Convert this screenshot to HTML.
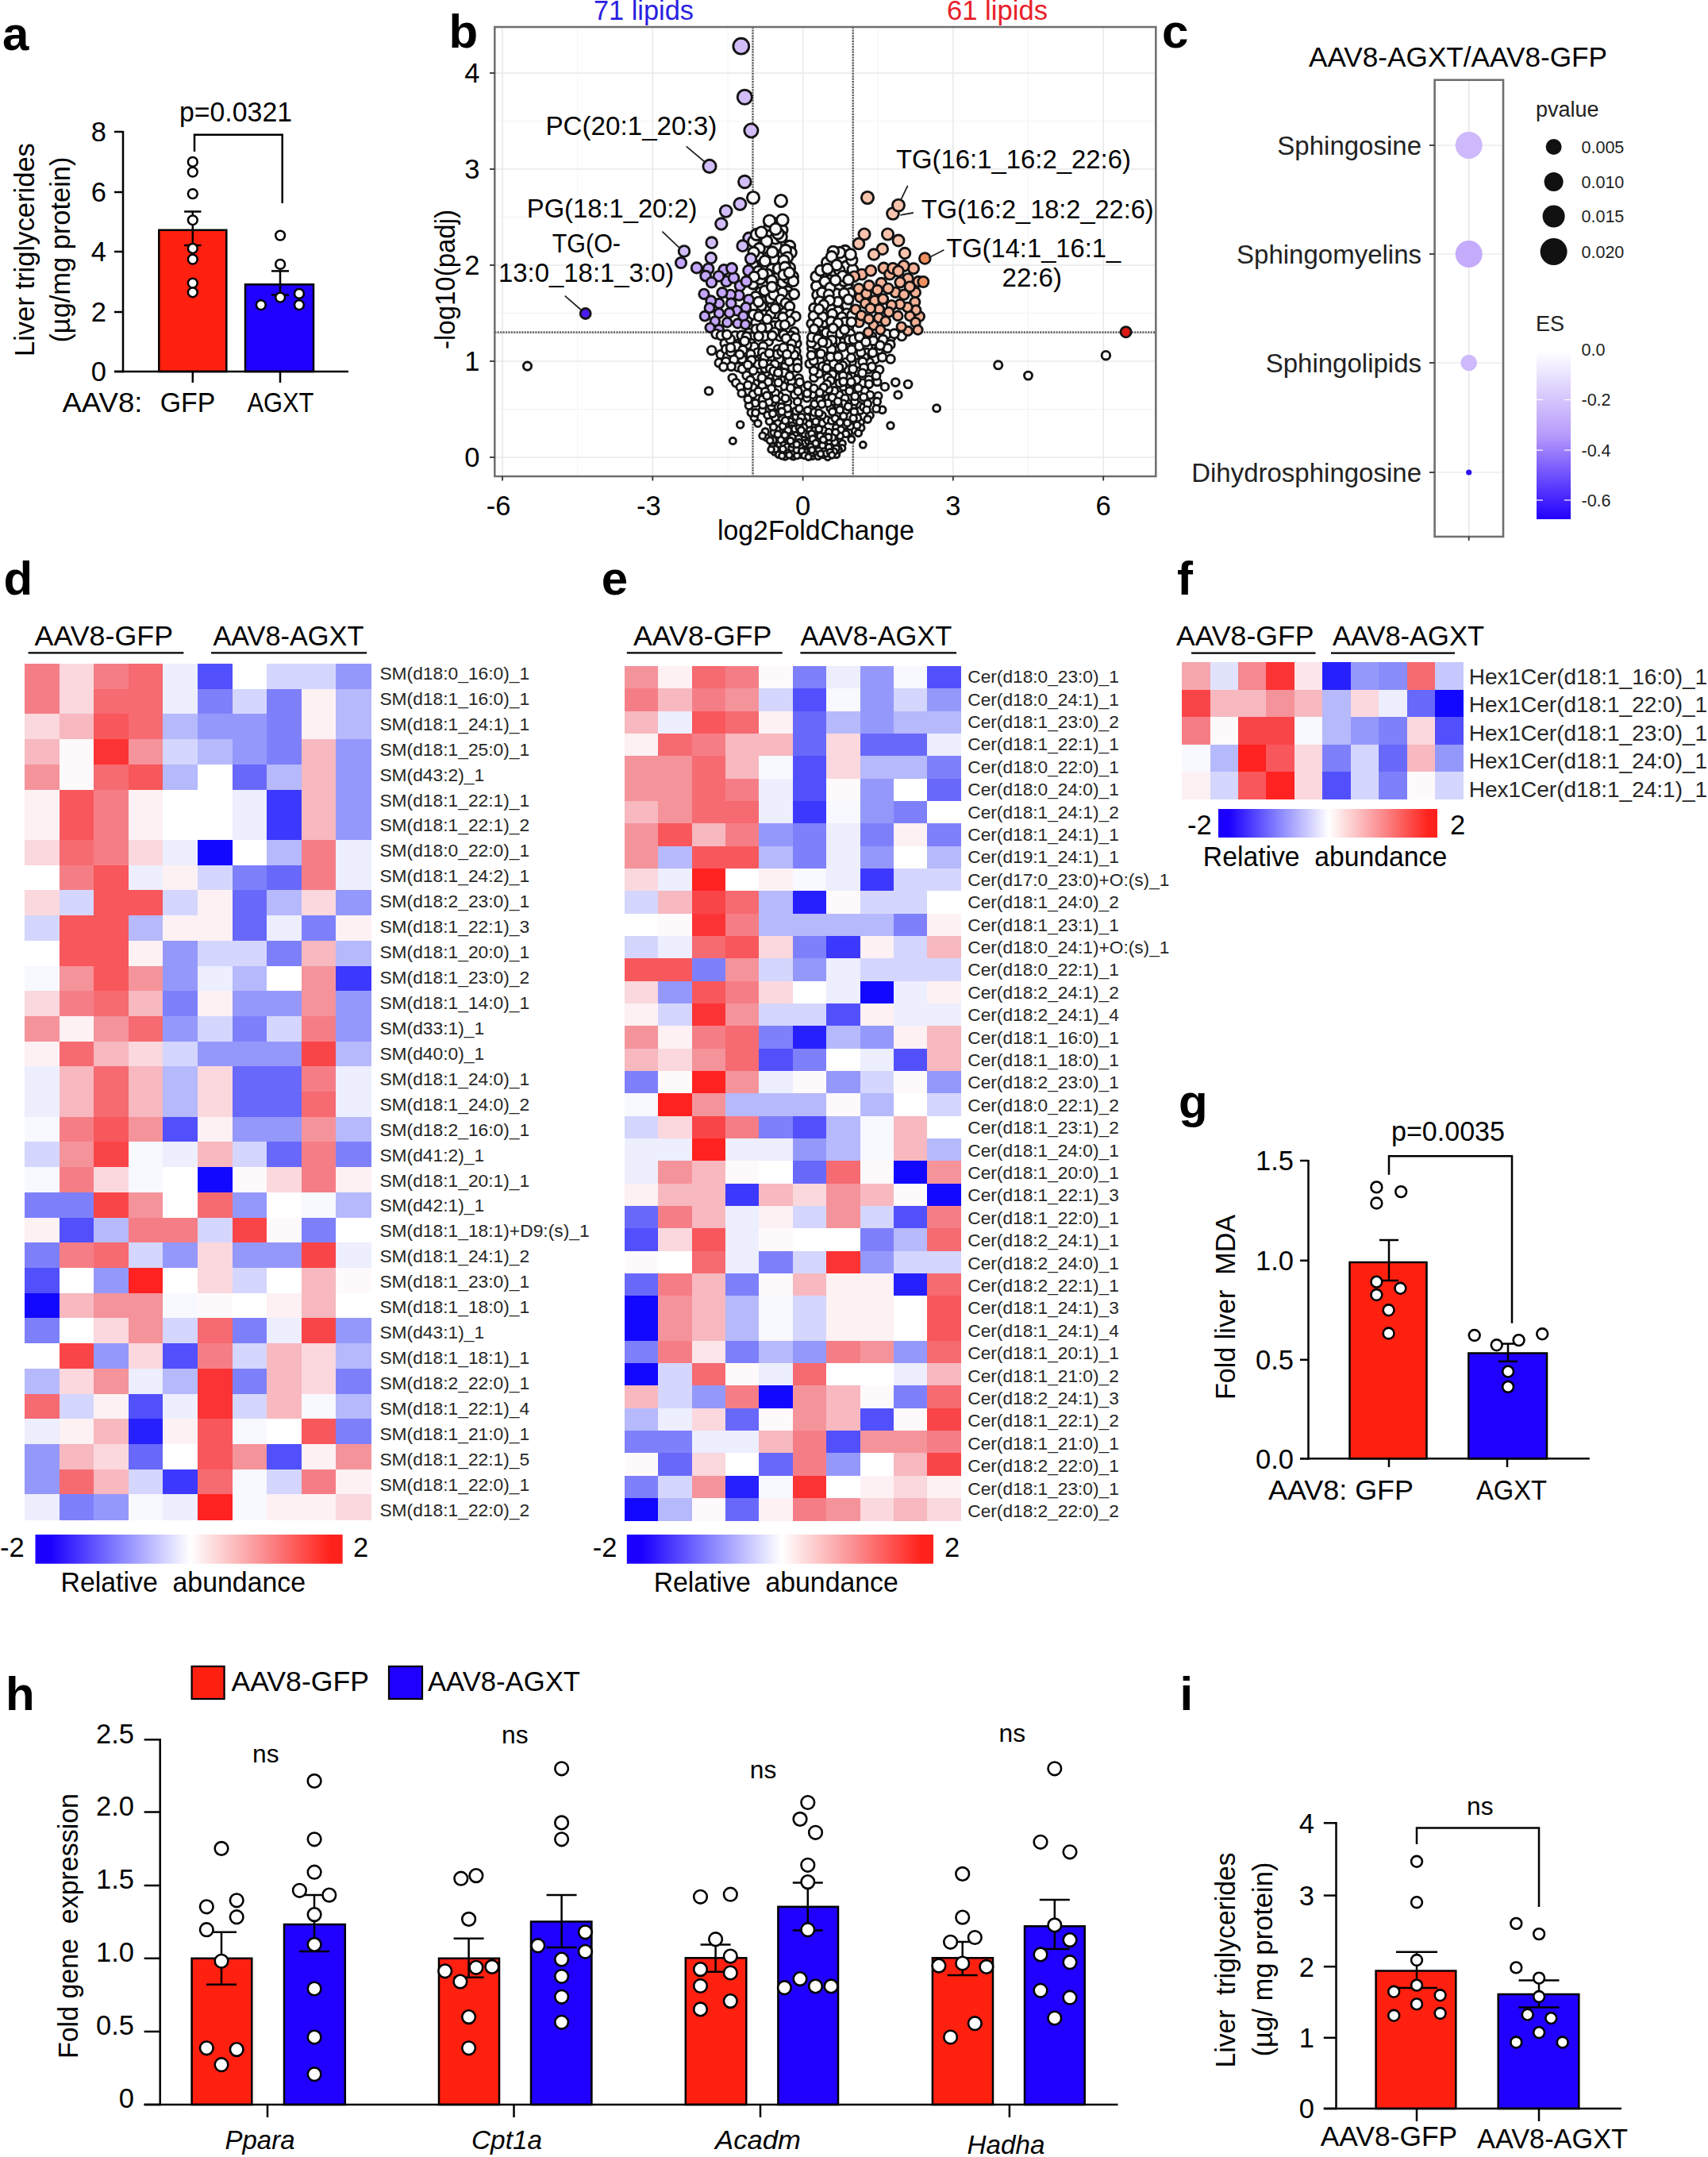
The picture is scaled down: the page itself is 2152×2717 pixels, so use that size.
<!DOCTYPE html>
<html lang="en"><head><meta charset="utf-8"><title>Figure</title>
<style>
html,body{margin:0;padding:0;background:#fff;}
body{width:2152px;height:2717px;overflow:hidden;}
svg{display:block;font-family:'Liberation Sans', Arial, sans-serif;}
</style></head><body>
<svg width="2152" height="2717" viewBox="0 0 2152 2717">
<rect width="2152" height="2717" fill="#fff"/>
<text x="3.0" y="63.0" font-size="60" font-weight="bold" fill="#000">a</text>
<rect x="200.3" y="289.8" width="85.0" height="178.2" fill="#ff2010" stroke="#000" stroke-width="2.5"/>
<rect x="309.0" y="358.3" width="86.0" height="109.7" fill="#2000ff" stroke="#000" stroke-width="2.5"/>
<line x1="155.0" y1="165.0" x2="155.0" y2="469.2" stroke="#000" stroke-width="2.5"/>
<line x1="144.0" y1="468.0" x2="439.0" y2="468.0" stroke="#000" stroke-width="2.5"/>
<line x1="144.0" y1="166.0" x2="155.0" y2="166.0" stroke="#000" stroke-width="2.5"/>
<text x="134.0" y="178.3" font-size="34.5" text-anchor="end">8</text>
<line x1="144.0" y1="242.0" x2="155.0" y2="242.0" stroke="#000" stroke-width="2.5"/>
<text x="134.0" y="254.3" font-size="34.5" text-anchor="end">6</text>
<line x1="144.0" y1="317.0" x2="155.0" y2="317.0" stroke="#000" stroke-width="2.5"/>
<text x="134.0" y="329.3" font-size="34.5" text-anchor="end">4</text>
<line x1="144.0" y1="393.0" x2="155.0" y2="393.0" stroke="#000" stroke-width="2.5"/>
<text x="134.0" y="405.3" font-size="34.5" text-anchor="end">2</text>
<line x1="144.0" y1="468.0" x2="155.0" y2="468.0" stroke="#000" stroke-width="2.5"/>
<text x="134.0" y="480.3" font-size="34.5" text-anchor="end">0</text>
<line x1="242.8" y1="468.0" x2="242.8" y2="482.0" stroke="#000" stroke-width="2.5"/>
<line x1="353.0" y1="468.0" x2="353.0" y2="482.0" stroke="#000" stroke-width="2.5"/>
<line x1="242.8" y1="266.5" x2="242.8" y2="309.0" stroke="#000" stroke-width="2.5"/>
<line x1="232.1" y1="266.5" x2="253.5" y2="266.5" stroke="#000" stroke-width="2.5"/>
<line x1="232.1" y1="309.0" x2="253.5" y2="309.0" stroke="#000" stroke-width="2.5"/>
<line x1="353.0" y1="341.4" x2="353.0" y2="371.5" stroke="#000" stroke-width="2.5"/>
<line x1="342.0" y1="341.4" x2="364.0" y2="341.4" stroke="#000" stroke-width="2.5"/>
<line x1="342.0" y1="371.5" x2="364.0" y2="371.5" stroke="#000" stroke-width="2.5"/>
<circle cx="242.8" cy="203.9" r="5.9" fill="#fff" stroke="#000" stroke-width="2.5"/>
<circle cx="242.8" cy="216.6" r="5.9" fill="#fff" stroke="#000" stroke-width="2.5"/>
<circle cx="242.8" cy="244.1" r="5.9" fill="#fff" stroke="#000" stroke-width="2.5"/>
<circle cx="242.8" cy="277.3" r="5.9" fill="#fff" stroke="#000" stroke-width="2.5"/>
<circle cx="242.8" cy="313.0" r="5.9" fill="#fff" stroke="#000" stroke-width="2.5"/>
<circle cx="242.8" cy="326.6" r="5.9" fill="#fff" stroke="#000" stroke-width="2.5"/>
<circle cx="242.8" cy="356.6" r="5.9" fill="#fff" stroke="#000" stroke-width="2.5"/>
<circle cx="242.8" cy="368.3" r="5.9" fill="#fff" stroke="#000" stroke-width="2.5"/>
<circle cx="353.1" cy="296.6" r="5.9" fill="#fff" stroke="#000" stroke-width="2.5"/>
<circle cx="353.1" cy="332.9" r="5.9" fill="#fff" stroke="#000" stroke-width="2.5"/>
<circle cx="328.8" cy="384.1" r="5.9" fill="#fff" stroke="#000" stroke-width="2.5"/>
<circle cx="353.1" cy="374.6" r="5.9" fill="#fff" stroke="#000" stroke-width="2.5"/>
<circle cx="376.9" cy="369.9" r="5.9" fill="#fff" stroke="#000" stroke-width="2.5"/>
<circle cx="376.9" cy="384.1" r="5.9" fill="#fff" stroke="#000" stroke-width="2.5"/>
<text x="226.0" y="153.0" font-size="34.5" textLength="142.0" lengthAdjust="spacingAndGlyphs">p=0.0321</text>
<polyline fill="none" stroke="#000" stroke-width="2.5" points="245.0,191.0 245.0,169.7 355.7,169.7 355.7,256.0"/>
<text x="78.4" y="518.5" font-size="34.5" textLength="101.0" lengthAdjust="spacingAndGlyphs">AAV8:</text>
<text x="201.7" y="518.5" font-size="34.5" textLength="69.5" lengthAdjust="spacingAndGlyphs">GFP</text>
<text x="311.4" y="518.5" font-size="34.5" textLength="84.0" lengthAdjust="spacingAndGlyphs">AGXT</text>
<text x="42.7" y="314.6" font-size="34.5" text-anchor="middle" textLength="269.0" lengthAdjust="spacingAndGlyphs" transform="rotate(-90 42.7 314.6)">Liver  triglycerides</text>
<text x="88.5" y="314.6" font-size="34.5" text-anchor="middle" textLength="234.0" lengthAdjust="spacingAndGlyphs" transform="rotate(-90 88.5 314.6)">(µg/mg protein)</text>
<rect x="623.3" y="34.0" width="833.0" height="566.0" fill="#fff"/>
<line x1="727.7" y1="34.0" x2="727.7" y2="600.0" stroke="#f3f3f3" stroke-width="1"/>
<line x1="917.0" y1="34.0" x2="917.0" y2="600.0" stroke="#f3f3f3" stroke-width="1"/>
<line x1="1106.2" y1="34.0" x2="1106.2" y2="600.0" stroke="#f3f3f3" stroke-width="1"/>
<line x1="1295.5" y1="34.0" x2="1295.5" y2="600.0" stroke="#f3f3f3" stroke-width="1"/>
<line x1="623.3" y1="515.5" x2="1456.3" y2="515.5" stroke="#f3f3f3" stroke-width="1"/>
<line x1="623.3" y1="394.5" x2="1456.3" y2="394.5" stroke="#f3f3f3" stroke-width="1"/>
<line x1="623.3" y1="273.5" x2="1456.3" y2="273.5" stroke="#f3f3f3" stroke-width="1"/>
<line x1="623.3" y1="152.5" x2="1456.3" y2="152.5" stroke="#f3f3f3" stroke-width="1"/>
<line x1="633.0" y1="34.0" x2="633.0" y2="600.0" stroke="#e9e9e9" stroke-width="1.6"/>
<line x1="822.3" y1="34.0" x2="822.3" y2="600.0" stroke="#e9e9e9" stroke-width="1.6"/>
<line x1="1011.6" y1="34.0" x2="1011.6" y2="600.0" stroke="#e9e9e9" stroke-width="1.6"/>
<line x1="1200.9" y1="34.0" x2="1200.9" y2="600.0" stroke="#e9e9e9" stroke-width="1.6"/>
<line x1="1390.2" y1="34.0" x2="1390.2" y2="600.0" stroke="#e9e9e9" stroke-width="1.6"/>
<line x1="623.3" y1="576.0" x2="1456.3" y2="576.0" stroke="#e9e9e9" stroke-width="1.6"/>
<line x1="623.3" y1="455.0" x2="1456.3" y2="455.0" stroke="#e9e9e9" stroke-width="1.6"/>
<line x1="623.3" y1="334.0" x2="1456.3" y2="334.0" stroke="#e9e9e9" stroke-width="1.6"/>
<line x1="623.3" y1="213.0" x2="1456.3" y2="213.0" stroke="#e9e9e9" stroke-width="1.6"/>
<line x1="623.3" y1="92.0" x2="1456.3" y2="92.0" stroke="#e9e9e9" stroke-width="1.6"/>
<line x1="948.5" y1="34.0" x2="948.5" y2="600.0" stroke="#5a5a5a" stroke-width="2.4" stroke-dasharray="2.2 1.2"/>
<line x1="1074.7" y1="34.0" x2="1074.7" y2="600.0" stroke="#5a5a5a" stroke-width="2.4" stroke-dasharray="2.2 1.2"/>
<line x1="623.3" y1="418.7" x2="1456.3" y2="418.7" stroke="#6a6a6a" stroke-width="2.8" stroke-dasharray="2.2 1.2"/>
<circle cx="933.8" cy="58.2" r="9.9" fill="#d2bdf8" stroke="#141414" stroke-width="2.9"/>
<circle cx="938.3" cy="122.3" r="9.1" fill="#d2bdf8" stroke="#141414" stroke-width="2.9"/>
<circle cx="946.4" cy="164.5" r="8.6" fill="#d2bdf8" stroke="#141414" stroke-width="2.9"/>
<circle cx="894.0" cy="209.4" r="8.1" fill="#d2bdf8" stroke="#141414" stroke-width="2.9"/>
<circle cx="1093.0" cy="249.0" r="7.6" fill="#f8c3ad" stroke="#141414" stroke-width="2.9"/>
<circle cx="938.3" cy="229.0" r="7.8" fill="#d2bdf8" stroke="#141414" stroke-width="2.9"/>
<circle cx="1125.0" cy="269.0" r="7.4" fill="#f8c3ad" stroke="#141414" stroke-width="2.9"/>
<circle cx="949.0" cy="249.0" r="7.6" fill="#fafafa" stroke="#141414" stroke-width="2.9"/>
<circle cx="984.0" cy="253.0" r="7.6" fill="#fafafa" stroke="#141414" stroke-width="2.9"/>
<circle cx="985.0" cy="289.7" r="7.1" fill="#fafafa" stroke="#141414" stroke-width="2.9"/>
<circle cx="914.7" cy="266.0" r="7.4" fill="#d2bdf8" stroke="#141414" stroke-width="2.9"/>
<circle cx="969.3" cy="287.9" r="7.1" fill="#fafafa" stroke="#141414" stroke-width="2.9"/>
<circle cx="932.4" cy="257.0" r="7.5" fill="#d2bdf8" stroke="#141414" stroke-width="2.9"/>
<circle cx="975.3" cy="281.7" r="7.2" fill="#fafafa" stroke="#141414" stroke-width="2.9"/>
<circle cx="943.7" cy="300.0" r="7.0" fill="#d2bdf8" stroke="#141414" stroke-width="2.9"/>
<circle cx="1132.0" cy="258.6" r="7.5" fill="#f8c3ad" stroke="#141414" stroke-width="2.9"/>
<circle cx="985.9" cy="277.2" r="7.3" fill="#fafafa" stroke="#141414" stroke-width="2.9"/>
<circle cx="949.5" cy="304.2" r="6.9" fill="#fafafa" stroke="#141414" stroke-width="2.9"/>
<circle cx="987.0" cy="308.0" r="6.9" fill="#fafafa" stroke="#141414" stroke-width="2.9"/>
<circle cx="977.9" cy="309.7" r="6.9" fill="#fafafa" stroke="#141414" stroke-width="2.9"/>
<circle cx="935.7" cy="309.7" r="6.9" fill="#d2bdf8" stroke="#141414" stroke-width="2.9"/>
<circle cx="1082.0" cy="307.0" r="6.9" fill="#f8c3ad" stroke="#141414" stroke-width="2.9"/>
<circle cx="862.0" cy="316.4" r="6.8" fill="#d2bdf8" stroke="#141414" stroke-width="2.9"/>
<circle cx="970.1" cy="297.0" r="7.0" fill="#fafafa" stroke="#141414" stroke-width="2.9"/>
<circle cx="1089.0" cy="295.0" r="7.1" fill="#f8c3ad" stroke="#141414" stroke-width="2.9"/>
<circle cx="977.2" cy="300.3" r="7.0" fill="#fafafa" stroke="#141414" stroke-width="2.9"/>
<circle cx="984.4" cy="298.3" r="7.0" fill="#fafafa" stroke="#141414" stroke-width="2.9"/>
<circle cx="969.5" cy="278.2" r="7.3" fill="#fafafa" stroke="#141414" stroke-width="2.9"/>
<circle cx="908.8" cy="282.0" r="7.2" fill="#d2bdf8" stroke="#141414" stroke-width="2.9"/>
<circle cx="963.1" cy="315.2" r="6.8" fill="#fafafa" stroke="#141414" stroke-width="2.9"/>
<circle cx="980.2" cy="294.0" r="7.1" fill="#fafafa" stroke="#141414" stroke-width="2.9"/>
<circle cx="965.8" cy="304.0" r="7.0" fill="#fafafa" stroke="#141414" stroke-width="2.9"/>
<circle cx="977.2" cy="288.5" r="7.1" fill="#fafafa" stroke="#141414" stroke-width="2.9"/>
<circle cx="858.0" cy="331.0" r="6.6" fill="#c3a5fa" stroke="#141414" stroke-width="2.9"/>
<circle cx="896.7" cy="305.7" r="6.9" fill="#d2bdf8" stroke="#141414" stroke-width="2.9"/>
<circle cx="981.8" cy="332.1" r="6.6" fill="#fafafa" stroke="#141414" stroke-width="2.9"/>
<circle cx="877.8" cy="337.4" r="6.6" fill="#c3a5fa" stroke="#141414" stroke-width="2.9"/>
<circle cx="953.2" cy="295.4" r="7.1" fill="#fafafa" stroke="#141414" stroke-width="2.9"/>
<circle cx="1132.0" cy="303.0" r="7.0" fill="#f8c3ad" stroke="#141414" stroke-width="2.9"/>
<circle cx="1064.8" cy="316.1" r="6.8" fill="#fafafa" stroke="#141414" stroke-width="2.9"/>
<circle cx="912.1" cy="340.0" r="6.5" fill="#c3a5fa" stroke="#141414" stroke-width="2.9"/>
<circle cx="959.3" cy="292.7" r="7.1" fill="#fafafa" stroke="#141414" stroke-width="2.9"/>
<circle cx="994.9" cy="310.1" r="6.9" fill="#fafafa" stroke="#141414" stroke-width="2.9"/>
<circle cx="1118.5" cy="295.0" r="7.1" fill="#f8c3ad" stroke="#141414" stroke-width="2.9"/>
<circle cx="996.6" cy="318.1" r="6.8" fill="#fafafa" stroke="#141414" stroke-width="2.9"/>
<circle cx="1066.5" cy="335.3" r="6.6" fill="#fafafa" stroke="#141414" stroke-width="2.9"/>
<circle cx="1058.1" cy="318.1" r="6.8" fill="#fafafa" stroke="#141414" stroke-width="2.9"/>
<circle cx="956.6" cy="313.0" r="6.8" fill="#fafafa" stroke="#141414" stroke-width="2.9"/>
<circle cx="1151.0" cy="338.2" r="6.6" fill="#f6b297" stroke="#141414" stroke-width="2.9"/>
<circle cx="999.2" cy="348.2" r="6.4" fill="#fafafa" stroke="#141414" stroke-width="2.9"/>
<circle cx="1074.4" cy="339.6" r="6.5" fill="#fafafa" stroke="#141414" stroke-width="2.9"/>
<circle cx="987.2" cy="320.7" r="6.8" fill="#fafafa" stroke="#141414" stroke-width="2.9"/>
<circle cx="957.1" cy="324.6" r="6.7" fill="#fafafa" stroke="#141414" stroke-width="2.9"/>
<circle cx="955.0" cy="335.1" r="6.6" fill="#fafafa" stroke="#141414" stroke-width="2.9"/>
<circle cx="1049.8" cy="316.9" r="6.8" fill="#fafafa" stroke="#141414" stroke-width="2.9"/>
<circle cx="1111.8" cy="313.7" r="6.8" fill="#f8c3ad" stroke="#141414" stroke-width="2.9"/>
<circle cx="962.5" cy="336.8" r="6.6" fill="#fafafa" stroke="#141414" stroke-width="2.9"/>
<circle cx="1138.7" cy="335.0" r="6.6" fill="#f6b297" stroke="#141414" stroke-width="2.9"/>
<circle cx="1113.5" cy="337.6" r="6.6" fill="#f6b297" stroke="#141414" stroke-width="2.9"/>
<circle cx="1047.8" cy="345.3" r="6.5" fill="#fafafa" stroke="#141414" stroke-width="2.9"/>
<circle cx="915.2" cy="354.5" r="6.4" fill="#c3a5fa" stroke="#141414" stroke-width="2.9"/>
<circle cx="989.8" cy="315.1" r="6.8" fill="#fafafa" stroke="#141414" stroke-width="2.9"/>
<circle cx="948.7" cy="333.8" r="6.6" fill="#fafafa" stroke="#141414" stroke-width="2.9"/>
<circle cx="972.4" cy="339.4" r="6.5" fill="#fafafa" stroke="#141414" stroke-width="2.9"/>
<circle cx="1085.8" cy="345.6" r="6.5" fill="#f6b297" stroke="#141414" stroke-width="2.9"/>
<circle cx="969.1" cy="323.3" r="6.7" fill="#fafafa" stroke="#141414" stroke-width="2.9"/>
<circle cx="965.7" cy="352.0" r="6.4" fill="#fafafa" stroke="#141414" stroke-width="2.9"/>
<circle cx="932.3" cy="360.2" r="6.3" fill="#c3a5fa" stroke="#141414" stroke-width="2.9"/>
<circle cx="1073.3" cy="327.7" r="6.7" fill="#fafafa" stroke="#141414" stroke-width="2.9"/>
<circle cx="1028.7" cy="360.5" r="6.3" fill="#fafafa" stroke="#141414" stroke-width="2.9"/>
<circle cx="1057.7" cy="340.4" r="6.5" fill="#fafafa" stroke="#141414" stroke-width="2.9"/>
<circle cx="961.0" cy="359.3" r="6.3" fill="#fafafa" stroke="#141414" stroke-width="2.9"/>
<circle cx="1067.6" cy="358.3" r="6.3" fill="#fafafa" stroke="#141414" stroke-width="2.9"/>
<circle cx="1101.0" cy="320.5" r="6.8" fill="#f8c3ad" stroke="#141414" stroke-width="2.9"/>
<circle cx="1028.2" cy="348.4" r="6.4" fill="#fafafa" stroke="#141414" stroke-width="2.9"/>
<circle cx="975.0" cy="326.1" r="6.7" fill="#fafafa" stroke="#141414" stroke-width="2.9"/>
<circle cx="943.1" cy="340.9" r="6.5" fill="#c3a5fa" stroke="#141414" stroke-width="2.9"/>
<circle cx="967.2" cy="345.7" r="6.5" fill="#fafafa" stroke="#141414" stroke-width="2.9"/>
<circle cx="948.6" cy="357.7" r="6.3" fill="#fafafa" stroke="#141414" stroke-width="2.9"/>
<circle cx="905.5" cy="348.0" r="6.4" fill="#c3a5fa" stroke="#141414" stroke-width="2.9"/>
<circle cx="1042.0" cy="330.5" r="6.6" fill="#fafafa" stroke="#141414" stroke-width="2.9"/>
<circle cx="963.8" cy="328.8" r="6.7" fill="#fafafa" stroke="#141414" stroke-width="2.9"/>
<circle cx="973.1" cy="317.5" r="6.8" fill="#fafafa" stroke="#141414" stroke-width="2.9"/>
<circle cx="980.6" cy="338.6" r="6.5" fill="#fafafa" stroke="#141414" stroke-width="2.9"/>
<circle cx="1140.0" cy="319.0" r="6.8" fill="#f8c3ad" stroke="#141414" stroke-width="2.9"/>
<circle cx="981.5" cy="359.9" r="6.3" fill="#fafafa" stroke="#141414" stroke-width="2.9"/>
<circle cx="1144.0" cy="351.0" r="6.4" fill="#f6b297" stroke="#141414" stroke-width="2.9"/>
<circle cx="1121.0" cy="345.6" r="6.5" fill="#f6b297" stroke="#141414" stroke-width="2.9"/>
<circle cx="992.1" cy="324.3" r="6.7" fill="#fafafa" stroke="#141414" stroke-width="2.9"/>
<circle cx="924.5" cy="350.0" r="6.4" fill="#c3a5fa" stroke="#141414" stroke-width="2.9"/>
<circle cx="1157.2" cy="354.7" r="6.4" fill="#f6b297" stroke="#141414" stroke-width="2.9"/>
<circle cx="1125.0" cy="338.0" r="6.6" fill="#f6b297" stroke="#141414" stroke-width="2.9"/>
<circle cx="895.8" cy="325.0" r="6.7" fill="#d2bdf8" stroke="#141414" stroke-width="2.9"/>
<circle cx="949.6" cy="318.0" r="6.8" fill="#fafafa" stroke="#141414" stroke-width="2.9"/>
<circle cx="957.8" cy="368.3" r="6.2" fill="#fafafa" stroke="#141414" stroke-width="2.9"/>
<circle cx="986.2" cy="355.8" r="6.3" fill="#fafafa" stroke="#141414" stroke-width="2.9"/>
<circle cx="1047.8" cy="323.2" r="6.7" fill="#fafafa" stroke="#141414" stroke-width="2.9"/>
<circle cx="1110.3" cy="356.5" r="6.3" fill="#f6b297" stroke="#141414" stroke-width="2.9"/>
<circle cx="1071.6" cy="320.4" r="6.8" fill="#fafafa" stroke="#141414" stroke-width="2.9"/>
<circle cx="955.6" cy="341.7" r="6.5" fill="#fafafa" stroke="#141414" stroke-width="2.9"/>
<circle cx="931.1" cy="372.1" r="6.2" fill="#c3a5fa" stroke="#141414" stroke-width="2.9"/>
<circle cx="892.5" cy="338.6" r="6.5" fill="#c3a5fa" stroke="#141414" stroke-width="2.9"/>
<circle cx="1083.6" cy="374.5" r="6.1" fill="#f6b297" stroke="#141414" stroke-width="2.9"/>
<circle cx="987.5" cy="328.3" r="6.7" fill="#fafafa" stroke="#141414" stroke-width="2.9"/>
<circle cx="992.2" cy="350.2" r="6.4" fill="#fafafa" stroke="#141414" stroke-width="2.9"/>
<circle cx="995.1" cy="337.5" r="6.6" fill="#fafafa" stroke="#141414" stroke-width="2.9"/>
<circle cx="1054.2" cy="333.9" r="6.6" fill="#fafafa" stroke="#141414" stroke-width="2.9"/>
<circle cx="1102.0" cy="378.7" r="6.1" fill="#f6b297" stroke="#141414" stroke-width="2.9"/>
<circle cx="1046.2" cy="353.0" r="6.4" fill="#fafafa" stroke="#141414" stroke-width="2.9"/>
<circle cx="957.8" cy="351.8" r="6.4" fill="#fafafa" stroke="#141414" stroke-width="2.9"/>
<circle cx="946.0" cy="326.0" r="6.7" fill="#d2bdf8" stroke="#141414" stroke-width="2.9"/>
<circle cx="1038.9" cy="374.4" r="6.1" fill="#fafafa" stroke="#141414" stroke-width="2.9"/>
<circle cx="984.2" cy="385.6" r="6.0" fill="#fafafa" stroke="#141414" stroke-width="2.9"/>
<circle cx="952.1" cy="373.6" r="6.1" fill="#fafafa" stroke="#141414" stroke-width="2.9"/>
<circle cx="1134.1" cy="355.7" r="6.3" fill="#f6b297" stroke="#141414" stroke-width="2.9"/>
<circle cx="1057.5" cy="363.4" r="6.3" fill="#fafafa" stroke="#141414" stroke-width="2.9"/>
<circle cx="889.1" cy="347.6" r="6.4" fill="#c3a5fa" stroke="#141414" stroke-width="2.9"/>
<circle cx="1053.8" cy="370.0" r="6.2" fill="#fafafa" stroke="#141414" stroke-width="2.9"/>
<circle cx="1039.3" cy="354.8" r="6.4" fill="#fafafa" stroke="#141414" stroke-width="2.9"/>
<circle cx="962.3" cy="379.9" r="6.1" fill="#fafafa" stroke="#141414" stroke-width="2.9"/>
<circle cx="1033.9" cy="340.8" r="6.5" fill="#fafafa" stroke="#141414" stroke-width="2.9"/>
<circle cx="992.7" cy="367.0" r="6.2" fill="#fafafa" stroke="#141414" stroke-width="2.9"/>
<circle cx="922.0" cy="338.1" r="6.6" fill="#c3a5fa" stroke="#141414" stroke-width="2.9"/>
<circle cx="1128.2" cy="368.3" r="6.2" fill="#f6b297" stroke="#141414" stroke-width="2.9"/>
<circle cx="989.1" cy="336.6" r="6.6" fill="#fafafa" stroke="#141414" stroke-width="2.9"/>
<circle cx="1082.0" cy="363.8" r="6.3" fill="#f6b297" stroke="#141414" stroke-width="2.9"/>
<circle cx="1029.8" cy="371.6" r="6.2" fill="#fafafa" stroke="#141414" stroke-width="2.9"/>
<circle cx="920.5" cy="371.3" r="6.2" fill="#c3a5fa" stroke="#141414" stroke-width="2.9"/>
<circle cx="1091.6" cy="370.0" r="6.2" fill="#f6b297" stroke="#141414" stroke-width="2.9"/>
<circle cx="960.9" cy="345.0" r="6.5" fill="#fafafa" stroke="#141414" stroke-width="2.9"/>
<circle cx="1046.0" cy="362.4" r="6.3" fill="#fafafa" stroke="#141414" stroke-width="2.9"/>
<circle cx="1042.7" cy="338.8" r="6.5" fill="#fafafa" stroke="#141414" stroke-width="2.9"/>
<circle cx="949.7" cy="385.6" r="6.0" fill="#fafafa" stroke="#141414" stroke-width="2.9"/>
<circle cx="1131.9" cy="341.6" r="6.5" fill="#f6b297" stroke="#141414" stroke-width="2.9"/>
<circle cx="1063.2" cy="354.1" r="6.4" fill="#fafafa" stroke="#141414" stroke-width="2.9"/>
<circle cx="987.2" cy="346.2" r="6.5" fill="#fafafa" stroke="#141414" stroke-width="2.9"/>
<circle cx="1071.2" cy="369.3" r="6.2" fill="#fafafa" stroke="#141414" stroke-width="2.9"/>
<circle cx="994.2" cy="372.9" r="6.1" fill="#fafafa" stroke="#141414" stroke-width="2.9"/>
<circle cx="1047.0" cy="389.3" r="6.0" fill="#fafafa" stroke="#141414" stroke-width="2.9"/>
<circle cx="1055.6" cy="380.2" r="6.1" fill="#fafafa" stroke="#141414" stroke-width="2.9"/>
<circle cx="1055.9" cy="392.1" r="5.9" fill="#fafafa" stroke="#141414" stroke-width="2.9"/>
<circle cx="921.2" cy="382.0" r="6.0" fill="#c3a5fa" stroke="#141414" stroke-width="2.9"/>
<circle cx="1097.2" cy="340.9" r="6.5" fill="#f6b297" stroke="#141414" stroke-width="2.9"/>
<circle cx="1095.0" cy="359.8" r="6.3" fill="#f6b297" stroke="#141414" stroke-width="2.9"/>
<circle cx="988.7" cy="393.9" r="5.9" fill="#fafafa" stroke="#141414" stroke-width="2.9"/>
<circle cx="999.4" cy="354.2" r="6.4" fill="#fafafa" stroke="#141414" stroke-width="2.9"/>
<circle cx="943.4" cy="377.5" r="6.1" fill="#c3a5fa" stroke="#141414" stroke-width="2.9"/>
<circle cx="887.0" cy="370.3" r="6.2" fill="#c3a5fa" stroke="#141414" stroke-width="2.9"/>
<circle cx="994.6" cy="343.5" r="6.5" fill="#fafafa" stroke="#141414" stroke-width="2.9"/>
<circle cx="906.1" cy="382.3" r="6.0" fill="#c3a5fa" stroke="#141414" stroke-width="2.9"/>
<circle cx="1153.4" cy="368.4" r="6.2" fill="#f6b297" stroke="#141414" stroke-width="2.9"/>
<circle cx="1076.3" cy="348.3" r="6.4" fill="#f6b297" stroke="#141414" stroke-width="2.9"/>
<circle cx="1152.8" cy="380.6" r="6.1" fill="#f6b297" stroke="#141414" stroke-width="2.9"/>
<circle cx="1105.5" cy="365.4" r="6.2" fill="#f6b297" stroke="#141414" stroke-width="2.9"/>
<circle cx="972.5" cy="353.4" r="6.4" fill="#fafafa" stroke="#141414" stroke-width="2.9"/>
<circle cx="1066.9" cy="384.6" r="6.0" fill="#fafafa" stroke="#141414" stroke-width="2.9"/>
<circle cx="1146.3" cy="361.2" r="6.3" fill="#f6b297" stroke="#141414" stroke-width="2.9"/>
<circle cx="977.2" cy="379.3" r="6.1" fill="#fafafa" stroke="#141414" stroke-width="2.9"/>
<circle cx="1158.8" cy="398.6" r="5.8" fill="#f6b297" stroke="#141414" stroke-width="2.9"/>
<circle cx="1154.1" cy="390.6" r="5.9" fill="#f6b297" stroke="#141414" stroke-width="2.9"/>
<circle cx="963.5" cy="366.2" r="6.2" fill="#fafafa" stroke="#141414" stroke-width="2.9"/>
<circle cx="888.0" cy="398.2" r="5.9" fill="#c3a5fa" stroke="#141414" stroke-width="2.9"/>
<circle cx="950.2" cy="348.7" r="6.4" fill="#fafafa" stroke="#141414" stroke-width="2.9"/>
<circle cx="1061.6" cy="347.8" r="6.4" fill="#fafafa" stroke="#141414" stroke-width="2.9"/>
<circle cx="940.3" cy="354.6" r="6.4" fill="#c3a5fa" stroke="#141414" stroke-width="2.9"/>
<circle cx="1063.5" cy="369.4" r="6.2" fill="#fafafa" stroke="#141414" stroke-width="2.9"/>
<circle cx="909.9" cy="368.7" r="6.2" fill="#c3a5fa" stroke="#141414" stroke-width="2.9"/>
<circle cx="896.5" cy="355.7" r="6.3" fill="#c3a5fa" stroke="#141414" stroke-width="2.9"/>
<circle cx="970.5" cy="376.1" r="6.1" fill="#fafafa" stroke="#141414" stroke-width="2.9"/>
<circle cx="1119.1" cy="363.4" r="6.3" fill="#f6b297" stroke="#141414" stroke-width="2.9"/>
<circle cx="952.4" cy="406.5" r="5.8" fill="#fafafa" stroke="#141414" stroke-width="2.9"/>
<circle cx="1069.1" cy="352.4" r="6.4" fill="#fafafa" stroke="#141414" stroke-width="2.9"/>
<circle cx="1066.6" cy="394.8" r="5.9" fill="#fafafa" stroke="#141414" stroke-width="2.9"/>
<circle cx="1073.2" cy="397.3" r="5.9" fill="#fafafa" stroke="#141414" stroke-width="2.9"/>
<circle cx="1052.6" cy="353.1" r="6.4" fill="#fafafa" stroke="#141414" stroke-width="2.9"/>
<circle cx="1078.0" cy="389.8" r="5.9" fill="#f6b297" stroke="#141414" stroke-width="2.9"/>
<circle cx="1035.7" cy="368.5" r="6.2" fill="#fafafa" stroke="#141414" stroke-width="2.9"/>
<circle cx="974.8" cy="410.5" r="5.7" fill="#fafafa" stroke="#141414" stroke-width="2.9"/>
<circle cx="1082.5" cy="406.1" r="5.8" fill="#f6b297" stroke="#141414" stroke-width="2.9"/>
<circle cx="1112.6" cy="376.7" r="6.1" fill="#f6b297" stroke="#141414" stroke-width="2.9"/>
<circle cx="939.8" cy="387.2" r="6.0" fill="#c3a5fa" stroke="#141414" stroke-width="2.9"/>
<circle cx="1032.6" cy="379.7" r="6.1" fill="#fafafa" stroke="#141414" stroke-width="2.9"/>
<circle cx="1037.9" cy="413.6" r="5.7" fill="#fafafa" stroke="#141414" stroke-width="2.9"/>
<circle cx="985.8" cy="368.6" r="6.2" fill="#fafafa" stroke="#141414" stroke-width="2.9"/>
<circle cx="928.4" cy="391.3" r="5.9" fill="#c3a5fa" stroke="#141414" stroke-width="2.9"/>
<circle cx="964.0" cy="390.3" r="5.9" fill="#fafafa" stroke="#141414" stroke-width="2.9"/>
<circle cx="974.9" cy="371.2" r="6.2" fill="#fafafa" stroke="#141414" stroke-width="2.9"/>
<circle cx="895.8" cy="378.9" r="6.1" fill="#c3a5fa" stroke="#141414" stroke-width="2.9"/>
<circle cx="967.2" cy="412.0" r="5.7" fill="#fafafa" stroke="#141414" stroke-width="2.9"/>
<circle cx="977.9" cy="395.0" r="5.9" fill="#fafafa" stroke="#141414" stroke-width="2.9"/>
<circle cx="1048.7" cy="395.4" r="5.9" fill="#fafafa" stroke="#141414" stroke-width="2.9"/>
<circle cx="929.4" cy="407.5" r="5.7" fill="#c3a5fa" stroke="#141414" stroke-width="2.9"/>
<circle cx="1060.9" cy="399.4" r="5.8" fill="#fafafa" stroke="#141414" stroke-width="2.9"/>
<circle cx="1022.5" cy="407.8" r="5.7" fill="#fafafa" stroke="#141414" stroke-width="2.9"/>
<circle cx="1025.6" cy="388.2" r="6.0" fill="#fafafa" stroke="#141414" stroke-width="2.9"/>
<circle cx="972.6" cy="361.4" r="6.3" fill="#fafafa" stroke="#141414" stroke-width="2.9"/>
<circle cx="1085.3" cy="397.4" r="5.9" fill="#f6b297" stroke="#141414" stroke-width="2.9"/>
<circle cx="905.9" cy="414.9" r="5.7" fill="#c3a5fa" stroke="#141414" stroke-width="2.9"/>
<circle cx="1044.2" cy="371.1" r="6.2" fill="#fafafa" stroke="#141414" stroke-width="2.9"/>
<circle cx="962.8" cy="396.7" r="5.9" fill="#fafafa" stroke="#141414" stroke-width="2.9"/>
<circle cx="906.0" cy="394.6" r="5.9" fill="#c3a5fa" stroke="#141414" stroke-width="2.9"/>
<circle cx="1045.4" cy="378.5" r="6.1" fill="#fafafa" stroke="#141414" stroke-width="2.9"/>
<circle cx="1107.7" cy="389.6" r="6.0" fill="#f6b297" stroke="#141414" stroke-width="2.9"/>
<circle cx="1000.6" cy="370.5" r="6.2" fill="#fafafa" stroke="#141414" stroke-width="2.9"/>
<circle cx="1069.1" cy="411.4" r="5.7" fill="#fafafa" stroke="#141414" stroke-width="2.9"/>
<circle cx="959.4" cy="385.1" r="6.0" fill="#fafafa" stroke="#141414" stroke-width="2.9"/>
<circle cx="983.6" cy="377.5" r="6.1" fill="#fafafa" stroke="#141414" stroke-width="2.9"/>
<circle cx="1146.4" cy="398.1" r="5.9" fill="#f6b297" stroke="#141414" stroke-width="2.9"/>
<circle cx="1038.2" cy="406.5" r="5.8" fill="#fafafa" stroke="#141414" stroke-width="2.9"/>
<circle cx="959.2" cy="419.5" r="5.6" fill="#fafafa" stroke="#141414" stroke-width="2.9"/>
<circle cx="1090.3" cy="382.2" r="6.0" fill="#f6b297" stroke="#141414" stroke-width="2.9"/>
<circle cx="1139.0" cy="371.2" r="6.2" fill="#f6b297" stroke="#141414" stroke-width="2.9"/>
<circle cx="936.5" cy="398.2" r="5.9" fill="#c3a5fa" stroke="#141414" stroke-width="2.9"/>
<circle cx="1037.8" cy="384.0" r="6.0" fill="#fafafa" stroke="#141414" stroke-width="2.9"/>
<circle cx="1107.1" cy="400.3" r="5.8" fill="#f6b297" stroke="#141414" stroke-width="2.9"/>
<circle cx="1096.7" cy="388.5" r="6.0" fill="#f6b297" stroke="#141414" stroke-width="2.9"/>
<circle cx="971.0" cy="395.9" r="5.9" fill="#fafafa" stroke="#141414" stroke-width="2.9"/>
<circle cx="989.8" cy="381.8" r="6.0" fill="#fafafa" stroke="#141414" stroke-width="2.9"/>
<circle cx="943.5" cy="419.6" r="5.6" fill="#fafafa" stroke="#141414" stroke-width="2.9"/>
<circle cx="1098.4" cy="424.5" r="5.5" fill="#fafafa" stroke="#141414" stroke-width="2.9"/>
<circle cx="949.2" cy="396.2" r="5.9" fill="#fafafa" stroke="#141414" stroke-width="2.9"/>
<circle cx="1032.9" cy="422.1" r="5.6" fill="#fafafa" stroke="#141414" stroke-width="2.9"/>
<circle cx="1131.2" cy="397.9" r="5.9" fill="#f6b297" stroke="#141414" stroke-width="2.9"/>
<circle cx="1047.1" cy="404.8" r="5.8" fill="#fafafa" stroke="#141414" stroke-width="2.9"/>
<circle cx="1068.9" cy="377.2" r="6.1" fill="#fafafa" stroke="#141414" stroke-width="2.9"/>
<circle cx="902.3" cy="420.7" r="5.6" fill="#fafafa" stroke="#141414" stroke-width="2.9"/>
<circle cx="1143.4" cy="387.1" r="6.0" fill="#f6b297" stroke="#141414" stroke-width="2.9"/>
<circle cx="994.9" cy="386.1" r="6.0" fill="#fafafa" stroke="#141414" stroke-width="2.9"/>
<circle cx="1025.0" cy="397.9" r="5.9" fill="#fafafa" stroke="#141414" stroke-width="2.9"/>
<circle cx="913.3" cy="432.6" r="5.5" fill="#fafafa" stroke="#141414" stroke-width="2.9"/>
<circle cx="925.8" cy="431.5" r="5.5" fill="#fafafa" stroke="#141414" stroke-width="2.9"/>
<circle cx="1027.2" cy="420.0" r="5.6" fill="#fafafa" stroke="#141414" stroke-width="2.9"/>
<circle cx="900.9" cy="404.7" r="5.8" fill="#c3a5fa" stroke="#141414" stroke-width="2.9"/>
<circle cx="1136.2" cy="423.3" r="5.6" fill="#fafafa" stroke="#141414" stroke-width="2.9"/>
<circle cx="1071.4" cy="420.4" r="5.6" fill="#fafafa" stroke="#141414" stroke-width="2.9"/>
<circle cx="1133.9" cy="383.2" r="6.0" fill="#f6b297" stroke="#141414" stroke-width="2.9"/>
<circle cx="982.4" cy="423.8" r="5.6" fill="#fafafa" stroke="#141414" stroke-width="2.9"/>
<circle cx="1123.3" cy="384.4" r="6.0" fill="#f6b297" stroke="#141414" stroke-width="2.9"/>
<circle cx="952.6" cy="414.6" r="5.7" fill="#fafafa" stroke="#141414" stroke-width="2.9"/>
<circle cx="1116.8" cy="433.3" r="5.4" fill="#fafafa" stroke="#141414" stroke-width="2.9"/>
<circle cx="926.4" cy="423.0" r="5.6" fill="#fafafa" stroke="#141414" stroke-width="2.9"/>
<circle cx="1062.2" cy="431.5" r="5.5" fill="#fafafa" stroke="#141414" stroke-width="2.9"/>
<circle cx="939.1" cy="408.8" r="5.7" fill="#c3a5fa" stroke="#141414" stroke-width="2.9"/>
<circle cx="920.1" cy="427.4" r="5.5" fill="#fafafa" stroke="#141414" stroke-width="2.9"/>
<circle cx="968.2" cy="429.9" r="5.5" fill="#fafafa" stroke="#141414" stroke-width="2.9"/>
<circle cx="894.0" cy="387.9" r="6.0" fill="#c3a5fa" stroke="#141414" stroke-width="2.9"/>
<circle cx="1093.4" cy="437.2" r="5.4" fill="#fafafa" stroke="#141414" stroke-width="2.9"/>
<circle cx="995.7" cy="396.1" r="5.9" fill="#fafafa" stroke="#141414" stroke-width="2.9"/>
<circle cx="1122.7" cy="424.5" r="5.5" fill="#fafafa" stroke="#141414" stroke-width="2.9"/>
<circle cx="955.7" cy="380.2" r="6.1" fill="#fafafa" stroke="#141414" stroke-width="2.9"/>
<circle cx="927.8" cy="436.2" r="5.4" fill="#fafafa" stroke="#141414" stroke-width="2.9"/>
<circle cx="1121.8" cy="433.9" r="5.4" fill="#fafafa" stroke="#141414" stroke-width="2.9"/>
<circle cx="1002.5" cy="398.7" r="5.8" fill="#fafafa" stroke="#141414" stroke-width="2.9"/>
<circle cx="1064.3" cy="405.8" r="5.8" fill="#fafafa" stroke="#141414" stroke-width="2.9"/>
<circle cx="1143.9" cy="416.9" r="5.6" fill="#f6b297" stroke="#141414" stroke-width="2.9"/>
<circle cx="1100.7" cy="409.7" r="5.7" fill="#f6b297" stroke="#141414" stroke-width="2.9"/>
<circle cx="1036.7" cy="399.2" r="5.8" fill="#fafafa" stroke="#141414" stroke-width="2.9"/>
<circle cx="946.5" cy="424.3" r="5.6" fill="#fafafa" stroke="#141414" stroke-width="2.9"/>
<circle cx="976.5" cy="388.7" r="6.0" fill="#fafafa" stroke="#141414" stroke-width="2.9"/>
<circle cx="1069.6" cy="428.0" r="5.5" fill="#fafafa" stroke="#141414" stroke-width="2.9"/>
<circle cx="946.3" cy="432.8" r="5.5" fill="#fafafa" stroke="#141414" stroke-width="2.9"/>
<circle cx="1031.9" cy="389.4" r="6.0" fill="#fafafa" stroke="#141414" stroke-width="2.9"/>
<circle cx="1093.2" cy="425.7" r="5.5" fill="#fafafa" stroke="#141414" stroke-width="2.9"/>
<circle cx="995.5" cy="404.7" r="5.8" fill="#fafafa" stroke="#141414" stroke-width="2.9"/>
<circle cx="919.0" cy="394.1" r="5.9" fill="#c3a5fa" stroke="#141414" stroke-width="2.9"/>
<circle cx="1038.0" cy="440.1" r="5.4" fill="#fafafa" stroke="#141414" stroke-width="2.9"/>
<circle cx="950.1" cy="436.8" r="5.4" fill="#fafafa" stroke="#141414" stroke-width="2.9"/>
<circle cx="1119.9" cy="393.2" r="5.9" fill="#f6b297" stroke="#141414" stroke-width="2.9"/>
<circle cx="1053.3" cy="443.0" r="5.3" fill="#fafafa" stroke="#141414" stroke-width="2.9"/>
<circle cx="1077.0" cy="448.1" r="5.3" fill="#fafafa" stroke="#141414" stroke-width="2.9"/>
<circle cx="1115.8" cy="404.6" r="5.8" fill="#f6b297" stroke="#141414" stroke-width="2.9"/>
<circle cx="1055.8" cy="406.9" r="5.8" fill="#fafafa" stroke="#141414" stroke-width="2.9"/>
<circle cx="986.3" cy="399.6" r="5.8" fill="#fafafa" stroke="#141414" stroke-width="2.9"/>
<circle cx="1055.2" cy="437.4" r="5.4" fill="#fafafa" stroke="#141414" stroke-width="2.9"/>
<circle cx="1073.0" cy="440.5" r="5.4" fill="#fafafa" stroke="#141414" stroke-width="2.9"/>
<circle cx="1041.4" cy="451.4" r="5.2" fill="#fafafa" stroke="#141414" stroke-width="2.9"/>
<circle cx="1135.7" cy="411.6" r="5.7" fill="#f6b297" stroke="#141414" stroke-width="2.9"/>
<circle cx="1030.7" cy="406.4" r="5.8" fill="#fafafa" stroke="#141414" stroke-width="2.9"/>
<circle cx="1084.8" cy="430.2" r="5.5" fill="#fafafa" stroke="#141414" stroke-width="2.9"/>
<circle cx="959.3" cy="413.1" r="5.7" fill="#fafafa" stroke="#141414" stroke-width="2.9"/>
<circle cx="956.1" cy="398.7" r="5.8" fill="#fafafa" stroke="#141414" stroke-width="2.9"/>
<circle cx="966.4" cy="402.1" r="5.8" fill="#fafafa" stroke="#141414" stroke-width="2.9"/>
<circle cx="1072.8" cy="405.7" r="5.8" fill="#fafafa" stroke="#141414" stroke-width="2.9"/>
<circle cx="982.2" cy="409.6" r="5.7" fill="#fafafa" stroke="#141414" stroke-width="2.9"/>
<circle cx="1118.3" cy="438.6" r="5.4" fill="#fafafa" stroke="#141414" stroke-width="2.9"/>
<circle cx="1000.6" cy="418.1" r="5.6" fill="#fafafa" stroke="#141414" stroke-width="2.9"/>
<circle cx="941.1" cy="434.4" r="5.4" fill="#fafafa" stroke="#141414" stroke-width="2.9"/>
<circle cx="1106.6" cy="448.8" r="5.3" fill="#fafafa" stroke="#141414" stroke-width="2.9"/>
<circle cx="1102.4" cy="452.5" r="5.2" fill="#fafafa" stroke="#141414" stroke-width="2.9"/>
<circle cx="1025.7" cy="414.5" r="5.7" fill="#fafafa" stroke="#141414" stroke-width="2.9"/>
<circle cx="1053.2" cy="429.4" r="5.5" fill="#fafafa" stroke="#141414" stroke-width="2.9"/>
<circle cx="1111.6" cy="449.9" r="5.3" fill="#fafafa" stroke="#141414" stroke-width="2.9"/>
<circle cx="1117.3" cy="420.8" r="5.6" fill="#fafafa" stroke="#141414" stroke-width="2.9"/>
<circle cx="916.2" cy="406.2" r="5.8" fill="#c3a5fa" stroke="#141414" stroke-width="2.9"/>
<circle cx="1004.6" cy="450.9" r="5.2" fill="#fafafa" stroke="#141414" stroke-width="2.9"/>
<circle cx="934.3" cy="422.6" r="5.6" fill="#fafafa" stroke="#141414" stroke-width="2.9"/>
<circle cx="954.4" cy="444.2" r="5.3" fill="#fafafa" stroke="#141414" stroke-width="2.9"/>
<circle cx="908.2" cy="446.6" r="5.3" fill="#fafafa" stroke="#141414" stroke-width="2.9"/>
<circle cx="1094.8" cy="401.9" r="5.8" fill="#f6b297" stroke="#141414" stroke-width="2.9"/>
<circle cx="1029.1" cy="447.6" r="5.3" fill="#fafafa" stroke="#141414" stroke-width="2.9"/>
<circle cx="987.4" cy="421.7" r="5.6" fill="#fafafa" stroke="#141414" stroke-width="2.9"/>
<circle cx="996.7" cy="423.1" r="5.6" fill="#fafafa" stroke="#141414" stroke-width="2.9"/>
<circle cx="1092.2" cy="444.4" r="5.3" fill="#fafafa" stroke="#141414" stroke-width="2.9"/>
<circle cx="1095.2" cy="456.3" r="5.2" fill="#fafafa" stroke="#141414" stroke-width="2.9"/>
<circle cx="1107.1" cy="440.3" r="5.4" fill="#fafafa" stroke="#141414" stroke-width="2.9"/>
<circle cx="1061.2" cy="436.8" r="5.4" fill="#fafafa" stroke="#141414" stroke-width="2.9"/>
<circle cx="988.9" cy="409.3" r="5.7" fill="#fafafa" stroke="#141414" stroke-width="2.9"/>
<circle cx="1040.9" cy="419.0" r="5.6" fill="#fafafa" stroke="#141414" stroke-width="2.9"/>
<circle cx="1022.9" cy="438.8" r="5.4" fill="#fafafa" stroke="#141414" stroke-width="2.9"/>
<circle cx="1032.9" cy="453.2" r="5.2" fill="#fafafa" stroke="#141414" stroke-width="2.9"/>
<circle cx="963.3" cy="423.5" r="5.6" fill="#fafafa" stroke="#141414" stroke-width="2.9"/>
<circle cx="1153.5" cy="406.2" r="5.8" fill="#f6b297" stroke="#141414" stroke-width="2.9"/>
<circle cx="1058.2" cy="419.8" r="5.6" fill="#fafafa" stroke="#141414" stroke-width="2.9"/>
<circle cx="1028.2" cy="434.6" r="5.4" fill="#fafafa" stroke="#141414" stroke-width="2.9"/>
<circle cx="908.6" cy="422.5" r="5.6" fill="#fafafa" stroke="#141414" stroke-width="2.9"/>
<circle cx="1112.6" cy="427.7" r="5.5" fill="#fafafa" stroke="#141414" stroke-width="2.9"/>
<circle cx="1043.3" cy="458.8" r="5.2" fill="#fafafa" stroke="#141414" stroke-width="2.9"/>
<circle cx="1022.3" cy="432.0" r="5.5" fill="#fafafa" stroke="#141414" stroke-width="2.9"/>
<circle cx="915.9" cy="421.6" r="5.6" fill="#fafafa" stroke="#141414" stroke-width="2.9"/>
<circle cx="894.6" cy="412.8" r="5.7" fill="#c3a5fa" stroke="#141414" stroke-width="2.9"/>
<circle cx="664.5" cy="461.1" r="5.1" fill="#fafafa" stroke="#141414" stroke-width="2.9"/>
<circle cx="975.9" cy="418.5" r="5.6" fill="#fafafa" stroke="#141414" stroke-width="2.9"/>
<circle cx="1257.7" cy="459.8" r="5.1" fill="#fafafa" stroke="#141414" stroke-width="2.9"/>
<circle cx="1049.0" cy="434.0" r="5.4" fill="#fafafa" stroke="#141414" stroke-width="2.9"/>
<circle cx="961.5" cy="436.4" r="5.4" fill="#fafafa" stroke="#141414" stroke-width="2.9"/>
<circle cx="1109.3" cy="415.5" r="5.7" fill="#f6b297" stroke="#141414" stroke-width="2.9"/>
<circle cx="1156.5" cy="415.5" r="5.7" fill="#f6b297" stroke="#141414" stroke-width="2.9"/>
<circle cx="1048.2" cy="421.1" r="5.6" fill="#fafafa" stroke="#141414" stroke-width="2.9"/>
<circle cx="1075.5" cy="427.4" r="5.5" fill="#fafafa" stroke="#141414" stroke-width="2.9"/>
<circle cx="1082.9" cy="424.5" r="5.5" fill="#fafafa" stroke="#141414" stroke-width="2.9"/>
<circle cx="1073.3" cy="455.8" r="5.2" fill="#fafafa" stroke="#141414" stroke-width="2.9"/>
<circle cx="1003.7" cy="432.7" r="5.5" fill="#fafafa" stroke="#141414" stroke-width="2.9"/>
<circle cx="1022.8" cy="424.9" r="5.5" fill="#fafafa" stroke="#141414" stroke-width="2.9"/>
<circle cx="1034.2" cy="445.7" r="5.3" fill="#fafafa" stroke="#141414" stroke-width="2.9"/>
<circle cx="985.3" cy="457.7" r="5.2" fill="#fafafa" stroke="#141414" stroke-width="2.9"/>
<circle cx="1100.3" cy="429.3" r="5.5" fill="#fafafa" stroke="#141414" stroke-width="2.9"/>
<circle cx="1036.2" cy="461.6" r="5.1" fill="#fafafa" stroke="#141414" stroke-width="2.9"/>
<circle cx="945.8" cy="446.0" r="5.3" fill="#fafafa" stroke="#141414" stroke-width="2.9"/>
<circle cx="1099.6" cy="444.3" r="5.3" fill="#fafafa" stroke="#141414" stroke-width="2.9"/>
<circle cx="1064.1" cy="415.2" r="5.7" fill="#fafafa" stroke="#141414" stroke-width="2.9"/>
<circle cx="980.2" cy="440.0" r="5.4" fill="#fafafa" stroke="#141414" stroke-width="2.9"/>
<circle cx="990.5" cy="426.4" r="5.5" fill="#fafafa" stroke="#141414" stroke-width="2.9"/>
<circle cx="955.9" cy="423.6" r="5.6" fill="#fafafa" stroke="#141414" stroke-width="2.9"/>
<circle cx="989.6" cy="460.5" r="5.1" fill="#fafafa" stroke="#141414" stroke-width="2.9"/>
<circle cx="1094.4" cy="464.9" r="5.1" fill="#fafafa" stroke="#141414" stroke-width="2.9"/>
<circle cx="1002.1" cy="425.5" r="5.5" fill="#fafafa" stroke="#141414" stroke-width="2.9"/>
<circle cx="1049.7" cy="413.5" r="5.7" fill="#fafafa" stroke="#141414" stroke-width="2.9"/>
<circle cx="970.5" cy="450.4" r="5.3" fill="#fafafa" stroke="#141414" stroke-width="2.9"/>
<circle cx="1048.3" cy="428.5" r="5.5" fill="#fafafa" stroke="#141414" stroke-width="2.9"/>
<circle cx="1065.8" cy="456.6" r="5.2" fill="#fafafa" stroke="#141414" stroke-width="2.9"/>
<circle cx="906.1" cy="457.0" r="5.2" fill="#fafafa" stroke="#141414" stroke-width="2.9"/>
<circle cx="1020.1" cy="458.3" r="5.2" fill="#fafafa" stroke="#141414" stroke-width="2.9"/>
<circle cx="1055.5" cy="455.1" r="5.2" fill="#fafafa" stroke="#141414" stroke-width="2.9"/>
<circle cx="1003.0" cy="442.5" r="5.3" fill="#fafafa" stroke="#141414" stroke-width="2.9"/>
<circle cx="997.5" cy="433.3" r="5.4" fill="#fafafa" stroke="#141414" stroke-width="2.9"/>
<circle cx="1094.0" cy="418.6" r="5.6" fill="#f6b297" stroke="#141414" stroke-width="2.9"/>
<circle cx="988.7" cy="452.7" r="5.2" fill="#fafafa" stroke="#141414" stroke-width="2.9"/>
<circle cx="1089.0" cy="450.0" r="5.3" fill="#fafafa" stroke="#141414" stroke-width="2.9"/>
<circle cx="1108.9" cy="435.1" r="5.4" fill="#fafafa" stroke="#141414" stroke-width="2.9"/>
<circle cx="957.0" cy="452.3" r="5.2" fill="#fafafa" stroke="#141414" stroke-width="2.9"/>
<circle cx="1126.8" cy="420.3" r="5.6" fill="#fafafa" stroke="#141414" stroke-width="2.9"/>
<circle cx="914.7" cy="439.9" r="5.4" fill="#fafafa" stroke="#141414" stroke-width="2.9"/>
<circle cx="970.7" cy="458.8" r="5.2" fill="#fafafa" stroke="#141414" stroke-width="2.9"/>
<circle cx="926.7" cy="458.4" r="5.2" fill="#fafafa" stroke="#141414" stroke-width="2.9"/>
<circle cx="1047.7" cy="440.1" r="5.4" fill="#fafafa" stroke="#141414" stroke-width="2.9"/>
<circle cx="1059.4" cy="468.3" r="5.0" fill="#fafafa" stroke="#141414" stroke-width="2.9"/>
<circle cx="1000.5" cy="447.1" r="5.3" fill="#fafafa" stroke="#141414" stroke-width="2.9"/>
<circle cx="896.7" cy="441.3" r="5.4" fill="#fafafa" stroke="#141414" stroke-width="2.9"/>
<circle cx="951.9" cy="454.6" r="5.2" fill="#fafafa" stroke="#141414" stroke-width="2.9"/>
<circle cx="981.8" cy="452.4" r="5.2" fill="#fafafa" stroke="#141414" stroke-width="2.9"/>
<circle cx="984.1" cy="477.9" r="4.9" fill="#fafafa" stroke="#141414" stroke-width="2.9"/>
<circle cx="958.3" cy="464.5" r="5.1" fill="#fafafa" stroke="#141414" stroke-width="2.9"/>
<circle cx="936.0" cy="441.0" r="5.4" fill="#fafafa" stroke="#141414" stroke-width="2.9"/>
<circle cx="916.6" cy="449.6" r="5.3" fill="#fafafa" stroke="#141414" stroke-width="2.9"/>
<circle cx="941.9" cy="467.5" r="5.1" fill="#fafafa" stroke="#141414" stroke-width="2.9"/>
<circle cx="1050.3" cy="458.6" r="5.2" fill="#fafafa" stroke="#141414" stroke-width="2.9"/>
<circle cx="922.9" cy="476.1" r="5.0" fill="#fafafa" stroke="#141414" stroke-width="2.9"/>
<circle cx="1081.2" cy="468.0" r="5.0" fill="#fafafa" stroke="#141414" stroke-width="2.9"/>
<circle cx="972.9" cy="422.9" r="5.6" fill="#fafafa" stroke="#141414" stroke-width="2.9"/>
<circle cx="1105.2" cy="480.9" r="4.9" fill="#fafafa" stroke="#141414" stroke-width="2.9"/>
<circle cx="940.7" cy="424.1" r="5.6" fill="#fafafa" stroke="#141414" stroke-width="2.9"/>
<circle cx="938.2" cy="429.7" r="5.5" fill="#fafafa" stroke="#141414" stroke-width="2.9"/>
<circle cx="979.3" cy="446.3" r="5.3" fill="#fafafa" stroke="#141414" stroke-width="2.9"/>
<circle cx="955.1" cy="458.9" r="5.2" fill="#fafafa" stroke="#141414" stroke-width="2.9"/>
<circle cx="1107.9" cy="465.7" r="5.1" fill="#fafafa" stroke="#141414" stroke-width="2.9"/>
<circle cx="1098.5" cy="462.0" r="5.1" fill="#fafafa" stroke="#141414" stroke-width="2.9"/>
<circle cx="1030.5" cy="426.7" r="5.5" fill="#fafafa" stroke="#141414" stroke-width="2.9"/>
<circle cx="997.5" cy="480.7" r="4.9" fill="#fafafa" stroke="#141414" stroke-width="2.9"/>
<circle cx="946.9" cy="453.7" r="5.2" fill="#fafafa" stroke="#141414" stroke-width="2.9"/>
<circle cx="1084.7" cy="444.0" r="5.3" fill="#fafafa" stroke="#141414" stroke-width="2.9"/>
<circle cx="995.7" cy="439.6" r="5.4" fill="#fafafa" stroke="#141414" stroke-width="2.9"/>
<circle cx="1052.2" cy="480.3" r="4.9" fill="#fafafa" stroke="#141414" stroke-width="2.9"/>
<circle cx="1061.7" cy="460.3" r="5.1" fill="#fafafa" stroke="#141414" stroke-width="2.9"/>
<circle cx="960.6" cy="443.9" r="5.3" fill="#fafafa" stroke="#141414" stroke-width="2.9"/>
<circle cx="984.9" cy="443.0" r="5.3" fill="#fafafa" stroke="#141414" stroke-width="2.9"/>
<circle cx="920.7" cy="443.6" r="5.3" fill="#fafafa" stroke="#141414" stroke-width="2.9"/>
<circle cx="1072.4" cy="450.7" r="5.2" fill="#fafafa" stroke="#141414" stroke-width="2.9"/>
<circle cx="951.7" cy="483.3" r="4.9" fill="#fafafa" stroke="#141414" stroke-width="2.9"/>
<circle cx="1122.1" cy="452.2" r="5.2" fill="#fafafa" stroke="#141414" stroke-width="2.9"/>
<circle cx="969.6" cy="472.4" r="5.0" fill="#fafafa" stroke="#141414" stroke-width="2.9"/>
<circle cx="1042.2" cy="432.4" r="5.5" fill="#fafafa" stroke="#141414" stroke-width="2.9"/>
<circle cx="1082.6" cy="436.0" r="5.4" fill="#fafafa" stroke="#141414" stroke-width="2.9"/>
<circle cx="934.9" cy="452.3" r="5.2" fill="#fafafa" stroke="#141414" stroke-width="2.9"/>
<circle cx="998.2" cy="463.2" r="5.1" fill="#fafafa" stroke="#141414" stroke-width="2.9"/>
<circle cx="920.5" cy="438.0" r="5.4" fill="#fafafa" stroke="#141414" stroke-width="2.9"/>
<circle cx="1091.0" cy="430.8" r="5.5" fill="#fafafa" stroke="#141414" stroke-width="2.9"/>
<circle cx="1087.0" cy="482.5" r="4.9" fill="#fafafa" stroke="#141414" stroke-width="2.9"/>
<circle cx="948.6" cy="487.8" r="4.8" fill="#fafafa" stroke="#141414" stroke-width="2.9"/>
<circle cx="1072.3" cy="472.3" r="5.0" fill="#fafafa" stroke="#141414" stroke-width="2.9"/>
<circle cx="1068.5" cy="475.7" r="5.0" fill="#fafafa" stroke="#141414" stroke-width="2.9"/>
<circle cx="1036.5" cy="431.1" r="5.5" fill="#fafafa" stroke="#141414" stroke-width="2.9"/>
<circle cx="914.6" cy="455.6" r="5.2" fill="#fafafa" stroke="#141414" stroke-width="2.9"/>
<circle cx="1128.3" cy="481.6" r="4.9" fill="#fafafa" stroke="#141414" stroke-width="2.9"/>
<circle cx="1094.7" cy="478.3" r="4.9" fill="#fafafa" stroke="#141414" stroke-width="2.9"/>
<circle cx="963.4" cy="449.3" r="5.3" fill="#fafafa" stroke="#141414" stroke-width="2.9"/>
<circle cx="1094.9" cy="483.8" r="4.9" fill="#fafafa" stroke="#141414" stroke-width="2.9"/>
<circle cx="1025.5" cy="475.8" r="5.0" fill="#fafafa" stroke="#141414" stroke-width="2.9"/>
<circle cx="1057.3" cy="475.1" r="5.0" fill="#fafafa" stroke="#141414" stroke-width="2.9"/>
<circle cx="1031.9" cy="470.6" r="5.0" fill="#fafafa" stroke="#141414" stroke-width="2.9"/>
<circle cx="940.7" cy="472.9" r="5.0" fill="#fafafa" stroke="#141414" stroke-width="2.9"/>
<circle cx="994.3" cy="455.3" r="5.2" fill="#fafafa" stroke="#141414" stroke-width="2.9"/>
<circle cx="1048.8" cy="471.5" r="5.0" fill="#fafafa" stroke="#141414" stroke-width="2.9"/>
<circle cx="968.0" cy="481.2" r="4.9" fill="#fafafa" stroke="#141414" stroke-width="2.9"/>
<circle cx="987.2" cy="438.0" r="5.4" fill="#fafafa" stroke="#141414" stroke-width="2.9"/>
<circle cx="1046.4" cy="449.6" r="5.3" fill="#fafafa" stroke="#141414" stroke-width="2.9"/>
<circle cx="1089.6" cy="492.3" r="4.8" fill="#fafafa" stroke="#141414" stroke-width="2.9"/>
<circle cx="1017.9" cy="485.6" r="4.8" fill="#fafafa" stroke="#141414" stroke-width="2.9"/>
<circle cx="976.2" cy="459.1" r="5.2" fill="#fafafa" stroke="#141414" stroke-width="2.9"/>
<circle cx="1062.5" cy="487.1" r="4.8" fill="#fafafa" stroke="#141414" stroke-width="2.9"/>
<circle cx="1070.9" cy="487.1" r="4.8" fill="#fafafa" stroke="#141414" stroke-width="2.9"/>
<circle cx="931.9" cy="446.5" r="5.3" fill="#fafafa" stroke="#141414" stroke-width="2.9"/>
<circle cx="1023.6" cy="497.2" r="4.7" fill="#fafafa" stroke="#141414" stroke-width="2.9"/>
<circle cx="924.7" cy="453.1" r="5.2" fill="#fafafa" stroke="#141414" stroke-width="2.9"/>
<circle cx="969.3" cy="445.0" r="5.3" fill="#fafafa" stroke="#141414" stroke-width="2.9"/>
<circle cx="991.5" cy="446.3" r="5.3" fill="#fafafa" stroke="#141414" stroke-width="2.9"/>
<circle cx="942.4" cy="492.6" r="4.8" fill="#fafafa" stroke="#141414" stroke-width="2.9"/>
<circle cx="1086.9" cy="455.7" r="5.2" fill="#fafafa" stroke="#141414" stroke-width="2.9"/>
<circle cx="1114.9" cy="487.2" r="4.8" fill="#fafafa" stroke="#141414" stroke-width="2.9"/>
<circle cx="988.1" cy="469.5" r="5.0" fill="#fafafa" stroke="#141414" stroke-width="2.9"/>
<circle cx="1057.6" cy="497.6" r="4.7" fill="#fafafa" stroke="#141414" stroke-width="2.9"/>
<circle cx="1071.2" cy="499.5" r="4.7" fill="#fafafa" stroke="#141414" stroke-width="2.9"/>
<circle cx="949.0" cy="466.7" r="5.1" fill="#fafafa" stroke="#141414" stroke-width="2.9"/>
<circle cx="1056.0" cy="449.1" r="5.3" fill="#fafafa" stroke="#141414" stroke-width="2.9"/>
<circle cx="1025.2" cy="454.5" r="5.2" fill="#fafafa" stroke="#141414" stroke-width="2.9"/>
<circle cx="1004.7" cy="457.2" r="5.2" fill="#fafafa" stroke="#141414" stroke-width="2.9"/>
<circle cx="1064.6" cy="501.8" r="4.7" fill="#fafafa" stroke="#141414" stroke-width="2.9"/>
<circle cx="929.9" cy="462.5" r="5.1" fill="#fafafa" stroke="#141414" stroke-width="2.9"/>
<circle cx="964.8" cy="469.4" r="5.0" fill="#fafafa" stroke="#141414" stroke-width="2.9"/>
<circle cx="987.3" cy="486.5" r="4.8" fill="#fafafa" stroke="#141414" stroke-width="2.9"/>
<circle cx="963.8" cy="464.1" r="5.1" fill="#fafafa" stroke="#141414" stroke-width="2.9"/>
<circle cx="1393.4" cy="447.7" r="5.3" fill="#fafafa" stroke="#141414" stroke-width="2.9"/>
<circle cx="935.2" cy="464.7" r="5.1" fill="#fafafa" stroke="#141414" stroke-width="2.9"/>
<circle cx="954.6" cy="499.7" r="4.7" fill="#fafafa" stroke="#141414" stroke-width="2.9"/>
<circle cx="1022.3" cy="447.5" r="5.3" fill="#fafafa" stroke="#141414" stroke-width="2.9"/>
<circle cx="970.3" cy="464.3" r="5.1" fill="#fafafa" stroke="#141414" stroke-width="2.9"/>
<circle cx="1046.6" cy="494.9" r="4.7" fill="#fafafa" stroke="#141414" stroke-width="2.9"/>
<circle cx="994.9" cy="473.9" r="5.0" fill="#fafafa" stroke="#141414" stroke-width="2.9"/>
<circle cx="1025.2" cy="467.1" r="5.1" fill="#fafafa" stroke="#141414" stroke-width="2.9"/>
<circle cx="1004.8" cy="486.0" r="4.8" fill="#fafafa" stroke="#141414" stroke-width="2.9"/>
<circle cx="1062.2" cy="473.4" r="5.0" fill="#fafafa" stroke="#141414" stroke-width="2.9"/>
<circle cx="1295.5" cy="473.1" r="5.0" fill="#fafafa" stroke="#141414" stroke-width="2.9"/>
<circle cx="942.2" cy="459.7" r="5.1" fill="#fafafa" stroke="#141414" stroke-width="2.9"/>
<circle cx="1062.4" cy="508.5" r="4.6" fill="#fafafa" stroke="#141414" stroke-width="2.9"/>
<circle cx="984.8" cy="506.5" r="4.6" fill="#fafafa" stroke="#141414" stroke-width="2.9"/>
<circle cx="960.4" cy="486.2" r="4.8" fill="#fafafa" stroke="#141414" stroke-width="2.9"/>
<circle cx="1041.4" cy="463.8" r="5.1" fill="#fafafa" stroke="#141414" stroke-width="2.9"/>
<circle cx="1088.5" cy="463.2" r="5.1" fill="#fafafa" stroke="#141414" stroke-width="2.9"/>
<circle cx="1042.8" cy="475.5" r="5.0" fill="#fafafa" stroke="#141414" stroke-width="2.9"/>
<circle cx="1057.0" cy="463.0" r="5.1" fill="#fafafa" stroke="#141414" stroke-width="2.9"/>
<circle cx="927.3" cy="482.3" r="4.9" fill="#fafafa" stroke="#141414" stroke-width="2.9"/>
<circle cx="921.4" cy="461.6" r="5.1" fill="#fafafa" stroke="#141414" stroke-width="2.9"/>
<circle cx="1050.2" cy="485.0" r="4.9" fill="#fafafa" stroke="#141414" stroke-width="2.9"/>
<circle cx="961.5" cy="458.0" r="5.2" fill="#fafafa" stroke="#141414" stroke-width="2.9"/>
<circle cx="978.6" cy="511.3" r="4.6" fill="#fafafa" stroke="#141414" stroke-width="2.9"/>
<circle cx="1004.8" cy="463.6" r="5.1" fill="#fafafa" stroke="#141414" stroke-width="2.9"/>
<circle cx="971.8" cy="512.2" r="4.5" fill="#fafafa" stroke="#141414" stroke-width="2.9"/>
<circle cx="1070.3" cy="492.6" r="4.8" fill="#fafafa" stroke="#141414" stroke-width="2.9"/>
<circle cx="979.1" cy="475.6" r="5.0" fill="#fafafa" stroke="#141414" stroke-width="2.9"/>
<circle cx="1000.2" cy="492.1" r="4.8" fill="#fafafa" stroke="#141414" stroke-width="2.9"/>
<circle cx="893.0" cy="492.5" r="4.8" fill="#fafafa" stroke="#141414" stroke-width="2.9"/>
<circle cx="974.7" cy="467.5" r="5.1" fill="#fafafa" stroke="#141414" stroke-width="2.9"/>
<circle cx="980.4" cy="469.5" r="5.0" fill="#fafafa" stroke="#141414" stroke-width="2.9"/>
<circle cx="911.5" cy="462.1" r="5.1" fill="#fafafa" stroke="#141414" stroke-width="2.9"/>
<circle cx="1104.0" cy="473.2" r="5.0" fill="#fafafa" stroke="#141414" stroke-width="2.9"/>
<circle cx="951.6" cy="507.8" r="4.6" fill="#fafafa" stroke="#141414" stroke-width="2.9"/>
<circle cx="1081.2" cy="510.3" r="4.6" fill="#fafafa" stroke="#141414" stroke-width="2.9"/>
<circle cx="1016.7" cy="501.3" r="4.7" fill="#fafafa" stroke="#141414" stroke-width="2.9"/>
<circle cx="959.9" cy="475.7" r="5.0" fill="#fafafa" stroke="#141414" stroke-width="2.9"/>
<circle cx="1066.1" cy="516.7" r="4.5" fill="#fafafa" stroke="#141414" stroke-width="2.9"/>
<circle cx="1079.2" cy="478.5" r="4.9" fill="#fafafa" stroke="#141414" stroke-width="2.9"/>
<circle cx="1180.1" cy="514.3" r="4.5" fill="#fafafa" stroke="#141414" stroke-width="2.9"/>
<circle cx="1037.5" cy="501.0" r="4.7" fill="#fafafa" stroke="#141414" stroke-width="2.9"/>
<circle cx="1023.2" cy="514.4" r="4.5" fill="#fafafa" stroke="#141414" stroke-width="2.9"/>
<circle cx="1006.4" cy="476.6" r="5.0" fill="#fafafa" stroke="#141414" stroke-width="2.9"/>
<circle cx="945.4" cy="478.7" r="4.9" fill="#fafafa" stroke="#141414" stroke-width="2.9"/>
<circle cx="992.4" cy="506.3" r="4.6" fill="#fafafa" stroke="#141414" stroke-width="2.9"/>
<circle cx="1144.1" cy="484.0" r="4.9" fill="#fafafa" stroke="#141414" stroke-width="2.9"/>
<circle cx="1074.7" cy="464.8" r="5.1" fill="#fafafa" stroke="#141414" stroke-width="2.9"/>
<circle cx="1086.5" cy="469.9" r="5.0" fill="#fafafa" stroke="#141414" stroke-width="2.9"/>
<circle cx="1049.3" cy="505.7" r="4.6" fill="#fafafa" stroke="#141414" stroke-width="2.9"/>
<circle cx="984.5" cy="512.7" r="4.5" fill="#fafafa" stroke="#141414" stroke-width="2.9"/>
<circle cx="982.4" cy="498.9" r="4.7" fill="#fafafa" stroke="#141414" stroke-width="2.9"/>
<circle cx="1057.8" cy="482.6" r="4.9" fill="#fafafa" stroke="#141414" stroke-width="2.9"/>
<circle cx="1062.8" cy="524.2" r="4.4" fill="#fafafa" stroke="#141414" stroke-width="2.9"/>
<circle cx="1024.7" cy="524.6" r="4.4" fill="#fafafa" stroke="#141414" stroke-width="2.9"/>
<circle cx="1007.0" cy="499.1" r="4.7" fill="#fafafa" stroke="#141414" stroke-width="2.9"/>
<circle cx="980.0" cy="490.6" r="4.8" fill="#fafafa" stroke="#141414" stroke-width="2.9"/>
<circle cx="1062.6" cy="480.8" r="4.9" fill="#fafafa" stroke="#141414" stroke-width="2.9"/>
<circle cx="932.7" cy="487.7" r="4.8" fill="#fafafa" stroke="#141414" stroke-width="2.9"/>
<circle cx="1004.8" cy="505.9" r="4.6" fill="#fafafa" stroke="#141414" stroke-width="2.9"/>
<circle cx="1040.7" cy="494.6" r="4.7" fill="#fafafa" stroke="#141414" stroke-width="2.9"/>
<circle cx="1003.0" cy="524.7" r="4.4" fill="#fafafa" stroke="#141414" stroke-width="2.9"/>
<circle cx="980.3" cy="521.6" r="4.4" fill="#fafafa" stroke="#141414" stroke-width="2.9"/>
<circle cx="1084.0" cy="517.1" r="4.5" fill="#fafafa" stroke="#141414" stroke-width="2.9"/>
<circle cx="943.7" cy="510.9" r="4.6" fill="#fafafa" stroke="#141414" stroke-width="2.9"/>
<circle cx="1096.3" cy="497.6" r="4.7" fill="#fafafa" stroke="#141414" stroke-width="2.9"/>
<circle cx="950.3" cy="525.9" r="4.4" fill="#fafafa" stroke="#141414" stroke-width="2.9"/>
<circle cx="977.0" cy="494.9" r="4.7" fill="#fafafa" stroke="#141414" stroke-width="2.9"/>
<circle cx="1106.4" cy="498.8" r="4.7" fill="#fafafa" stroke="#141414" stroke-width="2.9"/>
<circle cx="980.7" cy="482.0" r="4.9" fill="#fafafa" stroke="#141414" stroke-width="2.9"/>
<circle cx="1074.7" cy="511.0" r="4.6" fill="#fafafa" stroke="#141414" stroke-width="2.9"/>
<circle cx="1007.7" cy="481.5" r="4.9" fill="#fafafa" stroke="#141414" stroke-width="2.9"/>
<circle cx="1046.3" cy="514.3" r="4.5" fill="#fafafa" stroke="#141414" stroke-width="2.9"/>
<circle cx="1017.6" cy="517.0" r="4.5" fill="#fafafa" stroke="#141414" stroke-width="2.9"/>
<circle cx="1001.0" cy="497.4" r="4.7" fill="#fafafa" stroke="#141414" stroke-width="2.9"/>
<circle cx="1005.5" cy="492.9" r="4.8" fill="#fafafa" stroke="#141414" stroke-width="2.9"/>
<circle cx="1051.1" cy="492.3" r="4.8" fill="#fafafa" stroke="#141414" stroke-width="2.9"/>
<circle cx="969.4" cy="530.7" r="4.3" fill="#fafafa" stroke="#141414" stroke-width="2.9"/>
<circle cx="942.3" cy="485.2" r="4.9" fill="#fafafa" stroke="#141414" stroke-width="2.9"/>
<circle cx="1043.5" cy="501.5" r="4.7" fill="#fafafa" stroke="#141414" stroke-width="2.9"/>
<circle cx="1088.0" cy="512.8" r="4.5" fill="#fafafa" stroke="#141414" stroke-width="2.9"/>
<circle cx="996.1" cy="488.7" r="4.8" fill="#fafafa" stroke="#141414" stroke-width="2.9"/>
<circle cx="1072.4" cy="481.3" r="4.9" fill="#fafafa" stroke="#141414" stroke-width="2.9"/>
<circle cx="976.7" cy="526.5" r="4.4" fill="#fafafa" stroke="#141414" stroke-width="2.9"/>
<circle cx="1046.7" cy="479.4" r="4.9" fill="#fafafa" stroke="#141414" stroke-width="2.9"/>
<circle cx="948.6" cy="496.7" r="4.7" fill="#fafafa" stroke="#141414" stroke-width="2.9"/>
<circle cx="1131.5" cy="497.4" r="4.7" fill="#fafafa" stroke="#141414" stroke-width="2.9"/>
<circle cx="1081.4" cy="488.9" r="4.8" fill="#fafafa" stroke="#141414" stroke-width="2.9"/>
<circle cx="974.0" cy="506.6" r="4.6" fill="#fafafa" stroke="#141414" stroke-width="2.9"/>
<circle cx="1077.0" cy="505.7" r="4.6" fill="#fafafa" stroke="#141414" stroke-width="2.9"/>
<circle cx="1044.0" cy="490.4" r="4.8" fill="#fafafa" stroke="#141414" stroke-width="2.9"/>
<circle cx="1111.6" cy="516.2" r="4.5" fill="#fafafa" stroke="#141414" stroke-width="2.9"/>
<circle cx="995.4" cy="530.9" r="4.3" fill="#fafafa" stroke="#141414" stroke-width="2.9"/>
<circle cx="942.5" cy="503.1" r="4.7" fill="#fafafa" stroke="#141414" stroke-width="2.9"/>
<circle cx="1068.7" cy="512.1" r="4.6" fill="#fafafa" stroke="#141414" stroke-width="2.9"/>
<circle cx="1016.9" cy="495.6" r="4.7" fill="#fafafa" stroke="#141414" stroke-width="2.9"/>
<circle cx="1041.9" cy="484.0" r="4.9" fill="#fafafa" stroke="#141414" stroke-width="2.9"/>
<circle cx="1084.3" cy="532.2" r="4.3" fill="#fafafa" stroke="#141414" stroke-width="2.9"/>
<circle cx="1036.2" cy="532.9" r="4.3" fill="#fafafa" stroke="#141414" stroke-width="2.9"/>
<circle cx="1105.0" cy="505.9" r="4.6" fill="#fafafa" stroke="#141414" stroke-width="2.9"/>
<circle cx="1062.6" cy="536.8" r="4.3" fill="#fafafa" stroke="#141414" stroke-width="2.9"/>
<circle cx="1056.1" cy="510.6" r="4.6" fill="#fafafa" stroke="#141414" stroke-width="2.9"/>
<circle cx="960.6" cy="516.8" r="4.5" fill="#fafafa" stroke="#141414" stroke-width="2.9"/>
<circle cx="1042.2" cy="528.9" r="4.4" fill="#fafafa" stroke="#141414" stroke-width="2.9"/>
<circle cx="1048.6" cy="500.7" r="4.7" fill="#fafafa" stroke="#141414" stroke-width="2.9"/>
<circle cx="1055.6" cy="505.7" r="4.6" fill="#fafafa" stroke="#141414" stroke-width="2.9"/>
<circle cx="1096.1" cy="523.2" r="4.4" fill="#fafafa" stroke="#141414" stroke-width="2.9"/>
<circle cx="960.8" cy="503.0" r="4.7" fill="#fafafa" stroke="#141414" stroke-width="2.9"/>
<circle cx="1036.1" cy="523.2" r="4.4" fill="#fafafa" stroke="#141414" stroke-width="2.9"/>
<circle cx="1026.3" cy="508.8" r="4.6" fill="#fafafa" stroke="#141414" stroke-width="2.9"/>
<circle cx="1122.0" cy="536.1" r="4.3" fill="#fafafa" stroke="#141414" stroke-width="2.9"/>
<circle cx="1033.0" cy="503.8" r="4.6" fill="#fafafa" stroke="#141414" stroke-width="2.9"/>
<circle cx="1037.8" cy="488.0" r="4.8" fill="#fafafa" stroke="#141414" stroke-width="2.9"/>
<circle cx="1025.6" cy="489.3" r="4.8" fill="#fafafa" stroke="#141414" stroke-width="2.9"/>
<circle cx="971.9" cy="489.7" r="4.8" fill="#fafafa" stroke="#141414" stroke-width="2.9"/>
<circle cx="967.1" cy="522.9" r="4.4" fill="#fafafa" stroke="#141414" stroke-width="2.9"/>
<circle cx="1016.5" cy="526.1" r="4.4" fill="#fafafa" stroke="#141414" stroke-width="2.9"/>
<circle cx="1093.2" cy="528.1" r="4.4" fill="#fafafa" stroke="#141414" stroke-width="2.9"/>
<circle cx="992.9" cy="521.2" r="4.4" fill="#fafafa" stroke="#141414" stroke-width="2.9"/>
<circle cx="1032.8" cy="494.5" r="4.7" fill="#fafafa" stroke="#141414" stroke-width="2.9"/>
<circle cx="1043.1" cy="508.0" r="4.6" fill="#fafafa" stroke="#141414" stroke-width="2.9"/>
<circle cx="980.1" cy="533.3" r="4.3" fill="#fafafa" stroke="#141414" stroke-width="2.9"/>
<circle cx="1019.1" cy="534.2" r="4.3" fill="#fafafa" stroke="#141414" stroke-width="2.9"/>
<circle cx="1002.9" cy="517.8" r="4.5" fill="#fafafa" stroke="#141414" stroke-width="2.9"/>
<circle cx="955.5" cy="493.0" r="4.8" fill="#fafafa" stroke="#141414" stroke-width="2.9"/>
<circle cx="986.2" cy="536.9" r="4.3" fill="#fafafa" stroke="#141414" stroke-width="2.9"/>
<circle cx="946.4" cy="519.7" r="4.5" fill="#fafafa" stroke="#141414" stroke-width="2.9"/>
<circle cx="992.2" cy="514.6" r="4.5" fill="#fafafa" stroke="#141414" stroke-width="2.9"/>
<circle cx="1088.2" cy="500.3" r="4.7" fill="#fafafa" stroke="#141414" stroke-width="2.9"/>
<circle cx="1077.3" cy="499.2" r="4.7" fill="#fafafa" stroke="#141414" stroke-width="2.9"/>
<circle cx="989.6" cy="501.8" r="4.7" fill="#fafafa" stroke="#141414" stroke-width="2.9"/>
<circle cx="968.9" cy="506.5" r="4.6" fill="#fafafa" stroke="#141414" stroke-width="2.9"/>
<circle cx="964.1" cy="493.4" r="4.8" fill="#fafafa" stroke="#141414" stroke-width="2.9"/>
<circle cx="966.2" cy="498.5" r="4.7" fill="#fafafa" stroke="#141414" stroke-width="2.9"/>
<circle cx="1026.0" cy="519.4" r="4.5" fill="#fafafa" stroke="#141414" stroke-width="2.9"/>
<circle cx="997.9" cy="536.3" r="4.3" fill="#fafafa" stroke="#141414" stroke-width="2.9"/>
<circle cx="1027.3" cy="547.3" r="4.2" fill="#fafafa" stroke="#141414" stroke-width="2.9"/>
<circle cx="1053.6" cy="538.6" r="4.3" fill="#fafafa" stroke="#141414" stroke-width="2.9"/>
<circle cx="1035.4" cy="509.0" r="4.6" fill="#fafafa" stroke="#141414" stroke-width="2.9"/>
<circle cx="998.3" cy="544.1" r="4.2" fill="#fafafa" stroke="#141414" stroke-width="2.9"/>
<circle cx="934.6" cy="495.4" r="4.7" fill="#fafafa" stroke="#141414" stroke-width="2.9"/>
<circle cx="1059.6" cy="541.2" r="4.2" fill="#fafafa" stroke="#141414" stroke-width="2.9"/>
<circle cx="1093.1" cy="508.5" r="4.6" fill="#fafafa" stroke="#141414" stroke-width="2.9"/>
<circle cx="965.6" cy="551.1" r="4.1" fill="#fafafa" stroke="#141414" stroke-width="2.9"/>
<circle cx="1072.8" cy="553.3" r="4.1" fill="#fafafa" stroke="#141414" stroke-width="2.9"/>
<circle cx="1020.1" cy="542.2" r="4.2" fill="#fafafa" stroke="#141414" stroke-width="2.9"/>
<circle cx="1037.6" cy="541.9" r="4.2" fill="#fafafa" stroke="#141414" stroke-width="2.9"/>
<circle cx="1047.7" cy="530.1" r="4.3" fill="#fafafa" stroke="#141414" stroke-width="2.9"/>
<circle cx="985.0" cy="518.5" r="4.5" fill="#fafafa" stroke="#141414" stroke-width="2.9"/>
<circle cx="1027.1" cy="537.7" r="4.3" fill="#fafafa" stroke="#141414" stroke-width="2.9"/>
<circle cx="1048.9" cy="518.8" r="4.5" fill="#fafafa" stroke="#141414" stroke-width="2.9"/>
<circle cx="982.6" cy="550.7" r="4.1" fill="#fafafa" stroke="#141414" stroke-width="2.9"/>
<circle cx="1091.9" cy="516.4" r="4.5" fill="#fafafa" stroke="#141414" stroke-width="2.9"/>
<circle cx="977.4" cy="502.7" r="4.7" fill="#fafafa" stroke="#141414" stroke-width="2.9"/>
<circle cx="990.0" cy="544.4" r="4.2" fill="#fafafa" stroke="#141414" stroke-width="2.9"/>
<circle cx="973.6" cy="521.1" r="4.4" fill="#fafafa" stroke="#141414" stroke-width="2.9"/>
<circle cx="990.9" cy="554.3" r="4.1" fill="#fafafa" stroke="#141414" stroke-width="2.9"/>
<circle cx="1012.2" cy="530.1" r="4.3" fill="#fafafa" stroke="#141414" stroke-width="2.9"/>
<circle cx="997.5" cy="540.0" r="4.2" fill="#fafafa" stroke="#141414" stroke-width="2.9"/>
<circle cx="1104.1" cy="514.9" r="4.5" fill="#fafafa" stroke="#141414" stroke-width="2.9"/>
<circle cx="1070.0" cy="543.4" r="4.2" fill="#fafafa" stroke="#141414" stroke-width="2.9"/>
<circle cx="982.3" cy="559.8" r="4.0" fill="#fafafa" stroke="#141414" stroke-width="2.9"/>
<circle cx="1061.4" cy="558.5" r="4.0" fill="#fafafa" stroke="#141414" stroke-width="2.9"/>
<circle cx="1007.0" cy="514.7" r="4.5" fill="#fafafa" stroke="#141414" stroke-width="2.9"/>
<circle cx="1001.4" cy="540.5" r="4.2" fill="#fafafa" stroke="#141414" stroke-width="2.9"/>
<circle cx="1087.3" cy="560.3" r="4.0" fill="#fafafa" stroke="#141414" stroke-width="2.9"/>
<circle cx="964.2" cy="543.7" r="4.2" fill="#fafafa" stroke="#141414" stroke-width="2.9"/>
<circle cx="1077.3" cy="542.3" r="4.2" fill="#fafafa" stroke="#141414" stroke-width="2.9"/>
<circle cx="1032.9" cy="554.4" r="4.1" fill="#fafafa" stroke="#141414" stroke-width="2.9"/>
<circle cx="1058.1" cy="516.4" r="4.5" fill="#fafafa" stroke="#141414" stroke-width="2.9"/>
<circle cx="961.1" cy="510.0" r="4.6" fill="#fafafa" stroke="#141414" stroke-width="2.9"/>
<circle cx="979.1" cy="540.9" r="4.2" fill="#fafafa" stroke="#141414" stroke-width="2.9"/>
<circle cx="1040.5" cy="560.4" r="4.0" fill="#fafafa" stroke="#141414" stroke-width="2.9"/>
<circle cx="1012.6" cy="563.1" r="4.0" fill="#fafafa" stroke="#141414" stroke-width="2.9"/>
<circle cx="1002.4" cy="548.3" r="4.1" fill="#fafafa" stroke="#141414" stroke-width="2.9"/>
<circle cx="1045.4" cy="557.2" r="4.0" fill="#fafafa" stroke="#141414" stroke-width="2.9"/>
<circle cx="1012.7" cy="538.4" r="4.3" fill="#fafafa" stroke="#141414" stroke-width="2.9"/>
<circle cx="1084.9" cy="539.0" r="4.2" fill="#fafafa" stroke="#141414" stroke-width="2.9"/>
<circle cx="981.3" cy="567.2" r="3.9" fill="#fafafa" stroke="#141414" stroke-width="2.9"/>
<circle cx="1026.3" cy="564.2" r="4.0" fill="#fafafa" stroke="#141414" stroke-width="2.9"/>
<circle cx="923.3" cy="555.4" r="4.1" fill="#fafafa" stroke="#141414" stroke-width="2.9"/>
<circle cx="1052.3" cy="527.1" r="4.4" fill="#fafafa" stroke="#141414" stroke-width="2.9"/>
<circle cx="1009.8" cy="547.6" r="4.2" fill="#fafafa" stroke="#141414" stroke-width="2.9"/>
<circle cx="1013.0" cy="553.8" r="4.1" fill="#fafafa" stroke="#141414" stroke-width="2.9"/>
<circle cx="1079.8" cy="535.7" r="4.3" fill="#fafafa" stroke="#141414" stroke-width="2.9"/>
<circle cx="976.1" cy="569.5" r="3.9" fill="#fafafa" stroke="#141414" stroke-width="2.9"/>
<circle cx="952.0" cy="520.0" r="4.5" fill="#fafafa" stroke="#141414" stroke-width="2.9"/>
<circle cx="1044.3" cy="544.3" r="4.2" fill="#fafafa" stroke="#141414" stroke-width="2.9"/>
<circle cx="991.5" cy="558.4" r="4.0" fill="#fafafa" stroke="#141414" stroke-width="2.9"/>
<circle cx="1071.3" cy="537.0" r="4.3" fill="#fafafa" stroke="#141414" stroke-width="2.9"/>
<circle cx="991.4" cy="567.7" r="3.9" fill="#fafafa" stroke="#141414" stroke-width="2.9"/>
<circle cx="1013.7" cy="546.6" r="4.2" fill="#fafafa" stroke="#141414" stroke-width="2.9"/>
<circle cx="932.7" cy="534.9" r="4.3" fill="#fafafa" stroke="#141414" stroke-width="2.9"/>
<circle cx="975.0" cy="544.9" r="4.2" fill="#fafafa" stroke="#141414" stroke-width="2.9"/>
<circle cx="989.5" cy="529.7" r="4.4" fill="#fafafa" stroke="#141414" stroke-width="2.9"/>
<circle cx="1007.2" cy="538.9" r="4.3" fill="#fafafa" stroke="#141414" stroke-width="2.9"/>
<circle cx="1001.1" cy="555.9" r="4.1" fill="#fafafa" stroke="#141414" stroke-width="2.9"/>
<circle cx="1080.5" cy="526.4" r="4.4" fill="#fafafa" stroke="#141414" stroke-width="2.9"/>
<circle cx="1017.9" cy="562.3" r="4.0" fill="#fafafa" stroke="#141414" stroke-width="2.9"/>
<circle cx="974.5" cy="537.8" r="4.3" fill="#fafafa" stroke="#141414" stroke-width="2.9"/>
<circle cx="999.5" cy="575.1" r="3.9" fill="#fafafa" stroke="#141414" stroke-width="2.9"/>
<circle cx="1076.2" cy="518.8" r="4.5" fill="#fafafa" stroke="#141414" stroke-width="2.9"/>
<circle cx="974.3" cy="554.4" r="4.1" fill="#fafafa" stroke="#141414" stroke-width="2.9"/>
<circle cx="1031.9" cy="520.3" r="4.5" fill="#fafafa" stroke="#141414" stroke-width="2.9"/>
<circle cx="1009.7" cy="525.5" r="4.4" fill="#fafafa" stroke="#141414" stroke-width="2.9"/>
<circle cx="1065.8" cy="546.4" r="4.2" fill="#fafafa" stroke="#141414" stroke-width="2.9"/>
<circle cx="1038.8" cy="568.4" r="3.9" fill="#fafafa" stroke="#141414" stroke-width="2.9"/>
<circle cx="1023.3" cy="574.7" r="3.9" fill="#fafafa" stroke="#141414" stroke-width="2.9"/>
<circle cx="1006.0" cy="570.0" r="3.9" fill="#fafafa" stroke="#141414" stroke-width="2.9"/>
<circle cx="1028.3" cy="572.0" r="3.9" fill="#fafafa" stroke="#141414" stroke-width="2.9"/>
<circle cx="1050.5" cy="561.0" r="4.0" fill="#fafafa" stroke="#141414" stroke-width="2.9"/>
<circle cx="989.2" cy="575.4" r="3.8" fill="#fafafa" stroke="#141414" stroke-width="2.9"/>
<circle cx="954.9" cy="533.3" r="4.3" fill="#fafafa" stroke="#141414" stroke-width="2.9"/>
<circle cx="1081.5" cy="545.5" r="4.2" fill="#fafafa" stroke="#141414" stroke-width="2.9"/>
<circle cx="960.8" cy="548.9" r="4.1" fill="#fafafa" stroke="#141414" stroke-width="2.9"/>
<circle cx="986.7" cy="569.6" r="3.9" fill="#fafafa" stroke="#141414" stroke-width="2.9"/>
<circle cx="1012.9" cy="558.5" r="4.0" fill="#fafafa" stroke="#141414" stroke-width="2.9"/>
<circle cx="983.9" cy="554.2" r="4.1" fill="#fafafa" stroke="#141414" stroke-width="2.9"/>
<circle cx="1058.5" cy="549.1" r="4.1" fill="#fafafa" stroke="#141414" stroke-width="2.9"/>
<circle cx="1018.5" cy="555.7" r="4.1" fill="#fafafa" stroke="#141414" stroke-width="2.9"/>
<circle cx="1037.7" cy="573.0" r="3.9" fill="#fafafa" stroke="#141414" stroke-width="2.9"/>
<circle cx="994.4" cy="551.1" r="4.1" fill="#fafafa" stroke="#141414" stroke-width="2.9"/>
<circle cx="1075.1" cy="527.0" r="4.4" fill="#fafafa" stroke="#141414" stroke-width="2.9"/>
<circle cx="1053.9" cy="572.8" r="3.9" fill="#fafafa" stroke="#141414" stroke-width="2.9"/>
<circle cx="1067.5" cy="532.7" r="4.3" fill="#fafafa" stroke="#141414" stroke-width="2.9"/>
<circle cx="1019.1" cy="566.6" r="3.9" fill="#fafafa" stroke="#141414" stroke-width="2.9"/>
<circle cx="1058.3" cy="532.1" r="4.3" fill="#fafafa" stroke="#141414" stroke-width="2.9"/>
<circle cx="1026.8" cy="542.0" r="4.2" fill="#fafafa" stroke="#141414" stroke-width="2.9"/>
<circle cx="1061.0" cy="564.5" r="4.0" fill="#fafafa" stroke="#141414" stroke-width="2.9"/>
<circle cx="992.9" cy="542.0" r="4.2" fill="#fafafa" stroke="#141414" stroke-width="2.9"/>
<circle cx="1001.6" cy="570.4" r="3.9" fill="#fafafa" stroke="#141414" stroke-width="2.9"/>
<circle cx="1008.0" cy="561.2" r="4.0" fill="#fafafa" stroke="#141414" stroke-width="2.9"/>
<circle cx="1009.4" cy="542.0" r="4.2" fill="#fafafa" stroke="#141414" stroke-width="2.9"/>
<circle cx="1020.2" cy="551.3" r="4.1" fill="#fafafa" stroke="#141414" stroke-width="2.9"/>
<circle cx="1029.5" cy="552.5" r="4.1" fill="#fafafa" stroke="#141414" stroke-width="2.9"/>
<circle cx="987.9" cy="560.5" r="4.0" fill="#fafafa" stroke="#141414" stroke-width="2.9"/>
<circle cx="1007.6" cy="531.3" r="4.3" fill="#fafafa" stroke="#141414" stroke-width="2.9"/>
<circle cx="1027.9" cy="531.0" r="4.3" fill="#fafafa" stroke="#141414" stroke-width="2.9"/>
<circle cx="1022.9" cy="558.9" r="4.0" fill="#fafafa" stroke="#141414" stroke-width="2.9"/>
<circle cx="1019.2" cy="547.8" r="4.2" fill="#fafafa" stroke="#141414" stroke-width="2.9"/>
<circle cx="1056.8" cy="566.7" r="3.9" fill="#fafafa" stroke="#141414" stroke-width="2.9"/>
<circle cx="997.8" cy="571.4" r="3.9" fill="#fafafa" stroke="#141414" stroke-width="2.9"/>
<circle cx="991.7" cy="562.9" r="4.0" fill="#fafafa" stroke="#141414" stroke-width="2.9"/>
<circle cx="1021.6" cy="562.9" r="4.0" fill="#fafafa" stroke="#141414" stroke-width="2.9"/>
<circle cx="1039.4" cy="549.9" r="4.1" fill="#fafafa" stroke="#141414" stroke-width="2.9"/>
<circle cx="1052.7" cy="544.7" r="4.2" fill="#fafafa" stroke="#141414" stroke-width="2.9"/>
<circle cx="1014.1" cy="568.7" r="3.9" fill="#fafafa" stroke="#141414" stroke-width="2.9"/>
<circle cx="1008.9" cy="572.8" r="3.9" fill="#fafafa" stroke="#141414" stroke-width="2.9"/>
<circle cx="1031.8" cy="540.4" r="4.2" fill="#fafafa" stroke="#141414" stroke-width="2.9"/>
<circle cx="1053.7" cy="564.9" r="4.0" fill="#fafafa" stroke="#141414" stroke-width="2.9"/>
<circle cx="1042.9" cy="575.9" r="3.8" fill="#fafafa" stroke="#141414" stroke-width="2.9"/>
<circle cx="1031.7" cy="566.5" r="3.9" fill="#fafafa" stroke="#141414" stroke-width="2.9"/>
<circle cx="998.2" cy="551.0" r="4.1" fill="#fafafa" stroke="#141414" stroke-width="2.9"/>
<circle cx="1033.4" cy="549.2" r="4.1" fill="#fafafa" stroke="#141414" stroke-width="2.9"/>
<circle cx="1022.7" cy="546.4" r="4.2" fill="#fafafa" stroke="#141414" stroke-width="2.9"/>
<circle cx="1021.6" cy="571.4" r="3.9" fill="#fafafa" stroke="#141414" stroke-width="2.9"/>
<circle cx="980.0" cy="547.0" r="4.2" fill="#fafafa" stroke="#141414" stroke-width="2.9"/>
<circle cx="1041.0" cy="571.3" r="3.9" fill="#fafafa" stroke="#141414" stroke-width="2.9"/>
<circle cx="997.6" cy="564.1" r="4.0" fill="#fafafa" stroke="#141414" stroke-width="2.9"/>
<circle cx="1051.8" cy="557.0" r="4.1" fill="#fafafa" stroke="#141414" stroke-width="2.9"/>
<circle cx="1004.2" cy="574.0" r="3.9" fill="#fafafa" stroke="#141414" stroke-width="2.9"/>
<circle cx="1003.7" cy="566.9" r="3.9" fill="#fafafa" stroke="#141414" stroke-width="2.9"/>
<circle cx="1049.0" cy="551.2" r="4.1" fill="#fafafa" stroke="#141414" stroke-width="2.9"/>
<circle cx="1031.0" cy="560.1" r="4.0" fill="#fafafa" stroke="#141414" stroke-width="2.9"/>
<circle cx="988.9" cy="548.1" r="4.1" fill="#fafafa" stroke="#141414" stroke-width="2.9"/>
<circle cx="973.5" cy="562.7" r="4.0" fill="#fafafa" stroke="#141414" stroke-width="2.9"/>
<circle cx="998.8" cy="559.3" r="4.0" fill="#fafafa" stroke="#141414" stroke-width="2.9"/>
<circle cx="977.0" cy="565.7" r="4.0" fill="#fafafa" stroke="#141414" stroke-width="2.9"/>
<circle cx="1043.8" cy="550.6" r="4.1" fill="#fafafa" stroke="#141414" stroke-width="2.9"/>
<circle cx="1051.1" cy="568.8" r="3.9" fill="#fafafa" stroke="#141414" stroke-width="2.9"/>
<circle cx="970.2" cy="554.8" r="4.1" fill="#fafafa" stroke="#141414" stroke-width="2.9"/>
<circle cx="996.0" cy="555.3" r="4.1" fill="#fafafa" stroke="#141414" stroke-width="2.9"/>
<circle cx="1036.3" cy="561.0" r="4.0" fill="#fafafa" stroke="#141414" stroke-width="2.9"/>
<circle cx="1024.1" cy="552.9" r="4.1" fill="#fafafa" stroke="#141414" stroke-width="2.9"/>
<circle cx="1010.3" cy="568.3" r="3.9" fill="#fafafa" stroke="#141414" stroke-width="2.9"/>
<circle cx="1027.8" cy="558.3" r="4.0" fill="#fafafa" stroke="#141414" stroke-width="2.9"/>
<circle cx="1006.4" cy="552.4" r="4.1" fill="#fafafa" stroke="#141414" stroke-width="2.9"/>
<circle cx="1037.3" cy="553.8" r="4.1" fill="#fafafa" stroke="#141414" stroke-width="2.9"/>
<circle cx="981.0" cy="572.6" r="3.9" fill="#fafafa" stroke="#141414" stroke-width="2.9"/>
<circle cx="1006.7" cy="557.3" r="4.0" fill="#fafafa" stroke="#141414" stroke-width="2.9"/>
<circle cx="1030.7" cy="575.0" r="3.9" fill="#fafafa" stroke="#141414" stroke-width="2.9"/>
<circle cx="1034.0" cy="571.7" r="3.9" fill="#fafafa" stroke="#141414" stroke-width="2.9"/>
<circle cx="1044.4" cy="563.2" r="4.0" fill="#fafafa" stroke="#141414" stroke-width="2.9"/>
<circle cx="1045.9" cy="569.4" r="3.9" fill="#fafafa" stroke="#141414" stroke-width="2.9"/>
<circle cx="1003.8" cy="559.7" r="4.0" fill="#fafafa" stroke="#141414" stroke-width="2.9"/>
<circle cx="985.3" cy="574.3" r="3.9" fill="#fafafa" stroke="#141414" stroke-width="2.9"/>
<circle cx="986.4" cy="565.6" r="4.0" fill="#fafafa" stroke="#141414" stroke-width="2.9"/>
<circle cx="971.6" cy="566.2" r="3.9" fill="#fafafa" stroke="#141414" stroke-width="2.9"/>
<circle cx="1023.1" cy="566.9" r="3.9" fill="#fafafa" stroke="#141414" stroke-width="2.9"/>
<circle cx="1013.5" cy="573.8" r="3.9" fill="#fafafa" stroke="#141414" stroke-width="2.9"/>
<circle cx="994.4" cy="573.3" r="3.9" fill="#fafafa" stroke="#141414" stroke-width="2.9"/>
<circle cx="1048.2" cy="573.3" r="3.9" fill="#fafafa" stroke="#141414" stroke-width="2.9"/>
<circle cx="1018.5" cy="575.7" r="3.8" fill="#fafafa" stroke="#141414" stroke-width="2.9"/>
<circle cx="1165.3" cy="325.5" r="6.9" fill="#f0905f" stroke="#141414" stroke-width="2.8"/>
<circle cx="1163.3" cy="355.0" r="6.6" fill="#f0905f" stroke="#141414" stroke-width="2.8"/>
<circle cx="737.7" cy="395.0" r="6.5" fill="#4c1cf5" stroke="#141414" stroke-width="2.8"/>
<circle cx="1418.6" cy="418.2" r="6.6" fill="#dd1a14" stroke="#141414" stroke-width="2.8"/>
<rect x="623.3" y="34.0" width="833.0" height="566.0" fill="none" stroke="#6e6e6e" stroke-width="2.5"/>
<line x1="617.0" y1="576.0" x2="623.3" y2="576.0" stroke="#333" stroke-width="1.8"/>
<text x="604.5" y="588.3" font-size="34.5" text-anchor="end">0</text>
<line x1="617.0" y1="455.0" x2="623.3" y2="455.0" stroke="#333" stroke-width="1.8"/>
<text x="604.5" y="467.3" font-size="34.5" text-anchor="end">1</text>
<line x1="617.0" y1="334.0" x2="623.3" y2="334.0" stroke="#333" stroke-width="1.8"/>
<text x="604.5" y="346.3" font-size="34.5" text-anchor="end">2</text>
<line x1="617.0" y1="213.0" x2="623.3" y2="213.0" stroke="#333" stroke-width="1.8"/>
<text x="604.5" y="225.3" font-size="34.5" text-anchor="end">3</text>
<line x1="617.0" y1="92.0" x2="623.3" y2="92.0" stroke="#333" stroke-width="1.8"/>
<text x="604.5" y="104.3" font-size="34.5" text-anchor="end">4</text>
<line x1="633.0" y1="600.0" x2="633.0" y2="605.5" stroke="#333" stroke-width="1.8"/>
<text x="628.0" y="649.4" font-size="34.5" text-anchor="middle">-6</text>
<line x1="822.3" y1="600.0" x2="822.3" y2="605.5" stroke="#333" stroke-width="1.8"/>
<text x="817.3" y="649.4" font-size="34.5" text-anchor="middle">-3</text>
<line x1="1011.6" y1="600.0" x2="1011.6" y2="605.5" stroke="#333" stroke-width="1.8"/>
<text x="1011.6" y="649.4" font-size="34.5" text-anchor="middle">0</text>
<line x1="1200.9" y1="600.0" x2="1200.9" y2="605.5" stroke="#333" stroke-width="1.8"/>
<text x="1200.9" y="649.4" font-size="34.5" text-anchor="middle">3</text>
<line x1="1390.2" y1="600.0" x2="1390.2" y2="605.5" stroke="#333" stroke-width="1.8"/>
<text x="1390.2" y="649.4" font-size="34.5" text-anchor="middle">6</text>
<text x="1028.0" y="679.7" font-size="34.5" text-anchor="middle" textLength="248.0" lengthAdjust="spacingAndGlyphs">log2FoldChange</text>
<text x="573.0" y="352.0" font-size="34.5" text-anchor="middle" textLength="176.0" lengthAdjust="spacingAndGlyphs" transform="rotate(-90 573.0 352.0)">-log10(padj)</text>
<text x="565.5" y="60.0" font-size="60" font-weight="bold" fill="#000">b</text>
<text x="748.0" y="24.8" font-size="34.5" fill="#2a1fe0" textLength="126.0" lengthAdjust="spacingAndGlyphs">71 lipids</text>
<text x="1193.0" y="24.8" font-size="34.5" fill="#e8212a" textLength="127.0" lengthAdjust="spacingAndGlyphs">61 lipids</text>
<text x="687.5" y="170.3" font-size="33" textLength="215.7" lengthAdjust="spacingAndGlyphs">PC(20:1_20:3)</text>
<text x="663.8" y="273.5" font-size="33" textLength="214.7" lengthAdjust="spacingAndGlyphs">PG(18:1_20:2)</text>
<text x="695.7" y="317.6" font-size="33" textLength="86.3" lengthAdjust="spacingAndGlyphs">TG(O-</text>
<text x="628.0" y="355.0" font-size="33" textLength="221.3" lengthAdjust="spacingAndGlyphs">13:0_18:1_3:0)</text>
<text x="1128.9" y="211.9" font-size="33" textLength="296.0" lengthAdjust="spacingAndGlyphs">TG(16:1_16:2_22:6)</text>
<text x="1160.8" y="275.2" font-size="33" textLength="292.8" lengthAdjust="spacingAndGlyphs">TG(16:2_18:2_22:6)</text>
<text x="1192.2" y="323.6" font-size="33" textLength="220.0" lengthAdjust="spacingAndGlyphs">TG(14:1_16:1_</text>
<text x="1262.6" y="360.5" font-size="33" textLength="75.4" lengthAdjust="spacingAndGlyphs">22:6)</text>
<line x1="864.7" y1="184.4" x2="889.5" y2="205.3" stroke="#222" stroke-width="1.8"/>
<line x1="834.4" y1="291.7" x2="856.5" y2="312.6" stroke="#222" stroke-width="1.8"/>
<line x1="711.7" y1="372.6" x2="732.6" y2="390.8" stroke="#222" stroke-width="1.8"/>
<line x1="1143.7" y1="233.9" x2="1134.4" y2="253.2" stroke="#222" stroke-width="1.8"/>
<line x1="1150.9" y1="268.0" x2="1134.4" y2="270.8" stroke="#222" stroke-width="1.8"/>
<line x1="1189.4" y1="314.8" x2="1170.0" y2="324.7" stroke="#222" stroke-width="1.8"/>
<text x="1464.0" y="60.0" font-size="60" font-weight="bold" fill="#000">c</text>
<text x="1649.0" y="84.0" font-size="35" textLength="376.0" lengthAdjust="spacingAndGlyphs">AAV8-AGXT/AAV8-GFP</text>
<line x1="1850.7" y1="100.7" x2="1850.7" y2="676.0" stroke="#e6e6e6" stroke-width="1.6"/>
<line x1="1807.6" y1="183.0" x2="1894.0" y2="183.0" stroke="#ececec" stroke-width="1.6"/>
<line x1="1807.6" y1="320.0" x2="1894.0" y2="320.0" stroke="#ececec" stroke-width="1.6"/>
<line x1="1807.6" y1="457.0" x2="1894.0" y2="457.0" stroke="#ececec" stroke-width="1.6"/>
<line x1="1807.6" y1="595.0" x2="1894.0" y2="595.0" stroke="#ececec" stroke-width="1.6"/>
<rect x="1807.6" y="100.7" width="86.4" height="575.3" fill="none" stroke="#6f6f6f" stroke-width="2.6"/>
<line x1="1850.7" y1="676.0" x2="1850.7" y2="681.0" stroke="#333" stroke-width="1.8"/>
<line x1="1801.0" y1="183.0" x2="1807.6" y2="183.0" stroke="#333" stroke-width="1.8"/>
<text x="1791.0" y="194.5" font-size="33" text-anchor="end" fill="#222">Sphingosine</text>
<circle cx="1850.7" cy="183.0" r="17.0" fill="#cdb9fb"/>
<line x1="1801.0" y1="320.0" x2="1807.6" y2="320.0" stroke="#333" stroke-width="1.8"/>
<text x="1791.0" y="331.5" font-size="33" text-anchor="end" fill="#222">Sphingomyelins</text>
<circle cx="1850.7" cy="320.0" r="17.0" fill="#c4abfb"/>
<line x1="1801.0" y1="457.0" x2="1807.6" y2="457.0" stroke="#333" stroke-width="1.8"/>
<text x="1791.0" y="468.5" font-size="33" text-anchor="end" fill="#222">Sphingolipids</text>
<circle cx="1850.7" cy="457.0" r="10.3" fill="#cdb9fb"/>
<line x1="1801.0" y1="595.0" x2="1807.6" y2="595.0" stroke="#333" stroke-width="1.8"/>
<text x="1791.0" y="606.5" font-size="33" text-anchor="end" fill="#222">Dihydrosphingosine</text>
<circle cx="1850.7" cy="595.0" r="3.6" fill="#2a10f5"/>
<text x="1935.0" y="147.0" font-size="27" fill="#222">pvalue</text>
<circle cx="1957.6" cy="185.0" r="10.0" fill="#111"/>
<text x="1992.5" y="192.5" font-size="21.5" fill="#222">0.005</text>
<circle cx="1957.6" cy="229.0" r="12.0" fill="#111"/>
<text x="1992.5" y="236.5" font-size="21.5" fill="#222">0.010</text>
<circle cx="1957.6" cy="272.5" r="14.0" fill="#111"/>
<text x="1992.5" y="280.0" font-size="21.5" fill="#222">0.015</text>
<circle cx="1957.6" cy="317.0" r="17.0" fill="#111"/>
<text x="1992.5" y="324.5" font-size="21.5" fill="#222">0.020</text>
<text x="1935.0" y="417.0" font-size="27" fill="#222">ES</text>
<defs><linearGradient id="ges" x1="0" y1="0" x2="0" y2="1"><stop offset="0" stop-color="#ffffff"/><stop offset="0.5" stop-color="#b79bfb"/><stop offset="1" stop-color="#2200ff"/></linearGradient></defs>
<rect x="1936.0" y="442.0" width="43.0" height="212.0" fill="url(#ges)"/>
<text x="1992.5" y="447.5" font-size="21.5" fill="#222">0.0</text>
<text x="1992.5" y="511.0" font-size="21.5" fill="#222">-0.2</text>
<line x1="1936.0" y1="503.5" x2="1944.0" y2="503.5" stroke="#fff" stroke-width="1.2"/>
<line x1="1971.0" y1="503.5" x2="1979.0" y2="503.5" stroke="#fff" stroke-width="1.2"/>
<text x="1992.5" y="574.5" font-size="21.5" fill="#222">-0.4</text>
<line x1="1936.0" y1="567.0" x2="1944.0" y2="567.0" stroke="#fff" stroke-width="1.2"/>
<line x1="1971.0" y1="567.0" x2="1979.0" y2="567.0" stroke="#fff" stroke-width="1.2"/>
<text x="1992.5" y="637.5" font-size="21.5" fill="#222">-0.6</text>
<line x1="1936.0" y1="630.0" x2="1944.0" y2="630.0" stroke="#fff" stroke-width="1.2"/>
<line x1="1971.0" y1="630.0" x2="1979.0" y2="630.0" stroke="#fff" stroke-width="1.2"/>
<text x="4.5" y="749.0" font-size="60" font-weight="bold" fill="#000">d</text>
<text x="43.6" y="813.0" font-size="34.5" textLength="174.5" lengthAdjust="spacingAndGlyphs">AAV8-GFP</text>
<line x1="35.6" y1="822.4" x2="231.4" y2="822.4" stroke="#000" stroke-width="2.2"/>
<text x="268.4" y="813.0" font-size="34.5" textLength="190.0" lengthAdjust="spacingAndGlyphs">AAV8-AGXT</text>
<line x1="266.0" y1="822.4" x2="462.0" y2="822.4" stroke="#000" stroke-width="2.2"/>
<g shape-rendering="crispEdges">
<rect x="31.0" y="836.0" width="44.2" height="32.3" fill="#f57e86"/>
<rect x="74.6" y="836.0" width="44.2" height="32.3" fill="#fad8dd"/>
<rect x="118.2" y="836.0" width="44.2" height="32.3" fill="#f57e86"/>
<rect x="161.8" y="836.0" width="44.2" height="32.3" fill="#f66a71"/>
<rect x="205.4" y="836.0" width="44.2" height="32.3" fill="#edeefe"/>
<rect x="249.0" y="836.0" width="44.2" height="32.3" fill="#5250fc"/>
<rect x="292.6" y="836.0" width="44.2" height="32.3" fill="#ffffff"/>
<rect x="336.2" y="836.0" width="44.2" height="32.3" fill="#d4d6fd"/>
<rect x="379.8" y="836.0" width="44.2" height="32.3" fill="#d4d6fd"/>
<rect x="423.4" y="836.0" width="44.2" height="32.3" fill="#9598fb"/>
<rect x="31.0" y="867.7" width="44.2" height="32.3" fill="#f57e86"/>
<rect x="74.6" y="867.7" width="44.2" height="32.3" fill="#fad8dd"/>
<rect x="118.2" y="867.7" width="44.2" height="32.3" fill="#f66a71"/>
<rect x="161.8" y="867.7" width="44.2" height="32.3" fill="#f66a71"/>
<rect x="205.4" y="867.7" width="44.2" height="32.3" fill="#edeefe"/>
<rect x="249.0" y="867.7" width="44.2" height="32.3" fill="#7e80fb"/>
<rect x="292.6" y="867.7" width="44.2" height="32.3" fill="#d4d6fd"/>
<rect x="336.2" y="867.7" width="44.2" height="32.3" fill="#7e80fb"/>
<rect x="379.8" y="867.7" width="44.2" height="32.3" fill="#fdf1f3"/>
<rect x="423.4" y="867.7" width="44.2" height="32.3" fill="#b6b9fc"/>
<rect x="31.0" y="899.4" width="44.2" height="32.3" fill="#fad8dd"/>
<rect x="74.6" y="899.4" width="44.2" height="32.3" fill="#f7b8bf"/>
<rect x="118.2" y="899.4" width="44.2" height="32.3" fill="#f8575c"/>
<rect x="161.8" y="899.4" width="44.2" height="32.3" fill="#f66a71"/>
<rect x="205.4" y="899.4" width="44.2" height="32.3" fill="#b6b9fc"/>
<rect x="249.0" y="899.4" width="44.2" height="32.3" fill="#9598fb"/>
<rect x="292.6" y="899.4" width="44.2" height="32.3" fill="#9598fb"/>
<rect x="336.2" y="899.4" width="44.2" height="32.3" fill="#7e80fb"/>
<rect x="379.8" y="899.4" width="44.2" height="32.3" fill="#fdf1f3"/>
<rect x="423.4" y="899.4" width="44.2" height="32.3" fill="#b6b9fc"/>
<rect x="31.0" y="931.1" width="44.2" height="32.3" fill="#f7b8bf"/>
<rect x="74.6" y="931.1" width="44.2" height="32.3" fill="#fefafb"/>
<rect x="118.2" y="931.1" width="44.2" height="32.3" fill="#fc3334"/>
<rect x="161.8" y="931.1" width="44.2" height="32.3" fill="#f5939b"/>
<rect x="205.4" y="931.1" width="44.2" height="32.3" fill="#d4d6fd"/>
<rect x="249.0" y="931.1" width="44.2" height="32.3" fill="#b6b9fc"/>
<rect x="292.6" y="931.1" width="44.2" height="32.3" fill="#9598fb"/>
<rect x="336.2" y="931.1" width="44.2" height="32.3" fill="#7e80fb"/>
<rect x="379.8" y="931.1" width="44.2" height="32.3" fill="#f7b8bf"/>
<rect x="423.4" y="931.1" width="44.2" height="32.3" fill="#9598fb"/>
<rect x="31.0" y="962.8" width="44.2" height="32.3" fill="#f5939b"/>
<rect x="74.6" y="962.8" width="44.2" height="32.3" fill="#fefafb"/>
<rect x="118.2" y="962.8" width="44.2" height="32.3" fill="#f66a71"/>
<rect x="161.8" y="962.8" width="44.2" height="32.3" fill="#f8575c"/>
<rect x="205.4" y="962.8" width="44.2" height="32.3" fill="#b6b9fc"/>
<rect x="249.0" y="962.8" width="44.2" height="32.3" fill="#ffffff"/>
<rect x="292.6" y="962.8" width="44.2" height="32.3" fill="#6868fb"/>
<rect x="336.2" y="962.8" width="44.2" height="32.3" fill="#b6b9fc"/>
<rect x="379.8" y="962.8" width="44.2" height="32.3" fill="#f7b8bf"/>
<rect x="423.4" y="962.8" width="44.2" height="32.3" fill="#9598fb"/>
<rect x="31.0" y="994.5" width="44.2" height="32.3" fill="#fdf1f3"/>
<rect x="74.6" y="994.5" width="44.2" height="32.3" fill="#f8575c"/>
<rect x="118.2" y="994.5" width="44.2" height="32.3" fill="#f57e86"/>
<rect x="161.8" y="994.5" width="44.2" height="32.3" fill="#fdf1f3"/>
<rect x="205.4" y="994.5" width="44.2" height="32.3" fill="#ffffff"/>
<rect x="249.0" y="994.5" width="44.2" height="32.3" fill="#ffffff"/>
<rect x="292.6" y="994.5" width="44.2" height="32.3" fill="#edeefe"/>
<rect x="336.2" y="994.5" width="44.2" height="32.3" fill="#3c38fd"/>
<rect x="379.8" y="994.5" width="44.2" height="32.3" fill="#f7b8bf"/>
<rect x="423.4" y="994.5" width="44.2" height="32.3" fill="#9598fb"/>
<rect x="31.0" y="1026.2" width="44.2" height="32.3" fill="#fdf1f3"/>
<rect x="74.6" y="1026.2" width="44.2" height="32.3" fill="#f8575c"/>
<rect x="118.2" y="1026.2" width="44.2" height="32.3" fill="#f57e86"/>
<rect x="161.8" y="1026.2" width="44.2" height="32.3" fill="#fdf1f3"/>
<rect x="205.4" y="1026.2" width="44.2" height="32.3" fill="#ffffff"/>
<rect x="249.0" y="1026.2" width="44.2" height="32.3" fill="#ffffff"/>
<rect x="292.6" y="1026.2" width="44.2" height="32.3" fill="#edeefe"/>
<rect x="336.2" y="1026.2" width="44.2" height="32.3" fill="#3c38fd"/>
<rect x="379.8" y="1026.2" width="44.2" height="32.3" fill="#f7b8bf"/>
<rect x="423.4" y="1026.2" width="44.2" height="32.3" fill="#9598fb"/>
<rect x="31.0" y="1057.9" width="44.2" height="32.3" fill="#fad8dd"/>
<rect x="74.6" y="1057.9" width="44.2" height="32.3" fill="#f66a71"/>
<rect x="118.2" y="1057.9" width="44.2" height="32.3" fill="#f57e86"/>
<rect x="161.8" y="1057.9" width="44.2" height="32.3" fill="#fad8dd"/>
<rect x="205.4" y="1057.9" width="44.2" height="32.3" fill="#edeefe"/>
<rect x="249.0" y="1057.9" width="44.2" height="32.3" fill="#1208ff"/>
<rect x="292.6" y="1057.9" width="44.2" height="32.3" fill="#ffffff"/>
<rect x="336.2" y="1057.9" width="44.2" height="32.3" fill="#b6b9fc"/>
<rect x="379.8" y="1057.9" width="44.2" height="32.3" fill="#f57e86"/>
<rect x="423.4" y="1057.9" width="44.2" height="32.3" fill="#edeefe"/>
<rect x="31.0" y="1089.6" width="44.2" height="32.3" fill="#ffffff"/>
<rect x="74.6" y="1089.6" width="44.2" height="32.3" fill="#f57e86"/>
<rect x="118.2" y="1089.6" width="44.2" height="32.3" fill="#f8575c"/>
<rect x="161.8" y="1089.6" width="44.2" height="32.3" fill="#edeefe"/>
<rect x="205.4" y="1089.6" width="44.2" height="32.3" fill="#fdf1f3"/>
<rect x="249.0" y="1089.6" width="44.2" height="32.3" fill="#d4d6fd"/>
<rect x="292.6" y="1089.6" width="44.2" height="32.3" fill="#7e80fb"/>
<rect x="336.2" y="1089.6" width="44.2" height="32.3" fill="#6868fb"/>
<rect x="379.8" y="1089.6" width="44.2" height="32.3" fill="#f57e86"/>
<rect x="423.4" y="1089.6" width="44.2" height="32.3" fill="#edeefe"/>
<rect x="31.0" y="1121.4" width="44.2" height="32.3" fill="#fad8dd"/>
<rect x="74.6" y="1121.4" width="44.2" height="32.3" fill="#d4d6fd"/>
<rect x="118.2" y="1121.4" width="44.2" height="32.3" fill="#f8575c"/>
<rect x="161.8" y="1121.4" width="44.2" height="32.3" fill="#f8575c"/>
<rect x="205.4" y="1121.4" width="44.2" height="32.3" fill="#d4d6fd"/>
<rect x="249.0" y="1121.4" width="44.2" height="32.3" fill="#fdf1f3"/>
<rect x="292.6" y="1121.4" width="44.2" height="32.3" fill="#6868fb"/>
<rect x="336.2" y="1121.4" width="44.2" height="32.3" fill="#b6b9fc"/>
<rect x="379.8" y="1121.4" width="44.2" height="32.3" fill="#fad8dd"/>
<rect x="423.4" y="1121.4" width="44.2" height="32.3" fill="#9598fb"/>
<rect x="31.0" y="1153.1" width="44.2" height="32.3" fill="#d4d6fd"/>
<rect x="74.6" y="1153.1" width="44.2" height="32.3" fill="#f8575c"/>
<rect x="118.2" y="1153.1" width="44.2" height="32.3" fill="#f8575c"/>
<rect x="161.8" y="1153.1" width="44.2" height="32.3" fill="#b6b9fc"/>
<rect x="205.4" y="1153.1" width="44.2" height="32.3" fill="#fdf1f3"/>
<rect x="249.0" y="1153.1" width="44.2" height="32.3" fill="#fdf1f3"/>
<rect x="292.6" y="1153.1" width="44.2" height="32.3" fill="#6868fb"/>
<rect x="336.2" y="1153.1" width="44.2" height="32.3" fill="#edeefe"/>
<rect x="379.8" y="1153.1" width="44.2" height="32.3" fill="#7e80fb"/>
<rect x="423.4" y="1153.1" width="44.2" height="32.3" fill="#fdf1f3"/>
<rect x="31.0" y="1184.8" width="44.2" height="32.3" fill="#ffffff"/>
<rect x="74.6" y="1184.8" width="44.2" height="32.3" fill="#f8575c"/>
<rect x="118.2" y="1184.8" width="44.2" height="32.3" fill="#f8575c"/>
<rect x="161.8" y="1184.8" width="44.2" height="32.3" fill="#fdf1f3"/>
<rect x="205.4" y="1184.8" width="44.2" height="32.3" fill="#9598fb"/>
<rect x="249.0" y="1184.8" width="44.2" height="32.3" fill="#d4d6fd"/>
<rect x="292.6" y="1184.8" width="44.2" height="32.3" fill="#d4d6fd"/>
<rect x="336.2" y="1184.8" width="44.2" height="32.3" fill="#7e80fb"/>
<rect x="379.8" y="1184.8" width="44.2" height="32.3" fill="#f7b8bf"/>
<rect x="423.4" y="1184.8" width="44.2" height="32.3" fill="#b6b9fc"/>
<rect x="31.0" y="1216.5" width="44.2" height="32.3" fill="#f8f8ff"/>
<rect x="74.6" y="1216.5" width="44.2" height="32.3" fill="#f5939b"/>
<rect x="118.2" y="1216.5" width="44.2" height="32.3" fill="#f8575c"/>
<rect x="161.8" y="1216.5" width="44.2" height="32.3" fill="#f5939b"/>
<rect x="205.4" y="1216.5" width="44.2" height="32.3" fill="#9598fb"/>
<rect x="249.0" y="1216.5" width="44.2" height="32.3" fill="#edeefe"/>
<rect x="292.6" y="1216.5" width="44.2" height="32.3" fill="#b6b9fc"/>
<rect x="336.2" y="1216.5" width="44.2" height="32.3" fill="#ffffff"/>
<rect x="379.8" y="1216.5" width="44.2" height="32.3" fill="#f5939b"/>
<rect x="423.4" y="1216.5" width="44.2" height="32.3" fill="#3c38fd"/>
<rect x="31.0" y="1248.2" width="44.2" height="32.3" fill="#fad8dd"/>
<rect x="74.6" y="1248.2" width="44.2" height="32.3" fill="#f57e86"/>
<rect x="118.2" y="1248.2" width="44.2" height="32.3" fill="#f66a71"/>
<rect x="161.8" y="1248.2" width="44.2" height="32.3" fill="#f7b8bf"/>
<rect x="205.4" y="1248.2" width="44.2" height="32.3" fill="#7e80fb"/>
<rect x="249.0" y="1248.2" width="44.2" height="32.3" fill="#fdf1f3"/>
<rect x="292.6" y="1248.2" width="44.2" height="32.3" fill="#9598fb"/>
<rect x="336.2" y="1248.2" width="44.2" height="32.3" fill="#9598fb"/>
<rect x="379.8" y="1248.2" width="44.2" height="32.3" fill="#f5939b"/>
<rect x="423.4" y="1248.2" width="44.2" height="32.3" fill="#9598fb"/>
<rect x="31.0" y="1279.9" width="44.2" height="32.3" fill="#f5939b"/>
<rect x="74.6" y="1279.9" width="44.2" height="32.3" fill="#fdf1f3"/>
<rect x="118.2" y="1279.9" width="44.2" height="32.3" fill="#f5939b"/>
<rect x="161.8" y="1279.9" width="44.2" height="32.3" fill="#f66a71"/>
<rect x="205.4" y="1279.9" width="44.2" height="32.3" fill="#9598fb"/>
<rect x="249.0" y="1279.9" width="44.2" height="32.3" fill="#d4d6fd"/>
<rect x="292.6" y="1279.9" width="44.2" height="32.3" fill="#7e80fb"/>
<rect x="336.2" y="1279.9" width="44.2" height="32.3" fill="#d4d6fd"/>
<rect x="379.8" y="1279.9" width="44.2" height="32.3" fill="#f57e86"/>
<rect x="423.4" y="1279.9" width="44.2" height="32.3" fill="#9598fb"/>
<rect x="31.0" y="1311.6" width="44.2" height="32.3" fill="#fdf1f3"/>
<rect x="74.6" y="1311.6" width="44.2" height="32.3" fill="#f66a71"/>
<rect x="118.2" y="1311.6" width="44.2" height="32.3" fill="#f7b8bf"/>
<rect x="161.8" y="1311.6" width="44.2" height="32.3" fill="#fad8dd"/>
<rect x="205.4" y="1311.6" width="44.2" height="32.3" fill="#d4d6fd"/>
<rect x="249.0" y="1311.6" width="44.2" height="32.3" fill="#9598fb"/>
<rect x="292.6" y="1311.6" width="44.2" height="32.3" fill="#9598fb"/>
<rect x="336.2" y="1311.6" width="44.2" height="32.3" fill="#9598fb"/>
<rect x="379.8" y="1311.6" width="44.2" height="32.3" fill="#fa4548"/>
<rect x="423.4" y="1311.6" width="44.2" height="32.3" fill="#b6b9fc"/>
<rect x="31.0" y="1343.3" width="44.2" height="32.3" fill="#edeefe"/>
<rect x="74.6" y="1343.3" width="44.2" height="32.3" fill="#f7b8bf"/>
<rect x="118.2" y="1343.3" width="44.2" height="32.3" fill="#f66a71"/>
<rect x="161.8" y="1343.3" width="44.2" height="32.3" fill="#f7b8bf"/>
<rect x="205.4" y="1343.3" width="44.2" height="32.3" fill="#b6b9fc"/>
<rect x="249.0" y="1343.3" width="44.2" height="32.3" fill="#fad8dd"/>
<rect x="292.6" y="1343.3" width="44.2" height="32.3" fill="#6868fb"/>
<rect x="336.2" y="1343.3" width="44.2" height="32.3" fill="#6868fb"/>
<rect x="379.8" y="1343.3" width="44.2" height="32.3" fill="#f57e86"/>
<rect x="423.4" y="1343.3" width="44.2" height="32.3" fill="#edeefe"/>
<rect x="31.0" y="1375.0" width="44.2" height="32.3" fill="#edeefe"/>
<rect x="74.6" y="1375.0" width="44.2" height="32.3" fill="#f7b8bf"/>
<rect x="118.2" y="1375.0" width="44.2" height="32.3" fill="#f66a71"/>
<rect x="161.8" y="1375.0" width="44.2" height="32.3" fill="#f7b8bf"/>
<rect x="205.4" y="1375.0" width="44.2" height="32.3" fill="#b6b9fc"/>
<rect x="249.0" y="1375.0" width="44.2" height="32.3" fill="#fad8dd"/>
<rect x="292.6" y="1375.0" width="44.2" height="32.3" fill="#6868fb"/>
<rect x="336.2" y="1375.0" width="44.2" height="32.3" fill="#6868fb"/>
<rect x="379.8" y="1375.0" width="44.2" height="32.3" fill="#f66a71"/>
<rect x="423.4" y="1375.0" width="44.2" height="32.3" fill="#edeefe"/>
<rect x="31.0" y="1406.7" width="44.2" height="32.3" fill="#f8f8ff"/>
<rect x="74.6" y="1406.7" width="44.2" height="32.3" fill="#f57e86"/>
<rect x="118.2" y="1406.7" width="44.2" height="32.3" fill="#f8575c"/>
<rect x="161.8" y="1406.7" width="44.2" height="32.3" fill="#f5939b"/>
<rect x="205.4" y="1406.7" width="44.2" height="32.3" fill="#5250fc"/>
<rect x="249.0" y="1406.7" width="44.2" height="32.3" fill="#fdf1f3"/>
<rect x="292.6" y="1406.7" width="44.2" height="32.3" fill="#9598fb"/>
<rect x="336.2" y="1406.7" width="44.2" height="32.3" fill="#9598fb"/>
<rect x="379.8" y="1406.7" width="44.2" height="32.3" fill="#f5939b"/>
<rect x="423.4" y="1406.7" width="44.2" height="32.3" fill="#b6b9fc"/>
<rect x="31.0" y="1438.4" width="44.2" height="32.3" fill="#d4d6fd"/>
<rect x="74.6" y="1438.4" width="44.2" height="32.3" fill="#f5939b"/>
<rect x="118.2" y="1438.4" width="44.2" height="32.3" fill="#fa4548"/>
<rect x="161.8" y="1438.4" width="44.2" height="32.3" fill="#f8f8ff"/>
<rect x="205.4" y="1438.4" width="44.2" height="32.3" fill="#edeefe"/>
<rect x="249.0" y="1438.4" width="44.2" height="32.3" fill="#f7b8bf"/>
<rect x="292.6" y="1438.4" width="44.2" height="32.3" fill="#d4d6fd"/>
<rect x="336.2" y="1438.4" width="44.2" height="32.3" fill="#6868fb"/>
<rect x="379.8" y="1438.4" width="44.2" height="32.3" fill="#f57e86"/>
<rect x="423.4" y="1438.4" width="44.2" height="32.3" fill="#7e80fb"/>
<rect x="31.0" y="1470.1" width="44.2" height="32.3" fill="#f8f8ff"/>
<rect x="74.6" y="1470.1" width="44.2" height="32.3" fill="#f57e86"/>
<rect x="118.2" y="1470.1" width="44.2" height="32.3" fill="#fad8dd"/>
<rect x="161.8" y="1470.1" width="44.2" height="32.3" fill="#f8f8ff"/>
<rect x="205.4" y="1470.1" width="44.2" height="32.3" fill="#ffffff"/>
<rect x="249.0" y="1470.1" width="44.2" height="32.3" fill="#1208ff"/>
<rect x="292.6" y="1470.1" width="44.2" height="32.3" fill="#fefafb"/>
<rect x="336.2" y="1470.1" width="44.2" height="32.3" fill="#fad8dd"/>
<rect x="379.8" y="1470.1" width="44.2" height="32.3" fill="#f57e86"/>
<rect x="423.4" y="1470.1" width="44.2" height="32.3" fill="#fdf1f3"/>
<rect x="31.0" y="1501.8" width="44.2" height="32.3" fill="#7e80fb"/>
<rect x="74.6" y="1501.8" width="44.2" height="32.3" fill="#7e80fb"/>
<rect x="118.2" y="1501.8" width="44.2" height="32.3" fill="#fa4548"/>
<rect x="161.8" y="1501.8" width="44.2" height="32.3" fill="#f5939b"/>
<rect x="205.4" y="1501.8" width="44.2" height="32.3" fill="#ffffff"/>
<rect x="249.0" y="1501.8" width="44.2" height="32.3" fill="#f66a71"/>
<rect x="292.6" y="1501.8" width="44.2" height="32.3" fill="#9598fb"/>
<rect x="336.2" y="1501.8" width="44.2" height="32.3" fill="#ffffff"/>
<rect x="379.8" y="1501.8" width="44.2" height="32.3" fill="#f8f8ff"/>
<rect x="423.4" y="1501.8" width="44.2" height="32.3" fill="#b6b9fc"/>
<rect x="31.0" y="1533.5" width="44.2" height="32.3" fill="#fdf1f3"/>
<rect x="74.6" y="1533.5" width="44.2" height="32.3" fill="#5250fc"/>
<rect x="118.2" y="1533.5" width="44.2" height="32.3" fill="#b6b9fc"/>
<rect x="161.8" y="1533.5" width="44.2" height="32.3" fill="#f57e86"/>
<rect x="205.4" y="1533.5" width="44.2" height="32.3" fill="#f57e86"/>
<rect x="249.0" y="1533.5" width="44.2" height="32.3" fill="#d4d6fd"/>
<rect x="292.6" y="1533.5" width="44.2" height="32.3" fill="#fa4548"/>
<rect x="336.2" y="1533.5" width="44.2" height="32.3" fill="#fefafb"/>
<rect x="379.8" y="1533.5" width="44.2" height="32.3" fill="#7e80fb"/>
<rect x="423.4" y="1533.5" width="44.2" height="32.3" fill="#ffffff"/>
<rect x="31.0" y="1565.2" width="44.2" height="32.3" fill="#7e80fb"/>
<rect x="74.6" y="1565.2" width="44.2" height="32.3" fill="#f57e86"/>
<rect x="118.2" y="1565.2" width="44.2" height="32.3" fill="#f66a71"/>
<rect x="161.8" y="1565.2" width="44.2" height="32.3" fill="#d4d6fd"/>
<rect x="205.4" y="1565.2" width="44.2" height="32.3" fill="#9598fb"/>
<rect x="249.0" y="1565.2" width="44.2" height="32.3" fill="#fad8dd"/>
<rect x="292.6" y="1565.2" width="44.2" height="32.3" fill="#9598fb"/>
<rect x="336.2" y="1565.2" width="44.2" height="32.3" fill="#9598fb"/>
<rect x="379.8" y="1565.2" width="44.2" height="32.3" fill="#fa4548"/>
<rect x="423.4" y="1565.2" width="44.2" height="32.3" fill="#edeefe"/>
<rect x="31.0" y="1596.9" width="44.2" height="32.3" fill="#5250fc"/>
<rect x="74.6" y="1596.9" width="44.2" height="32.3" fill="#ffffff"/>
<rect x="118.2" y="1596.9" width="44.2" height="32.3" fill="#9598fb"/>
<rect x="161.8" y="1596.9" width="44.2" height="32.3" fill="#ff2220"/>
<rect x="205.4" y="1596.9" width="44.2" height="32.3" fill="#ffffff"/>
<rect x="249.0" y="1596.9" width="44.2" height="32.3" fill="#fad8dd"/>
<rect x="292.6" y="1596.9" width="44.2" height="32.3" fill="#d4d6fd"/>
<rect x="336.2" y="1596.9" width="44.2" height="32.3" fill="#ffffff"/>
<rect x="379.8" y="1596.9" width="44.2" height="32.3" fill="#f7b8bf"/>
<rect x="423.4" y="1596.9" width="44.2" height="32.3" fill="#fefafb"/>
<rect x="31.0" y="1628.6" width="44.2" height="32.3" fill="#1208ff"/>
<rect x="74.6" y="1628.6" width="44.2" height="32.3" fill="#f7b8bf"/>
<rect x="118.2" y="1628.6" width="44.2" height="32.3" fill="#f5939b"/>
<rect x="161.8" y="1628.6" width="44.2" height="32.3" fill="#f5939b"/>
<rect x="205.4" y="1628.6" width="44.2" height="32.3" fill="#f8f8ff"/>
<rect x="249.0" y="1628.6" width="44.2" height="32.3" fill="#fefafb"/>
<rect x="292.6" y="1628.6" width="44.2" height="32.3" fill="#ffffff"/>
<rect x="336.2" y="1628.6" width="44.2" height="32.3" fill="#fdf1f3"/>
<rect x="379.8" y="1628.6" width="44.2" height="32.3" fill="#f7b8bf"/>
<rect x="423.4" y="1628.6" width="44.2" height="32.3" fill="#ffffff"/>
<rect x="31.0" y="1660.4" width="44.2" height="32.3" fill="#7e80fb"/>
<rect x="74.6" y="1660.4" width="44.2" height="32.3" fill="#ffffff"/>
<rect x="118.2" y="1660.4" width="44.2" height="32.3" fill="#fad8dd"/>
<rect x="161.8" y="1660.4" width="44.2" height="32.3" fill="#f5939b"/>
<rect x="205.4" y="1660.4" width="44.2" height="32.3" fill="#d4d6fd"/>
<rect x="249.0" y="1660.4" width="44.2" height="32.3" fill="#f66a71"/>
<rect x="292.6" y="1660.4" width="44.2" height="32.3" fill="#7e80fb"/>
<rect x="336.2" y="1660.4" width="44.2" height="32.3" fill="#edeefe"/>
<rect x="379.8" y="1660.4" width="44.2" height="32.3" fill="#fa4548"/>
<rect x="423.4" y="1660.4" width="44.2" height="32.3" fill="#9598fb"/>
<rect x="31.0" y="1692.1" width="44.2" height="32.3" fill="#ffffff"/>
<rect x="74.6" y="1692.1" width="44.2" height="32.3" fill="#fa4548"/>
<rect x="118.2" y="1692.1" width="44.2" height="32.3" fill="#9598fb"/>
<rect x="161.8" y="1692.1" width="44.2" height="32.3" fill="#fad8dd"/>
<rect x="205.4" y="1692.1" width="44.2" height="32.3" fill="#5250fc"/>
<rect x="249.0" y="1692.1" width="44.2" height="32.3" fill="#f57e86"/>
<rect x="292.6" y="1692.1" width="44.2" height="32.3" fill="#d4d6fd"/>
<rect x="336.2" y="1692.1" width="44.2" height="32.3" fill="#f7b8bf"/>
<rect x="379.8" y="1692.1" width="44.2" height="32.3" fill="#fad8dd"/>
<rect x="423.4" y="1692.1" width="44.2" height="32.3" fill="#b6b9fc"/>
<rect x="31.0" y="1723.8" width="44.2" height="32.3" fill="#b6b9fc"/>
<rect x="74.6" y="1723.8" width="44.2" height="32.3" fill="#fad8dd"/>
<rect x="118.2" y="1723.8" width="44.2" height="32.3" fill="#f5939b"/>
<rect x="161.8" y="1723.8" width="44.2" height="32.3" fill="#edeefe"/>
<rect x="205.4" y="1723.8" width="44.2" height="32.3" fill="#b6b9fc"/>
<rect x="249.0" y="1723.8" width="44.2" height="32.3" fill="#fc3334"/>
<rect x="292.6" y="1723.8" width="44.2" height="32.3" fill="#7e80fb"/>
<rect x="336.2" y="1723.8" width="44.2" height="32.3" fill="#f7b8bf"/>
<rect x="379.8" y="1723.8" width="44.2" height="32.3" fill="#fad8dd"/>
<rect x="423.4" y="1723.8" width="44.2" height="32.3" fill="#7e80fb"/>
<rect x="31.0" y="1755.5" width="44.2" height="32.3" fill="#f66a71"/>
<rect x="74.6" y="1755.5" width="44.2" height="32.3" fill="#d4d6fd"/>
<rect x="118.2" y="1755.5" width="44.2" height="32.3" fill="#fdf1f3"/>
<rect x="161.8" y="1755.5" width="44.2" height="32.3" fill="#5250fc"/>
<rect x="205.4" y="1755.5" width="44.2" height="32.3" fill="#edeefe"/>
<rect x="249.0" y="1755.5" width="44.2" height="32.3" fill="#fc3334"/>
<rect x="292.6" y="1755.5" width="44.2" height="32.3" fill="#d4d6fd"/>
<rect x="336.2" y="1755.5" width="44.2" height="32.3" fill="#f7b8bf"/>
<rect x="379.8" y="1755.5" width="44.2" height="32.3" fill="#f8f8ff"/>
<rect x="423.4" y="1755.5" width="44.2" height="32.3" fill="#b6b9fc"/>
<rect x="31.0" y="1787.2" width="44.2" height="32.3" fill="#edeefe"/>
<rect x="74.6" y="1787.2" width="44.2" height="32.3" fill="#fdf1f3"/>
<rect x="118.2" y="1787.2" width="44.2" height="32.3" fill="#f7b8bf"/>
<rect x="161.8" y="1787.2" width="44.2" height="32.3" fill="#2720fe"/>
<rect x="205.4" y="1787.2" width="44.2" height="32.3" fill="#fdf1f3"/>
<rect x="249.0" y="1787.2" width="44.2" height="32.3" fill="#f8575c"/>
<rect x="292.6" y="1787.2" width="44.2" height="32.3" fill="#f8f8ff"/>
<rect x="336.2" y="1787.2" width="44.2" height="32.3" fill="#ffffff"/>
<rect x="379.8" y="1787.2" width="44.2" height="32.3" fill="#f8575c"/>
<rect x="423.4" y="1787.2" width="44.2" height="32.3" fill="#7e80fb"/>
<rect x="31.0" y="1818.9" width="44.2" height="32.3" fill="#9598fb"/>
<rect x="74.6" y="1818.9" width="44.2" height="32.3" fill="#f7b8bf"/>
<rect x="118.2" y="1818.9" width="44.2" height="32.3" fill="#fad8dd"/>
<rect x="161.8" y="1818.9" width="44.2" height="32.3" fill="#6868fb"/>
<rect x="205.4" y="1818.9" width="44.2" height="32.3" fill="#ffffff"/>
<rect x="249.0" y="1818.9" width="44.2" height="32.3" fill="#f8575c"/>
<rect x="292.6" y="1818.9" width="44.2" height="32.3" fill="#f5939b"/>
<rect x="336.2" y="1818.9" width="44.2" height="32.3" fill="#5250fc"/>
<rect x="379.8" y="1818.9" width="44.2" height="32.3" fill="#fdf1f3"/>
<rect x="423.4" y="1818.9" width="44.2" height="32.3" fill="#f5939b"/>
<rect x="31.0" y="1850.6" width="44.2" height="32.3" fill="#9598fb"/>
<rect x="74.6" y="1850.6" width="44.2" height="32.3" fill="#f66a71"/>
<rect x="118.2" y="1850.6" width="44.2" height="32.3" fill="#f7b8bf"/>
<rect x="161.8" y="1850.6" width="44.2" height="32.3" fill="#d4d6fd"/>
<rect x="205.4" y="1850.6" width="44.2" height="32.3" fill="#3c38fd"/>
<rect x="249.0" y="1850.6" width="44.2" height="32.3" fill="#f66a71"/>
<rect x="292.6" y="1850.6" width="44.2" height="32.3" fill="#f8f8ff"/>
<rect x="336.2" y="1850.6" width="44.2" height="32.3" fill="#d4d6fd"/>
<rect x="379.8" y="1850.6" width="44.2" height="32.3" fill="#f57e86"/>
<rect x="423.4" y="1850.6" width="44.2" height="32.3" fill="#fdf1f3"/>
<rect x="31.0" y="1882.3" width="44.2" height="32.3" fill="#edeefe"/>
<rect x="74.6" y="1882.3" width="44.2" height="32.3" fill="#7e80fb"/>
<rect x="118.2" y="1882.3" width="44.2" height="32.3" fill="#9598fb"/>
<rect x="161.8" y="1882.3" width="44.2" height="32.3" fill="#f8f8ff"/>
<rect x="205.4" y="1882.3" width="44.2" height="32.3" fill="#edeefe"/>
<rect x="249.0" y="1882.3" width="44.2" height="32.3" fill="#ff2220"/>
<rect x="292.6" y="1882.3" width="44.2" height="32.3" fill="#f8f8ff"/>
<rect x="336.2" y="1882.3" width="44.2" height="32.3" fill="#fdf1f3"/>
<rect x="379.8" y="1882.3" width="44.2" height="32.3" fill="#fdf1f3"/>
<rect x="423.4" y="1882.3" width="44.2" height="32.3" fill="#fad8dd"/>
</g>
<text x="478.4" y="855.8" font-size="22.8" fill="#262626">SM(d18:0_16:0)_1</text>
<text x="478.4" y="887.7" font-size="22.8" fill="#262626">SM(d18:1_16:0)_1</text>
<text x="478.4" y="919.7" font-size="22.8" fill="#262626">SM(d18:1_24:1)_1</text>
<text x="478.4" y="951.6" font-size="22.8" fill="#262626">SM(d18:1_25:0)_1</text>
<text x="478.4" y="983.5" font-size="22.8" fill="#262626">SM(d43:2)_1</text>
<text x="478.4" y="1015.5" font-size="22.8" fill="#262626">SM(d18:1_22:1)_1</text>
<text x="478.4" y="1047.4" font-size="22.8" fill="#262626">SM(d18:1_22:1)_2</text>
<text x="478.4" y="1079.3" font-size="22.8" fill="#262626">SM(d18:0_22:0)_1</text>
<text x="478.4" y="1111.3" font-size="22.8" fill="#262626">SM(d18:1_24:2)_1</text>
<text x="478.4" y="1143.2" font-size="22.8" fill="#262626">SM(d18:2_23:0)_1</text>
<text x="478.4" y="1175.1" font-size="22.8" fill="#262626">SM(d18:1_22:1)_3</text>
<text x="478.4" y="1207.1" font-size="22.8" fill="#262626">SM(d18:1_20:0)_1</text>
<text x="478.4" y="1239.0" font-size="22.8" fill="#262626">SM(d18:1_23:0)_2</text>
<text x="478.4" y="1270.9" font-size="22.8" fill="#262626">SM(d18:1_14:0)_1</text>
<text x="478.4" y="1302.9" font-size="22.8" fill="#262626">SM(d33:1)_1</text>
<text x="478.4" y="1334.8" font-size="22.8" fill="#262626">SM(d40:0)_1</text>
<text x="478.4" y="1366.7" font-size="22.8" fill="#262626">SM(d18:1_24:0)_1</text>
<text x="478.4" y="1398.7" font-size="22.8" fill="#262626">SM(d18:1_24:0)_2</text>
<text x="478.4" y="1430.6" font-size="22.8" fill="#262626">SM(d18:2_16:0)_1</text>
<text x="478.4" y="1462.5" font-size="22.8" fill="#262626">SM(d41:2)_1</text>
<text x="478.4" y="1494.5" font-size="22.8" fill="#262626">SM(d18:1_20:1)_1</text>
<text x="478.4" y="1526.4" font-size="22.8" fill="#262626">SM(d42:1)_1</text>
<text x="478.4" y="1558.3" font-size="22.8" fill="#262626">SM(d18:1_18:1)+D9:(s)_1</text>
<text x="478.4" y="1590.3" font-size="22.8" fill="#262626">SM(d18:1_24:1)_2</text>
<text x="478.4" y="1622.2" font-size="22.8" fill="#262626">SM(d18:1_23:0)_1</text>
<text x="478.4" y="1654.1" font-size="22.8" fill="#262626">SM(d18:1_18:0)_1</text>
<text x="478.4" y="1686.1" font-size="22.8" fill="#262626">SM(d43:1)_1</text>
<text x="478.4" y="1718.0" font-size="22.8" fill="#262626">SM(d18:1_18:1)_1</text>
<text x="478.4" y="1749.9" font-size="22.8" fill="#262626">SM(d18:2_22:0)_1</text>
<text x="478.4" y="1781.9" font-size="22.8" fill="#262626">SM(d18:1_22:1)_4</text>
<text x="478.4" y="1813.8" font-size="22.8" fill="#262626">SM(d18:1_21:0)_1</text>
<text x="478.4" y="1845.7" font-size="22.8" fill="#262626">SM(d18:1_22:1)_5</text>
<text x="478.4" y="1877.7" font-size="22.8" fill="#262626">SM(d18:1_22:0)_1</text>
<text x="478.4" y="1909.6" font-size="22.8" fill="#262626">SM(d18:1_22:0)_2</text>
<defs><linearGradient id="gd" x1="0" y1="0" x2="1" y2="0"><stop offset="0" stop-color="#1c00ff"/><stop offset="0.05" stop-color="#1c00ff"/><stop offset="0.28" stop-color="#8a86ff"/><stop offset="0.505" stop-color="#ffffff"/><stop offset="0.74" stop-color="#fb8f92"/><stop offset="0.96" stop-color="#ff221c"/><stop offset="1" stop-color="#ff221c"/></linearGradient></defs>
<rect x="44.5" y="1933.0" width="387.2" height="36.7" fill="url(#gd)"/>
<text x="0.0" y="1961.0" font-size="34.5">-2</text>
<text x="445.0" y="1961.0" font-size="34.5">2</text>
<text x="76.5" y="2005.0" font-size="34.5" textLength="308.5" lengthAdjust="spacingAndGlyphs" style="white-space:pre">Relative  abundance</text>
<text x="757.8" y="749.0" font-size="60" font-weight="bold" fill="#000">e</text>
<text x="797.9" y="813.0" font-size="34.5" textLength="174.5" lengthAdjust="spacingAndGlyphs">AAV8-GFP</text>
<line x1="789.8" y1="822.4" x2="985.7" y2="822.4" stroke="#000" stroke-width="2.2"/>
<text x="1008.4" y="813.0" font-size="34.5" textLength="191.0" lengthAdjust="spacingAndGlyphs">AAV8-AGXT</text>
<line x1="1008.4" y1="822.4" x2="1205.0" y2="822.4" stroke="#000" stroke-width="2.2"/>
<g shape-rendering="crispEdges">
<rect x="786.7" y="839.0" width="43.0" height="28.9" fill="#f5939b"/>
<rect x="829.1" y="839.0" width="43.0" height="28.9" fill="#fdf1f3"/>
<rect x="871.5" y="839.0" width="43.0" height="28.9" fill="#f66a71"/>
<rect x="913.9" y="839.0" width="43.0" height="28.9" fill="#f57e86"/>
<rect x="956.3" y="839.0" width="43.0" height="28.9" fill="#fefafb"/>
<rect x="998.8" y="839.0" width="43.0" height="28.9" fill="#7e80fb"/>
<rect x="1041.2" y="839.0" width="43.0" height="28.9" fill="#edeefe"/>
<rect x="1083.6" y="839.0" width="43.0" height="28.9" fill="#9598fb"/>
<rect x="1126.0" y="839.0" width="43.0" height="28.9" fill="#f8f8ff"/>
<rect x="1168.4" y="839.0" width="43.0" height="28.9" fill="#5250fc"/>
<rect x="786.7" y="867.3" width="43.0" height="28.9" fill="#f57e86"/>
<rect x="829.1" y="867.3" width="43.0" height="28.9" fill="#f7b8bf"/>
<rect x="871.5" y="867.3" width="43.0" height="28.9" fill="#f57e86"/>
<rect x="913.9" y="867.3" width="43.0" height="28.9" fill="#f5939b"/>
<rect x="956.3" y="867.3" width="43.0" height="28.9" fill="#d4d6fd"/>
<rect x="998.8" y="867.3" width="43.0" height="28.9" fill="#5250fc"/>
<rect x="1041.2" y="867.3" width="43.0" height="28.9" fill="#f8f8ff"/>
<rect x="1083.6" y="867.3" width="43.0" height="28.9" fill="#9598fb"/>
<rect x="1126.0" y="867.3" width="43.0" height="28.9" fill="#d4d6fd"/>
<rect x="1168.4" y="867.3" width="43.0" height="28.9" fill="#9598fb"/>
<rect x="786.7" y="895.7" width="43.0" height="28.9" fill="#f7b8bf"/>
<rect x="829.1" y="895.7" width="43.0" height="28.9" fill="#edeefe"/>
<rect x="871.5" y="895.7" width="43.0" height="28.9" fill="#f8575c"/>
<rect x="913.9" y="895.7" width="43.0" height="28.9" fill="#f66a71"/>
<rect x="956.3" y="895.7" width="43.0" height="28.9" fill="#fdf1f3"/>
<rect x="998.8" y="895.7" width="43.0" height="28.9" fill="#6868fb"/>
<rect x="1041.2" y="895.7" width="43.0" height="28.9" fill="#b6b9fc"/>
<rect x="1083.6" y="895.7" width="43.0" height="28.9" fill="#9598fb"/>
<rect x="1126.0" y="895.7" width="43.0" height="28.9" fill="#b6b9fc"/>
<rect x="1168.4" y="895.7" width="43.0" height="28.9" fill="#b6b9fc"/>
<rect x="786.7" y="924.0" width="43.0" height="28.9" fill="#fdf1f3"/>
<rect x="829.1" y="924.0" width="43.0" height="28.9" fill="#f66a71"/>
<rect x="871.5" y="924.0" width="43.0" height="28.9" fill="#f57e86"/>
<rect x="913.9" y="924.0" width="43.0" height="28.9" fill="#f7b8bf"/>
<rect x="956.3" y="924.0" width="43.0" height="28.9" fill="#f7b8bf"/>
<rect x="998.8" y="924.0" width="43.0" height="28.9" fill="#6868fb"/>
<rect x="1041.2" y="924.0" width="43.0" height="28.9" fill="#fad8dd"/>
<rect x="1083.6" y="924.0" width="43.0" height="28.9" fill="#6868fb"/>
<rect x="1126.0" y="924.0" width="43.0" height="28.9" fill="#6868fb"/>
<rect x="1168.4" y="924.0" width="43.0" height="28.9" fill="#edeefe"/>
<rect x="786.7" y="952.3" width="43.0" height="28.9" fill="#f5939b"/>
<rect x="829.1" y="952.3" width="43.0" height="28.9" fill="#f5939b"/>
<rect x="871.5" y="952.3" width="43.0" height="28.9" fill="#f66a71"/>
<rect x="913.9" y="952.3" width="43.0" height="28.9" fill="#f7b8bf"/>
<rect x="956.3" y="952.3" width="43.0" height="28.9" fill="#f8f8ff"/>
<rect x="998.8" y="952.3" width="43.0" height="28.9" fill="#5250fc"/>
<rect x="1041.2" y="952.3" width="43.0" height="28.9" fill="#fad8dd"/>
<rect x="1083.6" y="952.3" width="43.0" height="28.9" fill="#b6b9fc"/>
<rect x="1126.0" y="952.3" width="43.0" height="28.9" fill="#b6b9fc"/>
<rect x="1168.4" y="952.3" width="43.0" height="28.9" fill="#7e80fb"/>
<rect x="786.7" y="980.6" width="43.0" height="28.9" fill="#f5939b"/>
<rect x="829.1" y="980.6" width="43.0" height="28.9" fill="#f5939b"/>
<rect x="871.5" y="980.6" width="43.0" height="28.9" fill="#f66a71"/>
<rect x="913.9" y="980.6" width="43.0" height="28.9" fill="#f57e86"/>
<rect x="956.3" y="980.6" width="43.0" height="28.9" fill="#edeefe"/>
<rect x="998.8" y="980.6" width="43.0" height="28.9" fill="#5250fc"/>
<rect x="1041.2" y="980.6" width="43.0" height="28.9" fill="#fefafb"/>
<rect x="1083.6" y="980.6" width="43.0" height="28.9" fill="#9598fb"/>
<rect x="1126.0" y="980.6" width="43.0" height="28.9" fill="#ffffff"/>
<rect x="1168.4" y="980.6" width="43.0" height="28.9" fill="#6868fb"/>
<rect x="786.7" y="1009.0" width="43.0" height="28.9" fill="#f7b8bf"/>
<rect x="829.1" y="1009.0" width="43.0" height="28.9" fill="#f5939b"/>
<rect x="871.5" y="1009.0" width="43.0" height="28.9" fill="#f66a71"/>
<rect x="913.9" y="1009.0" width="43.0" height="28.9" fill="#f66a71"/>
<rect x="956.3" y="1009.0" width="43.0" height="28.9" fill="#edeefe"/>
<rect x="998.8" y="1009.0" width="43.0" height="28.9" fill="#3c38fd"/>
<rect x="1041.2" y="1009.0" width="43.0" height="28.9" fill="#f8f8ff"/>
<rect x="1083.6" y="1009.0" width="43.0" height="28.9" fill="#9598fb"/>
<rect x="1126.0" y="1009.0" width="43.0" height="28.9" fill="#7e80fb"/>
<rect x="1168.4" y="1009.0" width="43.0" height="28.9" fill="#ffffff"/>
<rect x="786.7" y="1037.3" width="43.0" height="28.9" fill="#f5939b"/>
<rect x="829.1" y="1037.3" width="43.0" height="28.9" fill="#f8575c"/>
<rect x="871.5" y="1037.3" width="43.0" height="28.9" fill="#f7b8bf"/>
<rect x="913.9" y="1037.3" width="43.0" height="28.9" fill="#f57e86"/>
<rect x="956.3" y="1037.3" width="43.0" height="28.9" fill="#9598fb"/>
<rect x="998.8" y="1037.3" width="43.0" height="28.9" fill="#7e80fb"/>
<rect x="1041.2" y="1037.3" width="43.0" height="28.9" fill="#edeefe"/>
<rect x="1083.6" y="1037.3" width="43.0" height="28.9" fill="#7e80fb"/>
<rect x="1126.0" y="1037.3" width="43.0" height="28.9" fill="#fdf1f3"/>
<rect x="1168.4" y="1037.3" width="43.0" height="28.9" fill="#7e80fb"/>
<rect x="786.7" y="1065.6" width="43.0" height="28.9" fill="#f5939b"/>
<rect x="829.1" y="1065.6" width="43.0" height="28.9" fill="#b6b9fc"/>
<rect x="871.5" y="1065.6" width="43.0" height="28.9" fill="#f8575c"/>
<rect x="913.9" y="1065.6" width="43.0" height="28.9" fill="#f8575c"/>
<rect x="956.3" y="1065.6" width="43.0" height="28.9" fill="#b6b9fc"/>
<rect x="998.8" y="1065.6" width="43.0" height="28.9" fill="#7e80fb"/>
<rect x="1041.2" y="1065.6" width="43.0" height="28.9" fill="#edeefe"/>
<rect x="1083.6" y="1065.6" width="43.0" height="28.9" fill="#9598fb"/>
<rect x="1126.0" y="1065.6" width="43.0" height="28.9" fill="#ffffff"/>
<rect x="1168.4" y="1065.6" width="43.0" height="28.9" fill="#b6b9fc"/>
<rect x="786.7" y="1093.9" width="43.0" height="28.9" fill="#fad8dd"/>
<rect x="829.1" y="1093.9" width="43.0" height="28.9" fill="#edeefe"/>
<rect x="871.5" y="1093.9" width="43.0" height="28.9" fill="#ff2220"/>
<rect x="913.9" y="1093.9" width="43.0" height="28.9" fill="#ffffff"/>
<rect x="956.3" y="1093.9" width="43.0" height="28.9" fill="#fdf1f3"/>
<rect x="998.8" y="1093.9" width="43.0" height="28.9" fill="#f8f8ff"/>
<rect x="1041.2" y="1093.9" width="43.0" height="28.9" fill="#edeefe"/>
<rect x="1083.6" y="1093.9" width="43.0" height="28.9" fill="#3c38fd"/>
<rect x="1126.0" y="1093.9" width="43.0" height="28.9" fill="#d4d6fd"/>
<rect x="1168.4" y="1093.9" width="43.0" height="28.9" fill="#d4d6fd"/>
<rect x="786.7" y="1122.3" width="43.0" height="28.9" fill="#d4d6fd"/>
<rect x="829.1" y="1122.3" width="43.0" height="28.9" fill="#f7b8bf"/>
<rect x="871.5" y="1122.3" width="43.0" height="28.9" fill="#fa4548"/>
<rect x="913.9" y="1122.3" width="43.0" height="28.9" fill="#f66a71"/>
<rect x="956.3" y="1122.3" width="43.0" height="28.9" fill="#b6b9fc"/>
<rect x="998.8" y="1122.3" width="43.0" height="28.9" fill="#2720fe"/>
<rect x="1041.2" y="1122.3" width="43.0" height="28.9" fill="#fefafb"/>
<rect x="1083.6" y="1122.3" width="43.0" height="28.9" fill="#d4d6fd"/>
<rect x="1126.0" y="1122.3" width="43.0" height="28.9" fill="#d4d6fd"/>
<rect x="1168.4" y="1122.3" width="43.0" height="28.9" fill="#ffffff"/>
<rect x="786.7" y="1150.6" width="43.0" height="28.9" fill="#ffffff"/>
<rect x="829.1" y="1150.6" width="43.0" height="28.9" fill="#fefafb"/>
<rect x="871.5" y="1150.6" width="43.0" height="28.9" fill="#fc3334"/>
<rect x="913.9" y="1150.6" width="43.0" height="28.9" fill="#f57e86"/>
<rect x="956.3" y="1150.6" width="43.0" height="28.9" fill="#b6b9fc"/>
<rect x="998.8" y="1150.6" width="43.0" height="28.9" fill="#b6b9fc"/>
<rect x="1041.2" y="1150.6" width="43.0" height="28.9" fill="#b6b9fc"/>
<rect x="1083.6" y="1150.6" width="43.0" height="28.9" fill="#b6b9fc"/>
<rect x="1126.0" y="1150.6" width="43.0" height="28.9" fill="#7e80fb"/>
<rect x="1168.4" y="1150.6" width="43.0" height="28.9" fill="#fdf1f3"/>
<rect x="786.7" y="1178.9" width="43.0" height="28.9" fill="#d4d6fd"/>
<rect x="829.1" y="1178.9" width="43.0" height="28.9" fill="#edeefe"/>
<rect x="871.5" y="1178.9" width="43.0" height="28.9" fill="#f66a71"/>
<rect x="913.9" y="1178.9" width="43.0" height="28.9" fill="#f8575c"/>
<rect x="956.3" y="1178.9" width="43.0" height="28.9" fill="#fad8dd"/>
<rect x="998.8" y="1178.9" width="43.0" height="28.9" fill="#7e80fb"/>
<rect x="1041.2" y="1178.9" width="43.0" height="28.9" fill="#3c38fd"/>
<rect x="1083.6" y="1178.9" width="43.0" height="28.9" fill="#fdf1f3"/>
<rect x="1126.0" y="1178.9" width="43.0" height="28.9" fill="#d4d6fd"/>
<rect x="1168.4" y="1178.9" width="43.0" height="28.9" fill="#f7b8bf"/>
<rect x="786.7" y="1207.2" width="43.0" height="28.9" fill="#f8575c"/>
<rect x="829.1" y="1207.2" width="43.0" height="28.9" fill="#f8575c"/>
<rect x="871.5" y="1207.2" width="43.0" height="28.9" fill="#7e80fb"/>
<rect x="913.9" y="1207.2" width="43.0" height="28.9" fill="#f5939b"/>
<rect x="956.3" y="1207.2" width="43.0" height="28.9" fill="#d4d6fd"/>
<rect x="998.8" y="1207.2" width="43.0" height="28.9" fill="#9598fb"/>
<rect x="1041.2" y="1207.2" width="43.0" height="28.9" fill="#edeefe"/>
<rect x="1083.6" y="1207.2" width="43.0" height="28.9" fill="#d4d6fd"/>
<rect x="1126.0" y="1207.2" width="43.0" height="28.9" fill="#d4d6fd"/>
<rect x="1168.4" y="1207.2" width="43.0" height="28.9" fill="#d4d6fd"/>
<rect x="786.7" y="1235.6" width="43.0" height="28.9" fill="#fad8dd"/>
<rect x="829.1" y="1235.6" width="43.0" height="28.9" fill="#9598fb"/>
<rect x="871.5" y="1235.6" width="43.0" height="28.9" fill="#f8575c"/>
<rect x="913.9" y="1235.6" width="43.0" height="28.9" fill="#f57e86"/>
<rect x="956.3" y="1235.6" width="43.0" height="28.9" fill="#fad8dd"/>
<rect x="998.8" y="1235.6" width="43.0" height="28.9" fill="#ffffff"/>
<rect x="1041.2" y="1235.6" width="43.0" height="28.9" fill="#edeefe"/>
<rect x="1083.6" y="1235.6" width="43.0" height="28.9" fill="#1208ff"/>
<rect x="1126.0" y="1235.6" width="43.0" height="28.9" fill="#edeefe"/>
<rect x="1168.4" y="1235.6" width="43.0" height="28.9" fill="#fdf1f3"/>
<rect x="786.7" y="1263.9" width="43.0" height="28.9" fill="#fdf1f3"/>
<rect x="829.1" y="1263.9" width="43.0" height="28.9" fill="#d4d6fd"/>
<rect x="871.5" y="1263.9" width="43.0" height="28.9" fill="#fc3334"/>
<rect x="913.9" y="1263.9" width="43.0" height="28.9" fill="#f5939b"/>
<rect x="956.3" y="1263.9" width="43.0" height="28.9" fill="#d4d6fd"/>
<rect x="998.8" y="1263.9" width="43.0" height="28.9" fill="#d4d6fd"/>
<rect x="1041.2" y="1263.9" width="43.0" height="28.9" fill="#5250fc"/>
<rect x="1083.6" y="1263.9" width="43.0" height="28.9" fill="#fdf1f3"/>
<rect x="1126.0" y="1263.9" width="43.0" height="28.9" fill="#edeefe"/>
<rect x="1168.4" y="1263.9" width="43.0" height="28.9" fill="#edeefe"/>
<rect x="786.7" y="1292.2" width="43.0" height="28.9" fill="#f5939b"/>
<rect x="829.1" y="1292.2" width="43.0" height="28.9" fill="#fdf1f3"/>
<rect x="871.5" y="1292.2" width="43.0" height="28.9" fill="#f57e86"/>
<rect x="913.9" y="1292.2" width="43.0" height="28.9" fill="#f66a71"/>
<rect x="956.3" y="1292.2" width="43.0" height="28.9" fill="#7e80fb"/>
<rect x="998.8" y="1292.2" width="43.0" height="28.9" fill="#2720fe"/>
<rect x="1041.2" y="1292.2" width="43.0" height="28.9" fill="#b6b9fc"/>
<rect x="1083.6" y="1292.2" width="43.0" height="28.9" fill="#9598fb"/>
<rect x="1126.0" y="1292.2" width="43.0" height="28.9" fill="#fdf1f3"/>
<rect x="1168.4" y="1292.2" width="43.0" height="28.9" fill="#f7b8bf"/>
<rect x="786.7" y="1320.5" width="43.0" height="28.9" fill="#f7b8bf"/>
<rect x="829.1" y="1320.5" width="43.0" height="28.9" fill="#fad8dd"/>
<rect x="871.5" y="1320.5" width="43.0" height="28.9" fill="#f5939b"/>
<rect x="913.9" y="1320.5" width="43.0" height="28.9" fill="#f66a71"/>
<rect x="956.3" y="1320.5" width="43.0" height="28.9" fill="#5250fc"/>
<rect x="998.8" y="1320.5" width="43.0" height="28.9" fill="#7e80fb"/>
<rect x="1041.2" y="1320.5" width="43.0" height="28.9" fill="#ffffff"/>
<rect x="1083.6" y="1320.5" width="43.0" height="28.9" fill="#edeefe"/>
<rect x="1126.0" y="1320.5" width="43.0" height="28.9" fill="#5250fc"/>
<rect x="1168.4" y="1320.5" width="43.0" height="28.9" fill="#f7b8bf"/>
<rect x="786.7" y="1348.9" width="43.0" height="28.9" fill="#7e80fb"/>
<rect x="829.1" y="1348.9" width="43.0" height="28.9" fill="#fefafb"/>
<rect x="871.5" y="1348.9" width="43.0" height="28.9" fill="#ff2220"/>
<rect x="913.9" y="1348.9" width="43.0" height="28.9" fill="#f5939b"/>
<rect x="956.3" y="1348.9" width="43.0" height="28.9" fill="#edeefe"/>
<rect x="998.8" y="1348.9" width="43.0" height="28.9" fill="#fefafb"/>
<rect x="1041.2" y="1348.9" width="43.0" height="28.9" fill="#9598fb"/>
<rect x="1083.6" y="1348.9" width="43.0" height="28.9" fill="#d4d6fd"/>
<rect x="1126.0" y="1348.9" width="43.0" height="28.9" fill="#fefafb"/>
<rect x="1168.4" y="1348.9" width="43.0" height="28.9" fill="#9598fb"/>
<rect x="786.7" y="1377.2" width="43.0" height="28.9" fill="#f8f8ff"/>
<rect x="829.1" y="1377.2" width="43.0" height="28.9" fill="#ff2220"/>
<rect x="871.5" y="1377.2" width="43.0" height="28.9" fill="#f5939b"/>
<rect x="913.9" y="1377.2" width="43.0" height="28.9" fill="#b6b9fc"/>
<rect x="956.3" y="1377.2" width="43.0" height="28.9" fill="#b6b9fc"/>
<rect x="998.8" y="1377.2" width="43.0" height="28.9" fill="#b6b9fc"/>
<rect x="1041.2" y="1377.2" width="43.0" height="28.9" fill="#fefafb"/>
<rect x="1083.6" y="1377.2" width="43.0" height="28.9" fill="#b6b9fc"/>
<rect x="1126.0" y="1377.2" width="43.0" height="28.9" fill="#ffffff"/>
<rect x="1168.4" y="1377.2" width="43.0" height="28.9" fill="#d4d6fd"/>
<rect x="786.7" y="1405.5" width="43.0" height="28.9" fill="#d4d6fd"/>
<rect x="829.1" y="1405.5" width="43.0" height="28.9" fill="#fad8dd"/>
<rect x="871.5" y="1405.5" width="43.0" height="28.9" fill="#fa4548"/>
<rect x="913.9" y="1405.5" width="43.0" height="28.9" fill="#f57e86"/>
<rect x="956.3" y="1405.5" width="43.0" height="28.9" fill="#7e80fb"/>
<rect x="998.8" y="1405.5" width="43.0" height="28.9" fill="#5250fc"/>
<rect x="1041.2" y="1405.5" width="43.0" height="28.9" fill="#b6b9fc"/>
<rect x="1083.6" y="1405.5" width="43.0" height="28.9" fill="#f8f8ff"/>
<rect x="1126.0" y="1405.5" width="43.0" height="28.9" fill="#f7b8bf"/>
<rect x="1168.4" y="1405.5" width="43.0" height="28.9" fill="#ffffff"/>
<rect x="786.7" y="1433.9" width="43.0" height="28.9" fill="#edeefe"/>
<rect x="829.1" y="1433.9" width="43.0" height="28.9" fill="#edeefe"/>
<rect x="871.5" y="1433.9" width="43.0" height="28.9" fill="#ff2220"/>
<rect x="913.9" y="1433.9" width="43.0" height="28.9" fill="#edeefe"/>
<rect x="956.3" y="1433.9" width="43.0" height="28.9" fill="#edeefe"/>
<rect x="998.8" y="1433.9" width="43.0" height="28.9" fill="#9598fb"/>
<rect x="1041.2" y="1433.9" width="43.0" height="28.9" fill="#b6b9fc"/>
<rect x="1083.6" y="1433.9" width="43.0" height="28.9" fill="#f8f8ff"/>
<rect x="1126.0" y="1433.9" width="43.0" height="28.9" fill="#f7b8bf"/>
<rect x="1168.4" y="1433.9" width="43.0" height="28.9" fill="#b6b9fc"/>
<rect x="786.7" y="1462.2" width="43.0" height="28.9" fill="#edeefe"/>
<rect x="829.1" y="1462.2" width="43.0" height="28.9" fill="#f5939b"/>
<rect x="871.5" y="1462.2" width="43.0" height="28.9" fill="#f7b8bf"/>
<rect x="913.9" y="1462.2" width="43.0" height="28.9" fill="#fefafb"/>
<rect x="956.3" y="1462.2" width="43.0" height="28.9" fill="#ffffff"/>
<rect x="998.8" y="1462.2" width="43.0" height="28.9" fill="#6868fb"/>
<rect x="1041.2" y="1462.2" width="43.0" height="28.9" fill="#f66a71"/>
<rect x="1083.6" y="1462.2" width="43.0" height="28.9" fill="#fefafb"/>
<rect x="1126.0" y="1462.2" width="43.0" height="28.9" fill="#1208ff"/>
<rect x="1168.4" y="1462.2" width="43.0" height="28.9" fill="#f5939b"/>
<rect x="786.7" y="1490.5" width="43.0" height="28.9" fill="#fdf1f3"/>
<rect x="829.1" y="1490.5" width="43.0" height="28.9" fill="#f7b8bf"/>
<rect x="871.5" y="1490.5" width="43.0" height="28.9" fill="#f7b8bf"/>
<rect x="913.9" y="1490.5" width="43.0" height="28.9" fill="#3c38fd"/>
<rect x="956.3" y="1490.5" width="43.0" height="28.9" fill="#f7b8bf"/>
<rect x="998.8" y="1490.5" width="43.0" height="28.9" fill="#fad8dd"/>
<rect x="1041.2" y="1490.5" width="43.0" height="28.9" fill="#f5939b"/>
<rect x="1083.6" y="1490.5" width="43.0" height="28.9" fill="#f7b8bf"/>
<rect x="1126.0" y="1490.5" width="43.0" height="28.9" fill="#fefafb"/>
<rect x="1168.4" y="1490.5" width="43.0" height="28.9" fill="#1208ff"/>
<rect x="786.7" y="1518.8" width="43.0" height="28.9" fill="#6868fb"/>
<rect x="829.1" y="1518.8" width="43.0" height="28.9" fill="#f57e86"/>
<rect x="871.5" y="1518.8" width="43.0" height="28.9" fill="#f7b8bf"/>
<rect x="913.9" y="1518.8" width="43.0" height="28.9" fill="#edeefe"/>
<rect x="956.3" y="1518.8" width="43.0" height="28.9" fill="#fdf1f3"/>
<rect x="998.8" y="1518.8" width="43.0" height="28.9" fill="#d4d6fd"/>
<rect x="1041.2" y="1518.8" width="43.0" height="28.9" fill="#f5939b"/>
<rect x="1083.6" y="1518.8" width="43.0" height="28.9" fill="#d4d6fd"/>
<rect x="1126.0" y="1518.8" width="43.0" height="28.9" fill="#5250fc"/>
<rect x="1168.4" y="1518.8" width="43.0" height="28.9" fill="#f57e86"/>
<rect x="786.7" y="1547.2" width="43.0" height="28.9" fill="#5250fc"/>
<rect x="829.1" y="1547.2" width="43.0" height="28.9" fill="#fad8dd"/>
<rect x="871.5" y="1547.2" width="43.0" height="28.9" fill="#f8575c"/>
<rect x="913.9" y="1547.2" width="43.0" height="28.9" fill="#edeefe"/>
<rect x="956.3" y="1547.2" width="43.0" height="28.9" fill="#fefafb"/>
<rect x="998.8" y="1547.2" width="43.0" height="28.9" fill="#ffffff"/>
<rect x="1041.2" y="1547.2" width="43.0" height="28.9" fill="#ffffff"/>
<rect x="1083.6" y="1547.2" width="43.0" height="28.9" fill="#7e80fb"/>
<rect x="1126.0" y="1547.2" width="43.0" height="28.9" fill="#b6b9fc"/>
<rect x="1168.4" y="1547.2" width="43.0" height="28.9" fill="#f66a71"/>
<rect x="786.7" y="1575.5" width="43.0" height="28.9" fill="#fefafb"/>
<rect x="829.1" y="1575.5" width="43.0" height="28.9" fill="#ffffff"/>
<rect x="871.5" y="1575.5" width="43.0" height="28.9" fill="#f66a71"/>
<rect x="913.9" y="1575.5" width="43.0" height="28.9" fill="#edeefe"/>
<rect x="956.3" y="1575.5" width="43.0" height="28.9" fill="#7e80fb"/>
<rect x="998.8" y="1575.5" width="43.0" height="28.9" fill="#d4d6fd"/>
<rect x="1041.2" y="1575.5" width="43.0" height="28.9" fill="#fc3334"/>
<rect x="1083.6" y="1575.5" width="43.0" height="28.9" fill="#9598fb"/>
<rect x="1126.0" y="1575.5" width="43.0" height="28.9" fill="#d4d6fd"/>
<rect x="1168.4" y="1575.5" width="43.0" height="28.9" fill="#d4d6fd"/>
<rect x="786.7" y="1603.8" width="43.0" height="28.9" fill="#6868fb"/>
<rect x="829.1" y="1603.8" width="43.0" height="28.9" fill="#f57e86"/>
<rect x="871.5" y="1603.8" width="43.0" height="28.9" fill="#f7b8bf"/>
<rect x="913.9" y="1603.8" width="43.0" height="28.9" fill="#7e80fb"/>
<rect x="956.3" y="1603.8" width="43.0" height="28.9" fill="#fefafb"/>
<rect x="998.8" y="1603.8" width="43.0" height="28.9" fill="#f7b8bf"/>
<rect x="1041.2" y="1603.8" width="43.0" height="28.9" fill="#fdf1f3"/>
<rect x="1083.6" y="1603.8" width="43.0" height="28.9" fill="#fdf1f3"/>
<rect x="1126.0" y="1603.8" width="43.0" height="28.9" fill="#2720fe"/>
<rect x="1168.4" y="1603.8" width="43.0" height="28.9" fill="#f66a71"/>
<rect x="786.7" y="1632.1" width="43.0" height="28.9" fill="#1208ff"/>
<rect x="829.1" y="1632.1" width="43.0" height="28.9" fill="#f5939b"/>
<rect x="871.5" y="1632.1" width="43.0" height="28.9" fill="#f7b8bf"/>
<rect x="913.9" y="1632.1" width="43.0" height="28.9" fill="#b6b9fc"/>
<rect x="956.3" y="1632.1" width="43.0" height="28.9" fill="#f8f8ff"/>
<rect x="998.8" y="1632.1" width="43.0" height="28.9" fill="#d4d6fd"/>
<rect x="1041.2" y="1632.1" width="43.0" height="28.9" fill="#fdf1f3"/>
<rect x="1083.6" y="1632.1" width="43.0" height="28.9" fill="#fdf1f3"/>
<rect x="1126.0" y="1632.1" width="43.0" height="28.9" fill="#ffffff"/>
<rect x="1168.4" y="1632.1" width="43.0" height="28.9" fill="#f8575c"/>
<rect x="786.7" y="1660.5" width="43.0" height="28.9" fill="#1208ff"/>
<rect x="829.1" y="1660.5" width="43.0" height="28.9" fill="#f5939b"/>
<rect x="871.5" y="1660.5" width="43.0" height="28.9" fill="#f7b8bf"/>
<rect x="913.9" y="1660.5" width="43.0" height="28.9" fill="#b6b9fc"/>
<rect x="956.3" y="1660.5" width="43.0" height="28.9" fill="#f8f8ff"/>
<rect x="998.8" y="1660.5" width="43.0" height="28.9" fill="#d4d6fd"/>
<rect x="1041.2" y="1660.5" width="43.0" height="28.9" fill="#fdf1f3"/>
<rect x="1083.6" y="1660.5" width="43.0" height="28.9" fill="#fdf1f3"/>
<rect x="1126.0" y="1660.5" width="43.0" height="28.9" fill="#ffffff"/>
<rect x="1168.4" y="1660.5" width="43.0" height="28.9" fill="#f8575c"/>
<rect x="786.7" y="1688.8" width="43.0" height="28.9" fill="#7e80fb"/>
<rect x="829.1" y="1688.8" width="43.0" height="28.9" fill="#f57e86"/>
<rect x="871.5" y="1688.8" width="43.0" height="28.9" fill="#fce6e9"/>
<rect x="913.9" y="1688.8" width="43.0" height="28.9" fill="#7e80fb"/>
<rect x="956.3" y="1688.8" width="43.0" height="28.9" fill="#b6b9fc"/>
<rect x="998.8" y="1688.8" width="43.0" height="28.9" fill="#9598fb"/>
<rect x="1041.2" y="1688.8" width="43.0" height="28.9" fill="#f57e86"/>
<rect x="1083.6" y="1688.8" width="43.0" height="28.9" fill="#f5939b"/>
<rect x="1126.0" y="1688.8" width="43.0" height="28.9" fill="#9598fb"/>
<rect x="1168.4" y="1688.8" width="43.0" height="28.9" fill="#f66a71"/>
<rect x="786.7" y="1717.1" width="43.0" height="28.9" fill="#1208ff"/>
<rect x="829.1" y="1717.1" width="43.0" height="28.9" fill="#d4d6fd"/>
<rect x="871.5" y="1717.1" width="43.0" height="28.9" fill="#f66a71"/>
<rect x="913.9" y="1717.1" width="43.0" height="28.9" fill="#fefafb"/>
<rect x="956.3" y="1717.1" width="43.0" height="28.9" fill="#edeefe"/>
<rect x="998.8" y="1717.1" width="43.0" height="28.9" fill="#f66a71"/>
<rect x="1041.2" y="1717.1" width="43.0" height="28.9" fill="#ffffff"/>
<rect x="1083.6" y="1717.1" width="43.0" height="28.9" fill="#ffffff"/>
<rect x="1126.0" y="1717.1" width="43.0" height="28.9" fill="#edeefe"/>
<rect x="1168.4" y="1717.1" width="43.0" height="28.9" fill="#f7b8bf"/>
<rect x="786.7" y="1745.4" width="43.0" height="28.9" fill="#f7b8bf"/>
<rect x="829.1" y="1745.4" width="43.0" height="28.9" fill="#d4d6fd"/>
<rect x="871.5" y="1745.4" width="43.0" height="28.9" fill="#9598fb"/>
<rect x="913.9" y="1745.4" width="43.0" height="28.9" fill="#f57e86"/>
<rect x="956.3" y="1745.4" width="43.0" height="28.9" fill="#1208ff"/>
<rect x="998.8" y="1745.4" width="43.0" height="28.9" fill="#f5939b"/>
<rect x="1041.2" y="1745.4" width="43.0" height="28.9" fill="#f7b8bf"/>
<rect x="1083.6" y="1745.4" width="43.0" height="28.9" fill="#fefafb"/>
<rect x="1126.0" y="1745.4" width="43.0" height="28.9" fill="#7e80fb"/>
<rect x="1168.4" y="1745.4" width="43.0" height="28.9" fill="#f66a71"/>
<rect x="786.7" y="1773.8" width="43.0" height="28.9" fill="#b6b9fc"/>
<rect x="829.1" y="1773.8" width="43.0" height="28.9" fill="#edeefe"/>
<rect x="871.5" y="1773.8" width="43.0" height="28.9" fill="#fad8dd"/>
<rect x="913.9" y="1773.8" width="43.0" height="28.9" fill="#6868fb"/>
<rect x="956.3" y="1773.8" width="43.0" height="28.9" fill="#fefafb"/>
<rect x="998.8" y="1773.8" width="43.0" height="28.9" fill="#f5939b"/>
<rect x="1041.2" y="1773.8" width="43.0" height="28.9" fill="#f7b8bf"/>
<rect x="1083.6" y="1773.8" width="43.0" height="28.9" fill="#5250fc"/>
<rect x="1126.0" y="1773.8" width="43.0" height="28.9" fill="#fefafb"/>
<rect x="1168.4" y="1773.8" width="43.0" height="28.9" fill="#fa4548"/>
<rect x="786.7" y="1802.1" width="43.0" height="28.9" fill="#7e80fb"/>
<rect x="829.1" y="1802.1" width="43.0" height="28.9" fill="#7e80fb"/>
<rect x="871.5" y="1802.1" width="43.0" height="28.9" fill="#edeefe"/>
<rect x="913.9" y="1802.1" width="43.0" height="28.9" fill="#edeefe"/>
<rect x="956.3" y="1802.1" width="43.0" height="28.9" fill="#f7b8bf"/>
<rect x="998.8" y="1802.1" width="43.0" height="28.9" fill="#f57e86"/>
<rect x="1041.2" y="1802.1" width="43.0" height="28.9" fill="#5250fc"/>
<rect x="1083.6" y="1802.1" width="43.0" height="28.9" fill="#f5939b"/>
<rect x="1126.0" y="1802.1" width="43.0" height="28.9" fill="#f5939b"/>
<rect x="1168.4" y="1802.1" width="43.0" height="28.9" fill="#f57e86"/>
<rect x="786.7" y="1830.4" width="43.0" height="28.9" fill="#fefafb"/>
<rect x="829.1" y="1830.4" width="43.0" height="28.9" fill="#6868fb"/>
<rect x="871.5" y="1830.4" width="43.0" height="28.9" fill="#fad8dd"/>
<rect x="913.9" y="1830.4" width="43.0" height="28.9" fill="#ffffff"/>
<rect x="956.3" y="1830.4" width="43.0" height="28.9" fill="#6868fb"/>
<rect x="998.8" y="1830.4" width="43.0" height="28.9" fill="#f57e86"/>
<rect x="1041.2" y="1830.4" width="43.0" height="28.9" fill="#9598fb"/>
<rect x="1083.6" y="1830.4" width="43.0" height="28.9" fill="#ffffff"/>
<rect x="1126.0" y="1830.4" width="43.0" height="28.9" fill="#f7b8bf"/>
<rect x="1168.4" y="1830.4" width="43.0" height="28.9" fill="#fa4548"/>
<rect x="786.7" y="1858.7" width="43.0" height="28.9" fill="#7e80fb"/>
<rect x="829.1" y="1858.7" width="43.0" height="28.9" fill="#d4d6fd"/>
<rect x="871.5" y="1858.7" width="43.0" height="28.9" fill="#f5939b"/>
<rect x="913.9" y="1858.7" width="43.0" height="28.9" fill="#2720fe"/>
<rect x="956.3" y="1858.7" width="43.0" height="28.9" fill="#f8f8ff"/>
<rect x="998.8" y="1858.7" width="43.0" height="28.9" fill="#fc3334"/>
<rect x="1041.2" y="1858.7" width="43.0" height="28.9" fill="#ffffff"/>
<rect x="1083.6" y="1858.7" width="43.0" height="28.9" fill="#fdf1f3"/>
<rect x="1126.0" y="1858.7" width="43.0" height="28.9" fill="#fad8dd"/>
<rect x="1168.4" y="1858.7" width="43.0" height="28.9" fill="#fdf1f3"/>
<rect x="786.7" y="1887.1" width="43.0" height="28.9" fill="#1208ff"/>
<rect x="829.1" y="1887.1" width="43.0" height="28.9" fill="#b6b9fc"/>
<rect x="871.5" y="1887.1" width="43.0" height="28.9" fill="#fefafb"/>
<rect x="913.9" y="1887.1" width="43.0" height="28.9" fill="#6868fb"/>
<rect x="956.3" y="1887.1" width="43.0" height="28.9" fill="#fdf1f3"/>
<rect x="998.8" y="1887.1" width="43.0" height="28.9" fill="#f57e86"/>
<rect x="1041.2" y="1887.1" width="43.0" height="28.9" fill="#f5939b"/>
<rect x="1083.6" y="1887.1" width="43.0" height="28.9" fill="#fad8dd"/>
<rect x="1126.0" y="1887.1" width="43.0" height="28.9" fill="#f7b8bf"/>
<rect x="1168.4" y="1887.1" width="43.0" height="28.9" fill="#fad8dd"/>
</g>
<text x="1219.3" y="860.2" font-size="22.7" fill="#262626">Cer(d18:0_23:0)_1</text>
<text x="1219.3" y="888.6" font-size="22.7" fill="#262626">Cer(d18:0_24:1)_1</text>
<text x="1219.3" y="917.0" font-size="22.7" fill="#262626">Cer(d18:1_23:0)_2</text>
<text x="1219.3" y="945.4" font-size="22.7" fill="#262626">Cer(d18:1_22:1)_1</text>
<text x="1219.3" y="973.8" font-size="22.7" fill="#262626">Cer(d18:0_22:0)_1</text>
<text x="1219.3" y="1002.2" font-size="22.7" fill="#262626">Cer(d18:0_24:0)_1</text>
<text x="1219.3" y="1030.6" font-size="22.7" fill="#262626">Cer(d18:1_24:1)_2</text>
<text x="1219.3" y="1059.0" font-size="22.7" fill="#262626">Cer(d18:1_24:1)_1</text>
<text x="1219.3" y="1087.4" font-size="22.7" fill="#262626">Cer(d19:1_24:1)_1</text>
<text x="1219.3" y="1115.8" font-size="22.7" fill="#262626">Cer(d17:0_23:0)+O:(s)_1</text>
<text x="1219.3" y="1144.2" font-size="22.7" fill="#262626">Cer(d18:1_24:0)_2</text>
<text x="1219.3" y="1172.6" font-size="22.7" fill="#262626">Cer(d18:1_23:1)_1</text>
<text x="1219.3" y="1201.0" font-size="22.7" fill="#262626">Cer(d18:0_24:1)+O:(s)_1</text>
<text x="1219.3" y="1229.4" font-size="22.7" fill="#262626">Cer(d18:0_22:1)_1</text>
<text x="1219.3" y="1257.8" font-size="22.7" fill="#262626">Cer(d18:2_24:1)_2</text>
<text x="1219.3" y="1286.2" font-size="22.7" fill="#262626">Cer(d18:2_24:1)_4</text>
<text x="1219.3" y="1314.6" font-size="22.7" fill="#262626">Cer(d18:1_16:0)_1</text>
<text x="1219.3" y="1343.0" font-size="22.7" fill="#262626">Cer(d18:1_18:0)_1</text>
<text x="1219.3" y="1371.4" font-size="22.7" fill="#262626">Cer(d18:2_23:0)_1</text>
<text x="1219.3" y="1399.8" font-size="22.7" fill="#262626">Cer(d18:0_22:1)_2</text>
<text x="1219.3" y="1428.2" font-size="22.7" fill="#262626">Cer(d18:1_23:1)_2</text>
<text x="1219.3" y="1456.6" font-size="22.7" fill="#262626">Cer(d18:1_24:0)_1</text>
<text x="1219.3" y="1485.0" font-size="22.7" fill="#262626">Cer(d18:1_20:0)_1</text>
<text x="1219.3" y="1513.4" font-size="22.7" fill="#262626">Cer(d18:1_22:1)_3</text>
<text x="1219.3" y="1541.8" font-size="22.7" fill="#262626">Cer(d18:1_22:0)_1</text>
<text x="1219.3" y="1570.2" font-size="22.7" fill="#262626">Cer(d18:2_24:1)_1</text>
<text x="1219.3" y="1598.6" font-size="22.7" fill="#262626">Cer(d18:2_24:0)_1</text>
<text x="1219.3" y="1627.0" font-size="22.7" fill="#262626">Cer(d18:2_22:1)_1</text>
<text x="1219.3" y="1655.4" font-size="22.7" fill="#262626">Cer(d18:1_24:1)_3</text>
<text x="1219.3" y="1683.8" font-size="22.7" fill="#262626">Cer(d18:1_24:1)_4</text>
<text x="1219.3" y="1712.2" font-size="22.7" fill="#262626">Cer(d18:1_20:1)_1</text>
<text x="1219.3" y="1740.6" font-size="22.7" fill="#262626">Cer(d18:1_21:0)_2</text>
<text x="1219.3" y="1769.0" font-size="22.7" fill="#262626">Cer(d18:2_24:1)_3</text>
<text x="1219.3" y="1797.4" font-size="22.7" fill="#262626">Cer(d18:1_22:1)_2</text>
<text x="1219.3" y="1825.8" font-size="22.7" fill="#262626">Cer(d18:1_21:0)_1</text>
<text x="1219.3" y="1854.2" font-size="22.7" fill="#262626">Cer(d18:2_22:0)_1</text>
<text x="1219.3" y="1882.6" font-size="22.7" fill="#262626">Cer(d18:1_23:0)_1</text>
<text x="1219.3" y="1911.0" font-size="22.7" fill="#262626">Cer(d18:2_22:0)_2</text>
<defs><linearGradient id="ge" x1="0" y1="0" x2="1" y2="0"><stop offset="0" stop-color="#1c00ff"/><stop offset="0.05" stop-color="#1c00ff"/><stop offset="0.28" stop-color="#8a86ff"/><stop offset="0.505" stop-color="#ffffff"/><stop offset="0.74" stop-color="#fb8f92"/><stop offset="0.96" stop-color="#ff221c"/><stop offset="1" stop-color="#ff221c"/></linearGradient></defs>
<rect x="789.8" y="1933.0" width="386.2" height="36.7" fill="url(#ge)"/>
<text x="746.7" y="1961.0" font-size="34.5">-2</text>
<text x="1190.0" y="1961.0" font-size="34.5">2</text>
<text x="823.7" y="2005.0" font-size="34.5" textLength="308.0" lengthAdjust="spacingAndGlyphs" style="white-space:pre">Relative  abundance</text>
<text x="1483.0" y="748.8" font-size="60" font-weight="bold" fill="#000">f</text>
<text x="1482.0" y="812.5" font-size="34.5" textLength="173.5" lengthAdjust="spacingAndGlyphs">AAV8-GFP</text>
<line x1="1501.0" y1="822.7" x2="1657.5" y2="822.7" stroke="#000" stroke-width="2.2"/>
<text x="1679.0" y="812.5" font-size="34.5" textLength="191.0" lengthAdjust="spacingAndGlyphs">AAV8-AGXT</text>
<line x1="1677.0" y1="822.7" x2="1833.0" y2="822.7" stroke="#000" stroke-width="2.2"/>
<g shape-rendering="crispEdges">
<rect x="1489.0" y="834.3" width="36.1" height="35.0" fill="#f6a6ae"/>
<rect x="1524.5" y="834.3" width="36.1" height="35.0" fill="#e1e3fd"/>
<rect x="1559.9" y="834.3" width="36.1" height="35.0" fill="#f58890"/>
<rect x="1595.4" y="834.3" width="36.1" height="35.0" fill="#fc3334"/>
<rect x="1630.9" y="834.3" width="36.1" height="35.0" fill="#fce6e9"/>
<rect x="1666.3" y="834.3" width="36.1" height="35.0" fill="#2720fe"/>
<rect x="1701.8" y="834.3" width="36.1" height="35.0" fill="#9598fb"/>
<rect x="1737.3" y="834.3" width="36.1" height="35.0" fill="#898cfb"/>
<rect x="1772.8" y="834.3" width="36.1" height="35.0" fill="#f66a71"/>
<rect x="1808.2" y="834.3" width="36.1" height="35.0" fill="#c5c8fc"/>
<rect x="1489.0" y="868.7" width="36.1" height="35.0" fill="#fa4548"/>
<rect x="1524.5" y="868.7" width="36.1" height="35.0" fill="#f7b8bf"/>
<rect x="1559.9" y="868.7" width="36.1" height="35.0" fill="#f7b8bf"/>
<rect x="1595.4" y="868.7" width="36.1" height="35.0" fill="#f5939b"/>
<rect x="1630.9" y="868.7" width="36.1" height="35.0" fill="#f7b8bf"/>
<rect x="1666.3" y="868.7" width="36.1" height="35.0" fill="#b6b9fc"/>
<rect x="1701.8" y="868.7" width="36.1" height="35.0" fill="#fad8dd"/>
<rect x="1737.3" y="868.7" width="36.1" height="35.0" fill="#edeefe"/>
<rect x="1772.8" y="868.7" width="36.1" height="35.0" fill="#6868fb"/>
<rect x="1808.2" y="868.7" width="36.1" height="35.0" fill="#1208ff"/>
<rect x="1489.0" y="903.2" width="36.1" height="35.0" fill="#f57e86"/>
<rect x="1524.5" y="903.2" width="36.1" height="35.0" fill="#fefafb"/>
<rect x="1559.9" y="903.2" width="36.1" height="35.0" fill="#fa4548"/>
<rect x="1595.4" y="903.2" width="36.1" height="35.0" fill="#fa4548"/>
<rect x="1630.9" y="903.2" width="36.1" height="35.0" fill="#f8f8ff"/>
<rect x="1666.3" y="903.2" width="36.1" height="35.0" fill="#b6b9fc"/>
<rect x="1701.8" y="903.2" width="36.1" height="35.0" fill="#9598fb"/>
<rect x="1737.3" y="903.2" width="36.1" height="35.0" fill="#7e80fb"/>
<rect x="1772.8" y="903.2" width="36.1" height="35.0" fill="#fad8dd"/>
<rect x="1808.2" y="903.2" width="36.1" height="35.0" fill="#5250fc"/>
<rect x="1489.0" y="937.6" width="36.1" height="35.0" fill="#f8f8ff"/>
<rect x="1524.5" y="937.6" width="36.1" height="35.0" fill="#b6b9fc"/>
<rect x="1559.9" y="937.6" width="36.1" height="35.0" fill="#ff2220"/>
<rect x="1595.4" y="937.6" width="36.1" height="35.0" fill="#f8575c"/>
<rect x="1630.9" y="937.6" width="36.1" height="35.0" fill="#fad8dd"/>
<rect x="1666.3" y="937.6" width="36.1" height="35.0" fill="#7e80fb"/>
<rect x="1701.8" y="937.6" width="36.1" height="35.0" fill="#d4d6fd"/>
<rect x="1737.3" y="937.6" width="36.1" height="35.0" fill="#6868fb"/>
<rect x="1772.8" y="937.6" width="36.1" height="35.0" fill="#f7b8bf"/>
<rect x="1808.2" y="937.6" width="36.1" height="35.0" fill="#9598fb"/>
<rect x="1489.0" y="972.1" width="36.1" height="35.0" fill="#fdf1f3"/>
<rect x="1524.5" y="972.1" width="36.1" height="35.0" fill="#d4d6fd"/>
<rect x="1559.9" y="972.1" width="36.1" height="35.0" fill="#f8575c"/>
<rect x="1595.4" y="972.1" width="36.1" height="35.0" fill="#ff2220"/>
<rect x="1630.9" y="972.1" width="36.1" height="35.0" fill="#fad8dd"/>
<rect x="1666.3" y="972.1" width="36.1" height="35.0" fill="#5250fc"/>
<rect x="1701.8" y="972.1" width="36.1" height="35.0" fill="#d4d6fd"/>
<rect x="1737.3" y="972.1" width="36.1" height="35.0" fill="#7e80fb"/>
<rect x="1772.8" y="972.1" width="36.1" height="35.0" fill="#fefafb"/>
<rect x="1808.2" y="972.1" width="36.1" height="35.0" fill="#d4d6fd"/>
</g>
<text x="1850.7" y="861.8" font-size="28" fill="#262626">Hex1Cer(d18:1_16:0)_1</text>
<text x="1850.7" y="897.2" font-size="28" fill="#262626">Hex1Cer(d18:1_22:0)_1</text>
<text x="1850.7" y="932.7" font-size="28" fill="#262626">Hex1Cer(d18:1_23:0)_1</text>
<text x="1850.7" y="968.1" font-size="28" fill="#262626">Hex1Cer(d18:1_24:0)_1</text>
<text x="1850.7" y="1003.6" font-size="28" fill="#262626">Hex1Cer(d18:1_24:1)_1</text>
<defs><linearGradient id="gf" x1="0" y1="0" x2="1" y2="0"><stop offset="0" stop-color="#1c00ff"/><stop offset="0.05" stop-color="#1c00ff"/><stop offset="0.28" stop-color="#8a86ff"/><stop offset="0.505" stop-color="#ffffff"/><stop offset="0.74" stop-color="#fb8f92"/><stop offset="0.96" stop-color="#ff221c"/><stop offset="1" stop-color="#ff221c"/></linearGradient></defs>
<rect x="1535.0" y="1019.0" width="276.0" height="36.0" fill="url(#gf)"/>
<text x="1496.0" y="1051.0" font-size="34.5">-2</text>
<text x="1827.0" y="1051.0" font-size="34.5">2</text>
<text x="1515.8" y="1091.0" font-size="34.5" textLength="307.4" lengthAdjust="spacingAndGlyphs" style="white-space:pre">Relative  abundance</text>
<text x="1485.0" y="1408.0" font-size="60" font-weight="bold" fill="#000">g</text>
<rect x="1700.5" y="1590.0" width="97.0" height="247.3" fill="#ff2010" stroke="#000" stroke-width="2.5"/>
<rect x="1850.3" y="1704.5" width="98.7" height="132.8" fill="#2000ff" stroke="#000" stroke-width="2.5"/>
<line x1="1648.5" y1="1461.0" x2="1648.5" y2="1838.5" stroke="#000" stroke-width="2.5"/>
<line x1="1638.0" y1="1837.3" x2="2002.8" y2="1837.3" stroke="#000" stroke-width="2.5"/>
<line x1="1638.0" y1="1462.0" x2="1648.5" y2="1462.0" stroke="#000" stroke-width="2.5"/>
<text x="1630.0" y="1474.3" font-size="34.5" text-anchor="end">1.5</text>
<line x1="1638.0" y1="1587.8" x2="1648.5" y2="1587.8" stroke="#000" stroke-width="2.5"/>
<text x="1630.0" y="1600.1" font-size="34.5" text-anchor="end">1.0</text>
<line x1="1638.0" y1="1712.8" x2="1648.5" y2="1712.8" stroke="#000" stroke-width="2.5"/>
<text x="1630.0" y="1725.1" font-size="34.5" text-anchor="end">0.5</text>
<line x1="1638.0" y1="1837.3" x2="1648.5" y2="1837.3" stroke="#000" stroke-width="2.5"/>
<text x="1630.0" y="1849.6" font-size="34.5" text-anchor="end">0.0</text>
<line x1="1750.0" y1="1837.3" x2="1750.0" y2="1848.0" stroke="#000" stroke-width="2.5"/>
<line x1="1899.0" y1="1837.3" x2="1899.0" y2="1848.0" stroke="#000" stroke-width="2.5"/>
<line x1="1750.0" y1="1562.0" x2="1750.0" y2="1613.0" stroke="#000" stroke-width="2.5"/>
<line x1="1738.0" y1="1562.0" x2="1762.0" y2="1562.0" stroke="#000" stroke-width="2.5"/>
<line x1="1738.0" y1="1613.0" x2="1762.0" y2="1613.0" stroke="#000" stroke-width="2.5"/>
<line x1="1900.0" y1="1692.6" x2="1900.0" y2="1714.8" stroke="#000" stroke-width="2.5"/>
<line x1="1888.0" y1="1692.6" x2="1912.0" y2="1692.6" stroke="#000" stroke-width="2.5"/>
<line x1="1888.0" y1="1714.8" x2="1912.0" y2="1714.8" stroke="#000" stroke-width="2.5"/>
<circle cx="1734.4" cy="1495.4" r="6.9" fill="#fff" stroke="#000" stroke-width="2.6"/>
<circle cx="1765.2" cy="1501.1" r="6.9" fill="#fff" stroke="#000" stroke-width="2.6"/>
<circle cx="1734.4" cy="1515.5" r="6.9" fill="#fff" stroke="#000" stroke-width="2.6"/>
<circle cx="1734.4" cy="1614.6" r="6.9" fill="#fff" stroke="#000" stroke-width="2.6"/>
<circle cx="1764.4" cy="1622.8" r="6.9" fill="#fff" stroke="#000" stroke-width="2.6"/>
<circle cx="1734.4" cy="1631.0" r="6.9" fill="#fff" stroke="#000" stroke-width="2.6"/>
<circle cx="1749.6" cy="1650.3" r="6.9" fill="#fff" stroke="#000" stroke-width="2.6"/>
<circle cx="1749.6" cy="1679.5" r="6.9" fill="#fff" stroke="#000" stroke-width="2.6"/>
<circle cx="1857.7" cy="1682.0" r="6.9" fill="#fff" stroke="#000" stroke-width="2.6"/>
<circle cx="1943.2" cy="1680.3" r="6.9" fill="#fff" stroke="#000" stroke-width="2.6"/>
<circle cx="1913.6" cy="1688.1" r="6.9" fill="#fff" stroke="#000" stroke-width="2.6"/>
<circle cx="1885.7" cy="1694.3" r="6.9" fill="#fff" stroke="#000" stroke-width="2.6"/>
<circle cx="1900.1" cy="1727.6" r="6.9" fill="#fff" stroke="#000" stroke-width="2.6"/>
<circle cx="1900.1" cy="1746.9" r="6.9" fill="#fff" stroke="#000" stroke-width="2.6"/>
<text x="1753.0" y="1437.4" font-size="34.5" textLength="143.0" lengthAdjust="spacingAndGlyphs">p=0.0035</text>
<polyline fill="none" stroke="#000" stroke-width="2.5" points="1750.0,1479.7 1750.0,1456.3 1905.0,1456.3 1905.0,1666.8"/>
<text x="1598.0" y="1888.7" font-size="34.5" textLength="183.0" lengthAdjust="spacingAndGlyphs">AAV8: GFP</text>
<text x="1860.0" y="1888.7" font-size="34.5" textLength="89.0" lengthAdjust="spacingAndGlyphs">AGXT</text>
<text x="1556.0" y="1646.5" font-size="34.5" text-anchor="middle" textLength="233.0" lengthAdjust="spacingAndGlyphs" transform="rotate(-90 1556.0 1646.5)" style="white-space:pre">Fold liver  MDA</text>
<text x="7.0" y="2153.5" font-size="60" font-weight="bold" fill="#000">h</text>
<rect x="241.6" y="2099.0" width="41.0" height="41.0" fill="#ff2010" stroke="#000" stroke-width="2.2"/>
<text x="291.5" y="2130.0" font-size="34.5" textLength="173.5" lengthAdjust="spacingAndGlyphs">AAV8-GFP</text>
<rect x="490.0" y="2099.0" width="42.0" height="41.0" fill="#2000ff" stroke="#000" stroke-width="2.2"/>
<text x="539.0" y="2130.0" font-size="34.5" textLength="192.0" lengthAdjust="spacingAndGlyphs">AAV8-AGXT</text>
<rect x="241.6" y="2466.8" width="75.7" height="184.2" fill="#ff2010" stroke="#000" stroke-width="2.5"/>
<rect x="358.0" y="2424.0" width="76.8" height="227.0" fill="#2000ff" stroke="#000" stroke-width="2.5"/>
<rect x="553.0" y="2466.8" width="76.0" height="184.2" fill="#ff2010" stroke="#000" stroke-width="2.5"/>
<rect x="669.0" y="2420.5" width="76.4" height="230.5" fill="#2000ff" stroke="#000" stroke-width="2.5"/>
<rect x="863.8" y="2466.3" width="76.5" height="184.7" fill="#ff2010" stroke="#000" stroke-width="2.5"/>
<rect x="980.4" y="2401.8" width="75.6" height="249.2" fill="#2000ff" stroke="#000" stroke-width="2.5"/>
<rect x="1174.9" y="2466.3" width="76.1" height="184.7" fill="#ff2010" stroke="#000" stroke-width="2.5"/>
<rect x="1291.0" y="2426.3" width="75.7" height="224.7" fill="#2000ff" stroke="#000" stroke-width="2.5"/>
<line x1="201.7" y1="2190.0" x2="201.7" y2="2652.2" stroke="#000" stroke-width="2.5"/>
<line x1="181.6" y1="2651.0" x2="1408.5" y2="2651.0" stroke="#000" stroke-width="2.5"/>
<line x1="181.6" y1="2191.3" x2="201.7" y2="2191.3" stroke="#000" stroke-width="2.5"/>
<text x="169.0" y="2195.6" font-size="34.5" text-anchor="end">2.5</text>
<line x1="181.6" y1="2282.5" x2="201.7" y2="2282.5" stroke="#000" stroke-width="2.5"/>
<text x="169.0" y="2286.8" font-size="34.5" text-anchor="end">2.0</text>
<line x1="181.6" y1="2375.0" x2="201.7" y2="2375.0" stroke="#000" stroke-width="2.5"/>
<text x="169.0" y="2379.3" font-size="34.5" text-anchor="end">1.5</text>
<line x1="181.6" y1="2466.8" x2="201.7" y2="2466.8" stroke="#000" stroke-width="2.5"/>
<text x="169.0" y="2471.1" font-size="34.5" text-anchor="end">1.0</text>
<line x1="181.6" y1="2559.0" x2="201.7" y2="2559.0" stroke="#000" stroke-width="2.5"/>
<text x="169.0" y="2563.3" font-size="34.5" text-anchor="end">0.5</text>
<line x1="181.6" y1="2651.0" x2="201.7" y2="2651.0" stroke="#000" stroke-width="2.5"/>
<text x="169.0" y="2655.3" font-size="34.5" text-anchor="end">0</text>
<line x1="337.0" y1="2651.0" x2="337.0" y2="2667.0" stroke="#000" stroke-width="2.5"/>
<line x1="647.5" y1="2651.0" x2="647.5" y2="2667.0" stroke="#000" stroke-width="2.5"/>
<line x1="958.0" y1="2651.0" x2="958.0" y2="2667.0" stroke="#000" stroke-width="2.5"/>
<line x1="1271.9" y1="2651.0" x2="1271.9" y2="2667.0" stroke="#000" stroke-width="2.5"/>
<line x1="279.0" y1="2433.8" x2="279.0" y2="2499.7" stroke="#000" stroke-width="2.5"/>
<line x1="260.0" y1="2433.8" x2="298.0" y2="2433.8" stroke="#000" stroke-width="2.5"/>
<line x1="260.0" y1="2499.7" x2="298.0" y2="2499.7" stroke="#000" stroke-width="2.5"/>
<line x1="396.0" y1="2387.0" x2="396.0" y2="2458.0" stroke="#000" stroke-width="2.5"/>
<line x1="377.0" y1="2387.0" x2="415.0" y2="2387.0" stroke="#000" stroke-width="2.5"/>
<line x1="377.0" y1="2458.0" x2="415.0" y2="2458.0" stroke="#000" stroke-width="2.5"/>
<line x1="590.6" y1="2441.8" x2="590.6" y2="2490.8" stroke="#000" stroke-width="2.5"/>
<line x1="571.6" y1="2441.8" x2="609.6" y2="2441.8" stroke="#000" stroke-width="2.5"/>
<line x1="571.6" y1="2490.8" x2="609.6" y2="2490.8" stroke="#000" stroke-width="2.5"/>
<line x1="707.6" y1="2387.0" x2="707.6" y2="2453.0" stroke="#000" stroke-width="2.5"/>
<line x1="688.6" y1="2387.0" x2="726.6" y2="2387.0" stroke="#000" stroke-width="2.5"/>
<line x1="688.6" y1="2453.0" x2="726.6" y2="2453.0" stroke="#000" stroke-width="2.5"/>
<circle cx="279.0" cy="2328.4" r="8.3" fill="#fff" stroke="#000" stroke-width="2.6"/>
<circle cx="260.3" cy="2401.8" r="8.3" fill="#fff" stroke="#000" stroke-width="2.6"/>
<circle cx="298.2" cy="2393.8" r="8.3" fill="#fff" stroke="#000" stroke-width="2.6"/>
<circle cx="298.2" cy="2414.7" r="8.3" fill="#fff" stroke="#000" stroke-width="2.6"/>
<circle cx="260.3" cy="2430.7" r="8.3" fill="#fff" stroke="#000" stroke-width="2.6"/>
<circle cx="279.0" cy="2470.3" r="8.3" fill="#fff" stroke="#000" stroke-width="2.6"/>
<circle cx="260.3" cy="2579.8" r="8.3" fill="#fff" stroke="#000" stroke-width="2.6"/>
<circle cx="298.2" cy="2581.6" r="8.3" fill="#fff" stroke="#000" stroke-width="2.6"/>
<circle cx="279.0" cy="2600.7" r="8.3" fill="#fff" stroke="#000" stroke-width="2.6"/>
<circle cx="396.1" cy="2243.4" r="8.3" fill="#fff" stroke="#000" stroke-width="2.6"/>
<circle cx="396.1" cy="2316.8" r="8.3" fill="#fff" stroke="#000" stroke-width="2.6"/>
<circle cx="396.1" cy="2358.2" r="8.3" fill="#fff" stroke="#000" stroke-width="2.6"/>
<circle cx="377.4" cy="2381.3" r="8.3" fill="#fff" stroke="#000" stroke-width="2.6"/>
<circle cx="414.8" cy="2387.1" r="8.3" fill="#fff" stroke="#000" stroke-width="2.6"/>
<circle cx="396.1" cy="2411.6" r="8.3" fill="#fff" stroke="#000" stroke-width="2.6"/>
<circle cx="396.1" cy="2449.4" r="8.3" fill="#fff" stroke="#000" stroke-width="2.6"/>
<circle cx="396.1" cy="2505.0" r="8.3" fill="#fff" stroke="#000" stroke-width="2.6"/>
<circle cx="396.1" cy="2566.0" r="8.3" fill="#fff" stroke="#000" stroke-width="2.6"/>
<circle cx="396.1" cy="2612.7" r="8.3" fill="#fff" stroke="#000" stroke-width="2.6"/>
<circle cx="580.8" cy="2366.2" r="8.3" fill="#fff" stroke="#000" stroke-width="2.6"/>
<circle cx="599.9" cy="2362.6" r="8.3" fill="#fff" stroke="#000" stroke-width="2.6"/>
<circle cx="590.6" cy="2417.4" r="8.3" fill="#fff" stroke="#000" stroke-width="2.6"/>
<circle cx="560.7" cy="2482.8" r="8.3" fill="#fff" stroke="#000" stroke-width="2.6"/>
<circle cx="599.9" cy="2478.3" r="8.3" fill="#fff" stroke="#000" stroke-width="2.6"/>
<circle cx="619.9" cy="2477.4" r="8.3" fill="#fff" stroke="#000" stroke-width="2.6"/>
<circle cx="579.9" cy="2496.1" r="8.3" fill="#fff" stroke="#000" stroke-width="2.6"/>
<circle cx="590.6" cy="2540.6" r="8.3" fill="#fff" stroke="#000" stroke-width="2.6"/>
<circle cx="590.6" cy="2579.8" r="8.3" fill="#fff" stroke="#000" stroke-width="2.6"/>
<circle cx="707.6" cy="2227.8" r="8.3" fill="#fff" stroke="#000" stroke-width="2.6"/>
<circle cx="707.6" cy="2295.9" r="8.3" fill="#fff" stroke="#000" stroke-width="2.6"/>
<circle cx="707.6" cy="2316.8" r="8.3" fill="#fff" stroke="#000" stroke-width="2.6"/>
<circle cx="737.4" cy="2433.8" r="8.3" fill="#fff" stroke="#000" stroke-width="2.6"/>
<circle cx="677.8" cy="2450.7" r="8.3" fill="#fff" stroke="#000" stroke-width="2.6"/>
<circle cx="737.4" cy="2458.3" r="8.3" fill="#fff" stroke="#000" stroke-width="2.6"/>
<circle cx="707.6" cy="2468.1" r="8.3" fill="#fff" stroke="#000" stroke-width="2.6"/>
<circle cx="707.6" cy="2489.5" r="8.3" fill="#fff" stroke="#000" stroke-width="2.6"/>
<circle cx="707.6" cy="2515.3" r="8.3" fill="#fff" stroke="#000" stroke-width="2.6"/>
<circle cx="707.6" cy="2547.3" r="8.3" fill="#fff" stroke="#000" stroke-width="2.6"/>
<line x1="901.6" y1="2449.4" x2="901.6" y2="2483.7" stroke="#000" stroke-width="2.5"/>
<line x1="882.6" y1="2449.4" x2="920.6" y2="2449.4" stroke="#000" stroke-width="2.5"/>
<line x1="882.6" y1="2483.7" x2="920.6" y2="2483.7" stroke="#000" stroke-width="2.5"/>
<line x1="1017.8" y1="2371.5" x2="1017.8" y2="2431.6" stroke="#000" stroke-width="2.5"/>
<line x1="998.8" y1="2371.5" x2="1036.8" y2="2371.5" stroke="#000" stroke-width="2.5"/>
<line x1="998.8" y1="2431.6" x2="1036.8" y2="2431.6" stroke="#000" stroke-width="2.5"/>
<line x1="1212.7" y1="2446.0" x2="1212.7" y2="2488.0" stroke="#000" stroke-width="2.5"/>
<line x1="1193.7" y1="2446.0" x2="1231.7" y2="2446.0" stroke="#000" stroke-width="2.5"/>
<line x1="1193.7" y1="2488.0" x2="1231.7" y2="2488.0" stroke="#000" stroke-width="2.5"/>
<line x1="1328.8" y1="2392.9" x2="1328.8" y2="2455.0" stroke="#000" stroke-width="2.5"/>
<line x1="1309.8" y1="2392.9" x2="1347.8" y2="2392.9" stroke="#000" stroke-width="2.5"/>
<line x1="1309.8" y1="2455.0" x2="1347.8" y2="2455.0" stroke="#000" stroke-width="2.5"/>
<circle cx="882.5" cy="2389.3" r="8.3" fill="#fff" stroke="#000" stroke-width="2.6"/>
<circle cx="920.3" cy="2386.2" r="8.3" fill="#fff" stroke="#000" stroke-width="2.6"/>
<circle cx="901.6" cy="2442.7" r="8.3" fill="#fff" stroke="#000" stroke-width="2.6"/>
<circle cx="920.3" cy="2464.1" r="8.3" fill="#fff" stroke="#000" stroke-width="2.6"/>
<circle cx="882.5" cy="2480.6" r="8.3" fill="#fff" stroke="#000" stroke-width="2.6"/>
<circle cx="920.3" cy="2485.0" r="8.3" fill="#fff" stroke="#000" stroke-width="2.6"/>
<circle cx="882.5" cy="2501.5" r="8.3" fill="#fff" stroke="#000" stroke-width="2.6"/>
<circle cx="920.3" cy="2520.6" r="8.3" fill="#fff" stroke="#000" stroke-width="2.6"/>
<circle cx="882.5" cy="2530.9" r="8.3" fill="#fff" stroke="#000" stroke-width="2.6"/>
<circle cx="1017.8" cy="2270.5" r="8.3" fill="#fff" stroke="#000" stroke-width="2.6"/>
<circle cx="1008.0" cy="2291.4" r="8.3" fill="#fff" stroke="#000" stroke-width="2.6"/>
<circle cx="1027.5" cy="2308.3" r="8.3" fill="#fff" stroke="#000" stroke-width="2.6"/>
<circle cx="1017.8" cy="2349.3" r="8.3" fill="#fff" stroke="#000" stroke-width="2.6"/>
<circle cx="1017.8" cy="2370.6" r="8.3" fill="#fff" stroke="#000" stroke-width="2.6"/>
<circle cx="1017.8" cy="2430.7" r="8.3" fill="#fff" stroke="#000" stroke-width="2.6"/>
<circle cx="1008.0" cy="2492.6" r="8.3" fill="#fff" stroke="#000" stroke-width="2.6"/>
<circle cx="988.4" cy="2503.7" r="8.3" fill="#fff" stroke="#000" stroke-width="2.6"/>
<circle cx="1027.5" cy="2501.9" r="8.3" fill="#fff" stroke="#000" stroke-width="2.6"/>
<circle cx="1047.1" cy="2501.9" r="8.3" fill="#fff" stroke="#000" stroke-width="2.6"/>
<circle cx="1212.7" cy="2360.4" r="8.3" fill="#fff" stroke="#000" stroke-width="2.6"/>
<circle cx="1212.7" cy="2415.1" r="8.3" fill="#fff" stroke="#000" stroke-width="2.6"/>
<circle cx="1197.6" cy="2446.3" r="8.3" fill="#fff" stroke="#000" stroke-width="2.6"/>
<circle cx="1228.3" cy="2440.5" r="8.3" fill="#fff" stroke="#000" stroke-width="2.6"/>
<circle cx="1182.9" cy="2476.1" r="8.3" fill="#fff" stroke="#000" stroke-width="2.6"/>
<circle cx="1212.7" cy="2473.0" r="8.3" fill="#fff" stroke="#000" stroke-width="2.6"/>
<circle cx="1242.9" cy="2477.4" r="8.3" fill="#fff" stroke="#000" stroke-width="2.6"/>
<circle cx="1228.3" cy="2548.7" r="8.3" fill="#fff" stroke="#000" stroke-width="2.6"/>
<circle cx="1197.6" cy="2566.0" r="8.3" fill="#fff" stroke="#000" stroke-width="2.6"/>
<circle cx="1328.8" cy="2227.8" r="8.3" fill="#fff" stroke="#000" stroke-width="2.6"/>
<circle cx="1311.0" cy="2320.3" r="8.3" fill="#fff" stroke="#000" stroke-width="2.6"/>
<circle cx="1348.0" cy="2332.8" r="8.3" fill="#fff" stroke="#000" stroke-width="2.6"/>
<circle cx="1328.8" cy="2424.9" r="8.3" fill="#fff" stroke="#000" stroke-width="2.6"/>
<circle cx="1348.0" cy="2443.6" r="8.3" fill="#fff" stroke="#000" stroke-width="2.6"/>
<circle cx="1311.0" cy="2461.9" r="8.3" fill="#fff" stroke="#000" stroke-width="2.6"/>
<circle cx="1348.0" cy="2471.7" r="8.3" fill="#fff" stroke="#000" stroke-width="2.6"/>
<circle cx="1311.0" cy="2507.3" r="8.3" fill="#fff" stroke="#000" stroke-width="2.6"/>
<circle cx="1348.0" cy="2516.2" r="8.3" fill="#fff" stroke="#000" stroke-width="2.6"/>
<circle cx="1328.8" cy="2542.0" r="8.3" fill="#fff" stroke="#000" stroke-width="2.6"/>
<text x="318.0" y="2220.0" font-size="32" textLength="33.5" lengthAdjust="spacingAndGlyphs">ns</text>
<text x="632.0" y="2195.7" font-size="32" textLength="33.5" lengthAdjust="spacingAndGlyphs">ns</text>
<text x="944.8" y="2240.0" font-size="32" textLength="33.5" lengthAdjust="spacingAndGlyphs">ns</text>
<text x="1258.5" y="2193.5" font-size="32" textLength="33.5" lengthAdjust="spacingAndGlyphs">ns</text>
<text x="283.5" y="2706.6" font-size="34" font-style="italic" textLength="88.0" lengthAdjust="spacingAndGlyphs">Ppara</text>
<text x="594.0" y="2706.6" font-size="34" font-style="italic" textLength="89.0" lengthAdjust="spacingAndGlyphs">Cpt1a</text>
<text x="901.0" y="2706.6" font-size="34" font-style="italic" textLength="108.0" lengthAdjust="spacingAndGlyphs">Acadm</text>
<text x="1218.5" y="2713.0" font-size="34" font-style="italic" textLength="98.0" lengthAdjust="spacingAndGlyphs">Hadha</text>
<text x="98.0" y="2426.0" font-size="34.5" text-anchor="middle" textLength="334.0" lengthAdjust="spacingAndGlyphs" transform="rotate(-90 98.0 2426.0)" style="white-space:pre">Fold gene  expression</text>
<text x="1486.5" y="2153.7" font-size="60" font-weight="bold" fill="#000">i</text>
<rect x="1733.6" y="2482.5" width="100.7" height="173.5" fill="#ff2010" stroke="#000" stroke-width="2.5"/>
<rect x="1887.7" y="2512.0" width="101.6" height="144.0" fill="#2000ff" stroke="#000" stroke-width="2.5"/>
<line x1="1683.5" y1="2295.0" x2="1683.5" y2="2657.2" stroke="#000" stroke-width="2.5"/>
<line x1="1667.8" y1="2656.0" x2="2043.0" y2="2656.0" stroke="#000" stroke-width="2.5"/>
<line x1="1667.8" y1="2296.3" x2="1683.5" y2="2296.3" stroke="#000" stroke-width="2.5"/>
<text x="1656.0" y="2308.6" font-size="34.5" text-anchor="end">4</text>
<line x1="1667.8" y1="2387.6" x2="1683.5" y2="2387.6" stroke="#000" stroke-width="2.5"/>
<text x="1656.0" y="2399.9" font-size="34.5" text-anchor="end">3</text>
<line x1="1667.8" y1="2477.2" x2="1683.5" y2="2477.2" stroke="#000" stroke-width="2.5"/>
<text x="1656.0" y="2489.5" font-size="34.5" text-anchor="end">2</text>
<line x1="1667.8" y1="2566.8" x2="1683.5" y2="2566.8" stroke="#000" stroke-width="2.5"/>
<text x="1656.0" y="2579.1" font-size="34.5" text-anchor="end">1</text>
<line x1="1667.8" y1="2656.0" x2="1683.5" y2="2656.0" stroke="#000" stroke-width="2.5"/>
<text x="1656.0" y="2668.3" font-size="34.5" text-anchor="end">0</text>
<line x1="1785.0" y1="2656.0" x2="1785.0" y2="2672.0" stroke="#000" stroke-width="2.5"/>
<line x1="1939.0" y1="2656.0" x2="1939.0" y2="2672.0" stroke="#000" stroke-width="2.5"/>
<line x1="1785.0" y1="2458.7" x2="1785.0" y2="2504.0" stroke="#000" stroke-width="2.5"/>
<line x1="1759.0" y1="2458.7" x2="1811.0" y2="2458.7" stroke="#000" stroke-width="2.5"/>
<line x1="1759.0" y1="2504.0" x2="1811.0" y2="2504.0" stroke="#000" stroke-width="2.5"/>
<line x1="1939.0" y1="2494.4" x2="1939.0" y2="2528.6" stroke="#000" stroke-width="2.5"/>
<line x1="1913.5" y1="2494.4" x2="1964.5" y2="2494.4" stroke="#000" stroke-width="2.5"/>
<line x1="1913.5" y1="2528.6" x2="1964.5" y2="2528.6" stroke="#000" stroke-width="2.5"/>
<circle cx="1785.0" cy="2344.8" r="6.9" fill="#fff" stroke="#000" stroke-width="2.6"/>
<circle cx="1785.0" cy="2396.2" r="6.9" fill="#fff" stroke="#000" stroke-width="2.6"/>
<circle cx="1785.0" cy="2469.0" r="6.9" fill="#fff" stroke="#000" stroke-width="2.6"/>
<circle cx="1785.0" cy="2500.6" r="6.9" fill="#fff" stroke="#000" stroke-width="2.6"/>
<circle cx="1756.2" cy="2508.8" r="6.9" fill="#fff" stroke="#000" stroke-width="2.6"/>
<circle cx="1814.6" cy="2513.3" r="6.9" fill="#fff" stroke="#000" stroke-width="2.6"/>
<circle cx="1785.0" cy="2524.4" r="6.9" fill="#fff" stroke="#000" stroke-width="2.6"/>
<circle cx="1756.2" cy="2538.8" r="6.9" fill="#fff" stroke="#000" stroke-width="2.6"/>
<circle cx="1814.6" cy="2536.0" r="6.9" fill="#fff" stroke="#000" stroke-width="2.6"/>
<circle cx="1910.3" cy="2422.9" r="6.9" fill="#fff" stroke="#000" stroke-width="2.6"/>
<circle cx="1939.1" cy="2436.1" r="6.9" fill="#fff" stroke="#000" stroke-width="2.6"/>
<circle cx="1910.3" cy="2478.4" r="6.9" fill="#fff" stroke="#000" stroke-width="2.6"/>
<circle cx="1939.1" cy="2491.6" r="6.9" fill="#fff" stroke="#000" stroke-width="2.6"/>
<circle cx="1939.1" cy="2515.0" r="6.9" fill="#fff" stroke="#000" stroke-width="2.6"/>
<circle cx="1924.7" cy="2537.6" r="6.9" fill="#fff" stroke="#000" stroke-width="2.6"/>
<circle cx="1954.3" cy="2542.1" r="6.9" fill="#fff" stroke="#000" stroke-width="2.6"/>
<circle cx="1939.1" cy="2560.2" r="6.9" fill="#fff" stroke="#000" stroke-width="2.6"/>
<circle cx="1910.3" cy="2572.5" r="6.9" fill="#fff" stroke="#000" stroke-width="2.6"/>
<circle cx="1968.7" cy="2572.5" r="6.9" fill="#fff" stroke="#000" stroke-width="2.6"/>
<text x="1848.0" y="2286.0" font-size="32" textLength="33.5" lengthAdjust="spacingAndGlyphs">ns</text>
<polyline fill="none" stroke="#000" stroke-width="2.5" points="1785.0,2323.0 1785.0,2302.5 1939.0,2302.5 1939.0,2402.0"/>
<text x="1663.7" y="2703.0" font-size="34.5" textLength="172.5" lengthAdjust="spacingAndGlyphs">AAV8-GFP</text>
<text x="1861.0" y="2706.0" font-size="34.5" textLength="190.0" lengthAdjust="spacingAndGlyphs">AAV8-AGXT</text>
<text x="1556.0" y="2469.0" font-size="34.5" text-anchor="middle" textLength="271.0" lengthAdjust="spacingAndGlyphs" transform="rotate(-90 1556.0 2469.0)" style="white-space:pre">Liver  triglycerides</text>
<text x="1603.0" y="2468.0" font-size="34.5" text-anchor="middle" textLength="245.0" lengthAdjust="spacingAndGlyphs" transform="rotate(-90 1603.0 2468.0)">(µg/ mg protein)</text>
</svg>
</body></html>
